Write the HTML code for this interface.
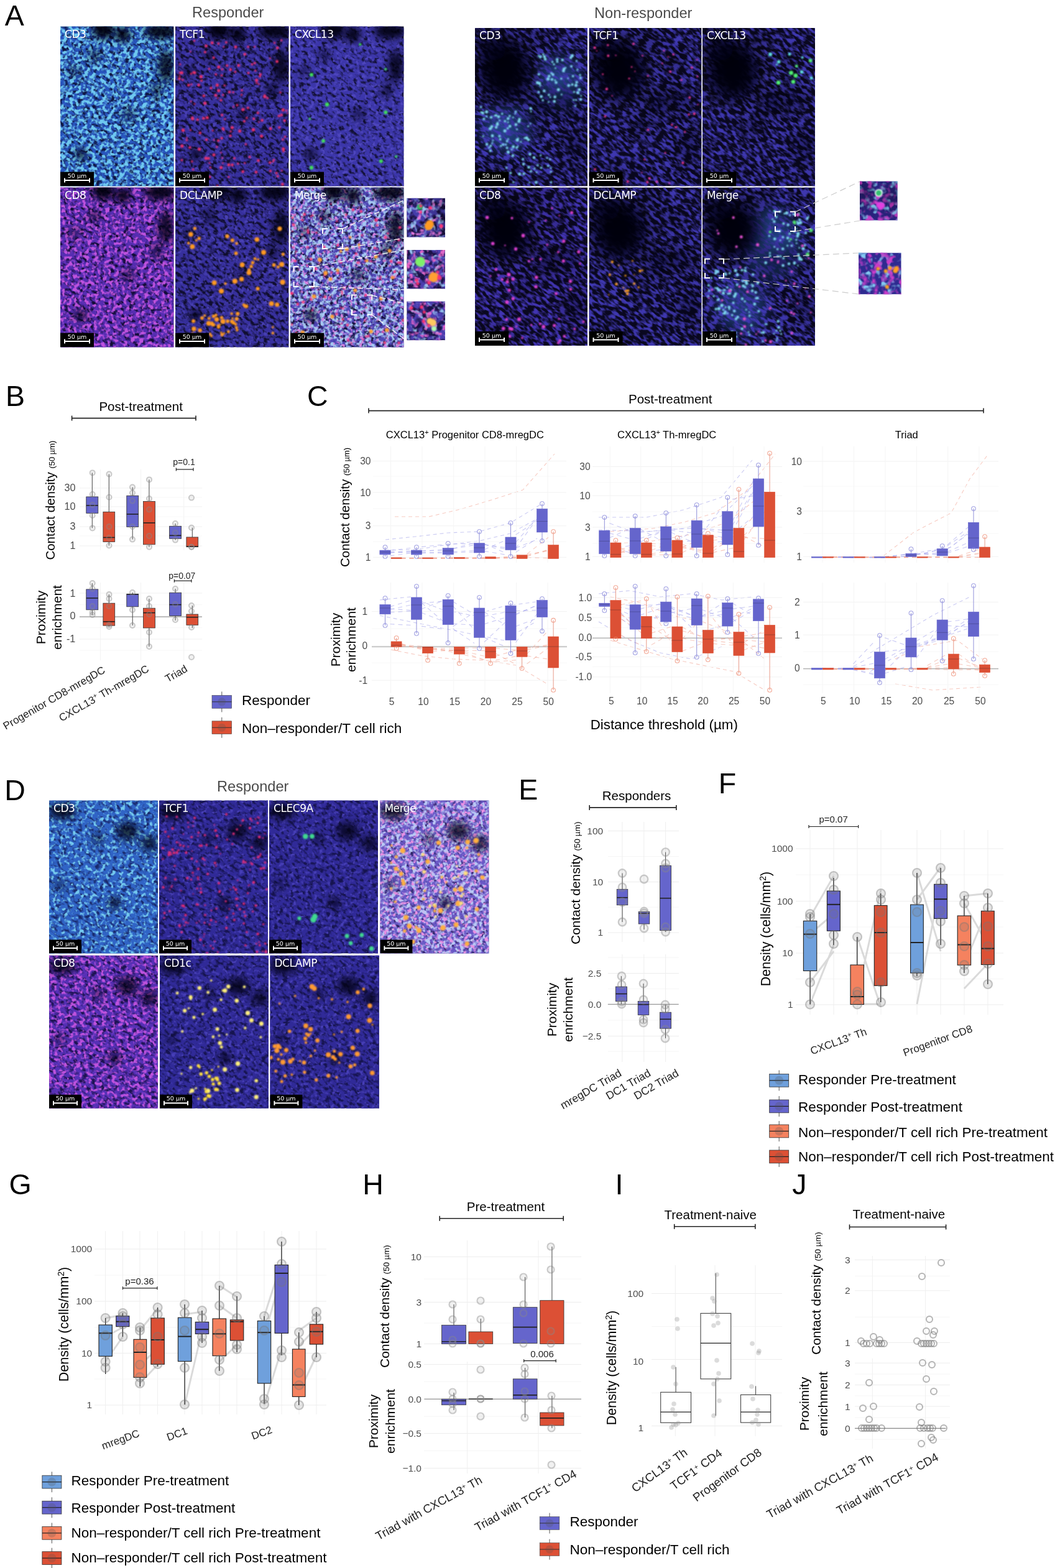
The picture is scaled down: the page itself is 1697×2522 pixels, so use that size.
<!DOCTYPE html><html><head><meta charset="utf-8"><title>Figure</title><style>html,body{margin:0;padding:0;background:#fff;}svg{display:block;}</style></head><body><svg width="1697" height="2522" viewBox="0 0 1697 2522" font-family='"Liberation Sans", Arial, Helvetica, sans-serif'><defs><filter id="blur8" x="-50%" y="-50%" width="200%" height="200%"><feGaussianBlur stdDeviation="8"/></filter><filter id="blur14" x="-50%" y="-50%" width="200%" height="200%"><feGaussianBlur stdDeviation="14"/></filter><filter id="blur6" x="-50%" y="-50%" width="200%" height="200%"><feGaussianBlur stdDeviation="6"/></filter><filter id="blur3" x="-50%" y="-50%" width="200%" height="200%"><feGaussianBlur stdDeviation="2.5"/></filter><filter id="blur1" x="-50%" y="-50%" width="200%" height="200%"><feGaussianBlur stdDeviation="1"/></filter><filter id="f1" x="0" y="0" width="1" height="1" color-interpolation-filters="sRGB"><feTurbulence type="fractalNoise" baseFrequency="0.12 0.2" numOctaves="2" seed="3"/><feColorMatrix type="matrix" values="0 0 0 0 0.157 0 0 0 0 0.333 0 0 0 0 0.745 4.0 0 0 0 -1.2"/></filter><filter id="f2" x="0" y="0" width="1" height="1" color-interpolation-filters="sRGB"><feTurbulence type="fractalNoise" baseFrequency="0.17" numOctaves="2" seed="4"/><feColorMatrix type="matrix" values="0 0 0 0 0.431 0 0 0 0 0.784 0 0 0 0 0.941 5.0 0 0 0 -2.2"/></filter><filter id="f3" x="0" y="0" width="1" height="1" color-interpolation-filters="sRGB"><feTurbulence type="fractalNoise" baseFrequency="0.12 0.2" numOctaves="2" seed="5"/><feColorMatrix type="matrix" values="0 0 0 0 0.216 0 0 0 0 0.188 0 0 0 0 0.620 4.0 0 0 0 -1.3"/></filter><filter id="f4" x="0" y="0" width="1" height="1" color-interpolation-filters="sRGB"><feTurbulence type="fractalNoise" baseFrequency="0.17" numOctaves="2" seed="6"/><feColorMatrix type="matrix" values="0 0 0 0 0.282 0 0 0 0 0.251 0 0 0 0 0.706 5.0 0 0 0 -2.7"/></filter><filter id="f5" x="0" y="0" width="1" height="1" color-interpolation-filters="sRGB"><feTurbulence type="fractalNoise" baseFrequency="0.12 0.2" numOctaves="2" seed="7"/><feColorMatrix type="matrix" values="0 0 0 0 0.235 0 0 0 0 0.212 0 0 0 0 0.667 4.0 0 0 0 -1.15"/></filter><filter id="f6" x="0" y="0" width="1" height="1" color-interpolation-filters="sRGB"><feTurbulence type="fractalNoise" baseFrequency="0.17" numOctaves="2" seed="8"/><feColorMatrix type="matrix" values="0 0 0 0 0.306 0 0 0 0 0.275 0 0 0 0 0.745 5.0 0 0 0 -2.6"/></filter><filter id="f7" x="0" y="0" width="1" height="1" color-interpolation-filters="sRGB"><feTurbulence type="fractalNoise" baseFrequency="0.12 0.2" numOctaves="2" seed="9"/><feColorMatrix type="matrix" values="0 0 0 0 0.337 0 0 0 0 0.176 0 0 0 0 0.698 4.0 0 0 0 -1.15"/></filter><filter id="f8" x="0" y="0" width="1" height="1" color-interpolation-filters="sRGB"><feTurbulence type="fractalNoise" baseFrequency="0.17" numOctaves="2" seed="10"/><feColorMatrix type="matrix" values="0 0 0 0 0.745 0 0 0 0 0.322 0 0 0 0 0.871 5.0 0 0 0 -2.35"/></filter><filter id="f9" x="0" y="0" width="1" height="1" color-interpolation-filters="sRGB"><feTurbulence type="fractalNoise" baseFrequency="0.12 0.2" numOctaves="2" seed="11"/><feColorMatrix type="matrix" values="0 0 0 0 0.216 0 0 0 0 0.188 0 0 0 0 0.620 4.0 0 0 0 -1.3"/></filter><filter id="f10" x="0" y="0" width="1" height="1" color-interpolation-filters="sRGB"><feTurbulence type="fractalNoise" baseFrequency="0.17" numOctaves="2" seed="12"/><feColorMatrix type="matrix" values="0 0 0 0 0.282 0 0 0 0 0.251 0 0 0 0 0.706 5.0 0 0 0 -2.7"/></filter><filter id="f11" x="0" y="0" width="1" height="1" color-interpolation-filters="sRGB"><feTurbulence type="fractalNoise" baseFrequency="0.12 0.2" numOctaves="2" seed="13"/><feColorMatrix type="matrix" values="0 0 0 0 0.314 0 0 0 0 0.282 0 0 0 0 0.725 4.0 0 0 0 -1.05"/></filter><filter id="f12" x="0" y="0" width="1" height="1" color-interpolation-filters="sRGB"><feTurbulence type="fractalNoise" baseFrequency="0.17" numOctaves="2" seed="14"/><feColorMatrix type="matrix" values="0 0 0 0 0.647 0 0 0 0 0.784 0 0 0 0 0.949 5.0 0 0 0 -2.15"/></filter><filter id="f13" x="0" y="0" width="1" height="1" color-interpolation-filters="sRGB"><feTurbulence type="fractalNoise" baseFrequency="0.18" numOctaves="2" seed="15"/><feColorMatrix type="matrix" values="0 0 0 0 0.843 0 0 0 0 0.510 0 0 0 0 0.882 5.0 0 0 0 -2.75"/></filter><filter id="f14" x="0" y="0" width="1" height="1" color-interpolation-filters="sRGB"><feTurbulence type="fractalNoise" baseFrequency="0.16" numOctaves="2" seed="17"/><feColorMatrix type="matrix" values="0 0 0 0 0.047 0 0 0 0 0.039 0 0 0 0 0.149 4.0 0 0 0 -2.35"/></filter><filter id="f15" x="0" y="0" width="1" height="1" color-interpolation-filters="sRGB"><feTurbulence type="fractalNoise" baseFrequency="0.1" numOctaves="2" seed="20"/><feColorMatrix type="matrix" values="0 0 0 0 0.275 0 0 0 0 0.235 0 0 0 0 0.667 4.0 0 0 0 -1.4"/></filter><filter id="f16" x="0" y="0" width="1" height="1" color-interpolation-filters="sRGB"><feTurbulence type="fractalNoise" baseFrequency="0.12" numOctaves="2" seed="21"/><feColorMatrix type="matrix" values="0 0 0 0 0.588 0 0 0 0 0.765 0 0 0 0 0.941 4.0 0 0 0 -2.0"/></filter><filter id="f17" x="0" y="0" width="1" height="1" color-interpolation-filters="sRGB"><feTurbulence type="fractalNoise" baseFrequency="0.12" numOctaves="2" seed="22"/><feColorMatrix type="matrix" values="0 0 0 0 0.882 0 0 0 0 0.471 0 0 0 0 0.863 4.0 0 0 0 -2.2"/></filter><filter id="f18" x="0" y="0" width="1" height="1" color-interpolation-filters="sRGB"><feTurbulence type="fractalNoise" baseFrequency="0.1" numOctaves="2" seed="23"/><feColorMatrix type="matrix" values="0 0 0 0 0.294 0 0 0 0 0.243 0 0 0 0 0.686 4.0 0 0 0 -1.4"/></filter><filter id="f19" x="0" y="0" width="1" height="1" color-interpolation-filters="sRGB"><feTurbulence type="fractalNoise" baseFrequency="0.12" numOctaves="2" seed="24"/><feColorMatrix type="matrix" values="0 0 0 0 0.588 0 0 0 0 0.765 0 0 0 0 0.941 4.0 0 0 0 -2.1"/></filter><filter id="f20" x="0" y="0" width="1" height="1" color-interpolation-filters="sRGB"><feTurbulence type="fractalNoise" baseFrequency="0.12" numOctaves="2" seed="25"/><feColorMatrix type="matrix" values="0 0 0 0 0.902 0 0 0 0 0.392 0 0 0 0 0.784 4.0 0 0 0 -2.0"/></filter><filter id="f21" x="0" y="0" width="1" height="1" color-interpolation-filters="sRGB"><feTurbulence type="fractalNoise" baseFrequency="0.1" numOctaves="2" seed="26"/><feColorMatrix type="matrix" values="0 0 0 0 0.294 0 0 0 0 0.243 0 0 0 0 0.686 4.0 0 0 0 -1.4"/></filter><filter id="f22" x="0" y="0" width="1" height="1" color-interpolation-filters="sRGB"><feTurbulence type="fractalNoise" baseFrequency="0.12" numOctaves="2" seed="27"/><feColorMatrix type="matrix" values="0 0 0 0 0.588 0 0 0 0 0.765 0 0 0 0 0.941 4.0 0 0 0 -2.1"/></filter><filter id="f23" x="0" y="0" width="1" height="1" color-interpolation-filters="sRGB"><feTurbulence type="fractalNoise" baseFrequency="0.12" numOctaves="2" seed="28"/><feColorMatrix type="matrix" values="0 0 0 0 0.902 0 0 0 0 0.392 0 0 0 0 0.784 4.0 0 0 0 -2.1"/></filter><filter id="f24" x="0" y="0" width="1" height="1" color-interpolation-filters="sRGB"><feTurbulence type="fractalNoise" baseFrequency="0.09 0.21" numOctaves="2" seed="31"/><feColorMatrix type="matrix" values="0 0 0 0 0.243 0 0 0 0 0.216 0 0 0 0 0.686 4.0 0 0 0 -1.65"/></filter><filter id="f25" x="0" y="0" width="1" height="1" color-interpolation-filters="sRGB"><feTurbulence type="fractalNoise" baseFrequency="0.09 0.21" numOctaves="2" seed="33"/><feColorMatrix type="matrix" values="0 0 0 0 0.243 0 0 0 0 0.216 0 0 0 0 0.686 4.0 0 0 0 -1.65"/></filter><filter id="f26" x="0" y="0" width="1" height="1" color-interpolation-filters="sRGB"><feTurbulence type="fractalNoise" baseFrequency="0.09 0.21" numOctaves="2" seed="35"/><feColorMatrix type="matrix" values="0 0 0 0 0.243 0 0 0 0 0.216 0 0 0 0 0.686 4.0 0 0 0 -1.65"/></filter><filter id="f27" x="0" y="0" width="1" height="1" color-interpolation-filters="sRGB"><feTurbulence type="fractalNoise" baseFrequency="0.09 0.21" numOctaves="2" seed="37"/><feColorMatrix type="matrix" values="0 0 0 0 0.255 0 0 0 0 0.204 0 0 0 0 0.698 4.0 0 0 0 -1.65"/></filter><filter id="f28" x="0" y="0" width="1" height="1" color-interpolation-filters="sRGB"><feTurbulence type="fractalNoise" baseFrequency="0.09 0.21" numOctaves="2" seed="39"/><feColorMatrix type="matrix" values="0 0 0 0 0.243 0 0 0 0 0.216 0 0 0 0 0.686 4.0 0 0 0 -1.65"/></filter><filter id="f29" x="0" y="0" width="1" height="1" color-interpolation-filters="sRGB"><feTurbulence type="fractalNoise" baseFrequency="0.09 0.21" numOctaves="2" seed="41"/><feColorMatrix type="matrix" values="0 0 0 0 0.243 0 0 0 0 0.216 0 0 0 0 0.686 4.0 0 0 0 -1.6"/></filter><filter id="f30" x="0" y="0" width="1" height="1" color-interpolation-filters="sRGB"><feTurbulence type="fractalNoise" baseFrequency="0.1" numOctaves="2" seed="51"/><feColorMatrix type="matrix" values="0 0 0 0 0.510 0 0 0 0 0.784 0 0 0 0 0.941 4.0 0 0 0 -2.0"/></filter><filter id="f31" x="0" y="0" width="1" height="1" color-interpolation-filters="sRGB"><feTurbulence type="fractalNoise" baseFrequency="0.1" numOctaves="2" seed="52"/><feColorMatrix type="matrix" values="0 0 0 0 0.784 0 0 0 0 0.235 0 0 0 0 0.784 4.0 0 0 0 -1.9"/></filter><filter id="f32" x="0" y="0" width="1" height="1" color-interpolation-filters="sRGB"><feTurbulence type="fractalNoise" baseFrequency="0.1" numOctaves="2" seed="53"/><feColorMatrix type="matrix" values="0 0 0 0 0.510 0 0 0 0 0.784 0 0 0 0 0.941 4.0 0 0 0 -2.0"/></filter><filter id="f33" x="0" y="0" width="1" height="1" color-interpolation-filters="sRGB"><feTurbulence type="fractalNoise" baseFrequency="0.1" numOctaves="2" seed="54"/><feColorMatrix type="matrix" values="0 0 0 0 0.784 0 0 0 0 0.235 0 0 0 0 0.784 4.0 0 0 0 -1.9"/></filter><filter id="f34" x="0" y="0" width="1" height="1" color-interpolation-filters="sRGB"><feTurbulence type="fractalNoise" baseFrequency="0.12 0.2" numOctaves="2" seed="61"/><feColorMatrix type="matrix" values="0 0 0 0 0.188 0 0 0 0 0.392 0 0 0 0 0.776 4.0 0 0 0 -1.1"/></filter><filter id="f35" x="0" y="0" width="1" height="1" color-interpolation-filters="sRGB"><feTurbulence type="fractalNoise" baseFrequency="0.17" numOctaves="2" seed="62"/><feColorMatrix type="matrix" values="0 0 0 0 0.451 0 0 0 0 0.784 0 0 0 0 0.933 5.0 0 0 0 -2.55"/></filter><filter id="f36" x="0" y="0" width="1" height="1" color-interpolation-filters="sRGB"><feTurbulence type="fractalNoise" baseFrequency="0.12 0.2" numOctaves="2" seed="63"/><feColorMatrix type="matrix" values="0 0 0 0 0.188 0 0 0 0 0.165 0 0 0 0 0.596 4.0 0 0 0 -1.2"/></filter><filter id="f37" x="0" y="0" width="1" height="1" color-interpolation-filters="sRGB"><feTurbulence type="fractalNoise" baseFrequency="0.17" numOctaves="2" seed="64"/><feColorMatrix type="matrix" values="0 0 0 0 0.275 0 0 0 0 0.243 0 0 0 0 0.714 5.0 0 0 0 -2.7"/></filter><filter id="f38" x="0" y="0" width="1" height="1" color-interpolation-filters="sRGB"><feTurbulence type="fractalNoise" baseFrequency="0.12 0.2" numOctaves="2" seed="65"/><feColorMatrix type="matrix" values="0 0 0 0 0.188 0 0 0 0 0.165 0 0 0 0 0.596 4.0 0 0 0 -1.2"/></filter><filter id="f39" x="0" y="0" width="1" height="1" color-interpolation-filters="sRGB"><feTurbulence type="fractalNoise" baseFrequency="0.17" numOctaves="2" seed="66"/><feColorMatrix type="matrix" values="0 0 0 0 0.275 0 0 0 0 0.243 0 0 0 0 0.714 5.0 0 0 0 -2.7"/></filter><filter id="f40" x="0" y="0" width="1" height="1" color-interpolation-filters="sRGB"><feTurbulence type="fractalNoise" baseFrequency="0.12 0.2" numOctaves="2" seed="67"/><feColorMatrix type="matrix" values="0 0 0 0 0.412 0 0 0 0 0.345 0 0 0 0 0.776 4.0 0 0 0 -0.9"/></filter><filter id="f41" x="0" y="0" width="1" height="1" color-interpolation-filters="sRGB"><feTurbulence type="fractalNoise" baseFrequency="0.17" numOctaves="2" seed="68"/><feColorMatrix type="matrix" values="0 0 0 0 0.725 0 0 0 0 0.784 0 0 0 0 0.961 5.0 0 0 0 -2.25"/></filter><filter id="f42" x="0" y="0" width="1" height="1" color-interpolation-filters="sRGB"><feTurbulence type="fractalNoise" baseFrequency="0.18" numOctaves="2" seed="69"/><feColorMatrix type="matrix" values="0 0 0 0 0.910 0 0 0 0 0.569 0 0 0 0 0.894 5.0 0 0 0 -2.6"/></filter><filter id="f43" x="0" y="0" width="1" height="1" color-interpolation-filters="sRGB"><feTurbulence type="fractalNoise" baseFrequency="0.12 0.2" numOctaves="2" seed="70"/><feColorMatrix type="matrix" values="0 0 0 0 0.337 0 0 0 0 0.188 0 0 0 0 0.714 4.0 0 0 0 -1.2"/></filter><filter id="f44" x="0" y="0" width="1" height="1" color-interpolation-filters="sRGB"><feTurbulence type="fractalNoise" baseFrequency="0.17" numOctaves="2" seed="71"/><feColorMatrix type="matrix" values="0 0 0 0 0.745 0 0 0 0 0.322 0 0 0 0 0.871 5.0 0 0 0 -2.4"/></filter><filter id="f45" x="0" y="0" width="1" height="1" color-interpolation-filters="sRGB"><feTurbulence type="fractalNoise" baseFrequency="0.12 0.2" numOctaves="2" seed="72"/><feColorMatrix type="matrix" values="0 0 0 0 0.188 0 0 0 0 0.165 0 0 0 0 0.596 4.0 0 0 0 -1.2"/></filter><filter id="f46" x="0" y="0" width="1" height="1" color-interpolation-filters="sRGB"><feTurbulence type="fractalNoise" baseFrequency="0.17" numOctaves="2" seed="73"/><feColorMatrix type="matrix" values="0 0 0 0 0.275 0 0 0 0 0.243 0 0 0 0 0.714 5.0 0 0 0 -2.7"/></filter><filter id="f47" x="0" y="0" width="1" height="1" color-interpolation-filters="sRGB"><feTurbulence type="fractalNoise" baseFrequency="0.12 0.2" numOctaves="2" seed="74"/><feColorMatrix type="matrix" values="0 0 0 0 0.188 0 0 0 0 0.165 0 0 0 0 0.596 4.0 0 0 0 -1.2"/></filter><filter id="f48" x="0" y="0" width="1" height="1" color-interpolation-filters="sRGB"><feTurbulence type="fractalNoise" baseFrequency="0.17" numOctaves="2" seed="75"/><feColorMatrix type="matrix" values="0 0 0 0 0.275 0 0 0 0 0.243 0 0 0 0 0.714 5.0 0 0 0 -2.7"/></filter></defs><rect width="1697" height="2522" fill="#fff"/><text x="7.7" y="40.6" font-size="46.5" text-anchor="start" fill="#000">A</text>
<text x="309.0" y="28.2" font-size="23.6" text-anchor="start" fill="#4a4a4a">Responder</text>
<text x="956.0" y="28.7" font-size="23.6" text-anchor="start" fill="#4a4a4a">Non-responder</text>
<svg x="97.0" y="42.5" width="182.5" height="257.0" overflow="hidden">
<rect width="182.5" height="257.0" fill="#0e1640"/>
<rect x="-66.4" y="-29.1" width="315.2" height="315.2" filter="url(#f1)" transform="rotate(35 91.2 128.5)"/>
<rect x="-66.4" y="-29.1" width="315.2" height="315.2" filter="url(#f2)" transform="rotate(35 91.2 128.5)"/>
<ellipse cx="69.3" cy="5.1" rx="18.2" ry="15.4" fill="#05030f" opacity="0.95" filter="url(#blur6)"/>
<ellipse cx="100.4" cy="12.9" rx="12.8" ry="12.9" fill="#05030f" opacity="0.9" filter="url(#blur6)"/>
<ellipse cx="160.6" cy="7.7" rx="25.6" ry="12.9" fill="#05030f" opacity="0.9" filter="url(#blur6)"/>
<ellipse cx="169.7" cy="64.2" rx="12.8" ry="25.7" fill="#05030f" opacity="0.8" filter="url(#blur6)"/>
<ellipse cx="155.1" cy="102.8" rx="9.1" ry="12.9" fill="#05030f" opacity="0.6" filter="url(#blur6)"/>
<ellipse cx="32.9" cy="205.6" rx="9.1" ry="9.0" fill="#05030f" opacity="0.85" filter="url(#blur6)"/>
<ellipse cx="109.5" cy="141.4" rx="10.9" ry="10.3" fill="#05030f" opacity="0.5" filter="url(#blur6)"/>
<ellipse cx="21.9" cy="72.0" rx="10.9" ry="7.7" fill="#05030f" opacity="0.5" filter="url(#blur6)"/>
<ellipse cx="54.8" cy="46.3" rx="9.1" ry="10.3" fill="#05030f" opacity="0.6" filter="url(#blur6)"/>
<text x="7" y="18" font-size="17" fill="#fff" font-family='"DejaVu Sans", sans-serif' letter-spacing="-0.45">CD3</text>
<rect x="0" y="234.0" width="54" height="23" fill="#000"/>
<text x="27.0" y="243.5" font-size="9.5" fill="#fff" text-anchor="middle" font-family='"DejaVu Sans", sans-serif'>50 µm</text>
<path d="M7 247.5 H47 M7 244.0 V251.0 M47 244.0 V251.0" stroke="#fff" stroke-width="2" fill="none"/>
</svg>
<svg x="282.0" y="42.5" width="182.5" height="257.0" overflow="hidden">
<rect width="182.5" height="257.0" fill="#100e30"/>
<rect x="-66.4" y="-29.1" width="315.2" height="315.2" filter="url(#f3)" transform="rotate(35 91.2 128.5)"/>
<rect x="-66.4" y="-29.1" width="315.2" height="315.2" filter="url(#f4)" transform="rotate(35 91.2 128.5)"/>
<ellipse cx="69.3" cy="5.1" rx="18.2" ry="15.4" fill="#05030f" opacity="0.95" filter="url(#blur6)"/>
<ellipse cx="100.4" cy="12.9" rx="12.8" ry="12.9" fill="#05030f" opacity="0.9" filter="url(#blur6)"/>
<ellipse cx="160.6" cy="7.7" rx="25.6" ry="12.9" fill="#05030f" opacity="0.9" filter="url(#blur6)"/>
<ellipse cx="169.7" cy="64.2" rx="12.8" ry="25.7" fill="#05030f" opacity="0.8" filter="url(#blur6)"/>
<ellipse cx="155.1" cy="102.8" rx="9.1" ry="12.9" fill="#05030f" opacity="0.6" filter="url(#blur6)"/>
<ellipse cx="32.9" cy="205.6" rx="9.1" ry="9.0" fill="#05030f" opacity="0.85" filter="url(#blur6)"/>
<ellipse cx="109.5" cy="141.4" rx="10.9" ry="10.3" fill="#05030f" opacity="0.5" filter="url(#blur6)"/>
<ellipse cx="21.9" cy="72.0" rx="10.9" ry="7.7" fill="#05030f" opacity="0.5" filter="url(#blur6)"/>
<ellipse cx="54.8" cy="46.3" rx="9.1" ry="10.3" fill="#05030f" opacity="0.6" filter="url(#blur6)"/>
<g fill="#f0306a" filter="url(#blur1)"><circle cx="88.6" cy="176.0" r="2.1"/><circle cx="30.5" cy="23.1" r="1.7"/><circle cx="53.5" cy="212.2" r="2.2"/><circle cx="110.9" cy="152.5" r="2.1"/><circle cx="30.9" cy="124.6" r="1.4"/><circle cx="164.2" cy="34.5" r="2.3"/><circle cx="18.5" cy="183.0" r="1.7"/><circle cx="76.4" cy="219.7" r="1.2"/><circle cx="16.1" cy="236.9" r="1.9"/><circle cx="21.4" cy="254.0" r="2.5"/><circle cx="25.2" cy="120.6" r="1.4"/><circle cx="60.2" cy="167.5" r="1.4"/><circle cx="127.6" cy="32.7" r="1.4"/><circle cx="148.4" cy="115.3" r="1.8"/><circle cx="109.9" cy="133.3" r="1.7"/><circle cx="10.8" cy="192.3" r="2.6"/><circle cx="176.5" cy="177.5" r="1.7"/><circle cx="69.1" cy="183.7" r="2.1"/><circle cx="25.4" cy="76.1" r="1.7"/><circle cx="95.1" cy="212.1" r="1.9"/><circle cx="10.4" cy="215.0" r="1.8"/><circle cx="96.4" cy="73.1" r="1.8"/><circle cx="73.5" cy="203.1" r="1.3"/><circle cx="101.8" cy="62.7" r="2.2"/><circle cx="11.9" cy="85.9" r="1.7"/><circle cx="117.1" cy="32.9" r="1.8"/><circle cx="42.1" cy="87.2" r="1.9"/><circle cx="173.4" cy="134.3" r="2.5"/><circle cx="34.8" cy="239.1" r="1.7"/><circle cx="38.6" cy="197.5" r="2.5"/><circle cx="6.6" cy="84.0" r="2.3"/><circle cx="65.4" cy="77.7" r="1.2"/><circle cx="12.5" cy="166.9" r="2.6"/><circle cx="180.4" cy="139.6" r="1.2"/><circle cx="62.0" cy="206.7" r="2.4"/><circle cx="117.5" cy="74.8" r="1.9"/><circle cx="89.1" cy="168.8" r="1.6"/><circle cx="171.3" cy="232.0" r="1.4"/><circle cx="56.5" cy="227.0" r="1.6"/><circle cx="170.8" cy="142.4" r="2.2"/><circle cx="128.9" cy="71.2" r="1.6"/><circle cx="50.1" cy="182.1" r="2.2"/><circle cx="28.6" cy="230.1" r="1.8"/><circle cx="47.7" cy="123.5" r="2.6"/><circle cx="103.6" cy="168.3" r="2.5"/><circle cx="174.0" cy="200.4" r="1.8"/><circle cx="108.6" cy="233.6" r="2.3"/><circle cx="107.1" cy="102.7" r="1.7"/><circle cx="134.4" cy="153.8" r="1.2"/><circle cx="129.9" cy="234.3" r="2.3"/><circle cx="162.7" cy="235.8" r="1.9"/><circle cx="143.7" cy="110.3" r="1.3"/><circle cx="67.4" cy="94.4" r="2.5"/><circle cx="126.2" cy="148.6" r="2.1"/><circle cx="27.3" cy="146.9" r="2.2"/><circle cx="74.5" cy="78.7" r="1.8"/><circle cx="62.2" cy="182.6" r="1.4"/><circle cx="21.3" cy="94.4" r="2.2"/><circle cx="138.6" cy="176.5" r="2.5"/><circle cx="69.5" cy="27.6" r="1.9"/><circle cx="83.2" cy="63.0" r="2.1"/><circle cx="65.3" cy="76.9" r="1.7"/><circle cx="170.8" cy="22.4" r="1.7"/><circle cx="54.5" cy="68.2" r="1.8"/><circle cx="44.1" cy="237.8" r="1.9"/><circle cx="127.8" cy="58.9" r="1.9"/><circle cx="111.7" cy="219.8" r="1.5"/><circle cx="86.0" cy="222.7" r="2.4"/><circle cx="45.3" cy="147.8" r="2.3"/><circle cx="74.7" cy="179.8" r="2.1"/><circle cx="175.8" cy="151.5" r="2.2"/><circle cx="66.8" cy="193.7" r="1.7"/><circle cx="93.1" cy="105.9" r="1.6"/><circle cx="29.3" cy="73.9" r="2.0"/><circle cx="49.6" cy="31.4" r="2.3"/><circle cx="55.5" cy="241.9" r="2.0"/><circle cx="73.6" cy="227.0" r="2.5"/><circle cx="61.7" cy="50.3" r="2.1"/><circle cx="153.1" cy="164.4" r="2.3"/><circle cx="77.7" cy="166.6" r="1.6"/><circle cx="76.8" cy="110.3" r="1.7"/><circle cx="75.5" cy="211.4" r="1.4"/><circle cx="41.4" cy="80.8" r="2.6"/><circle cx="97.1" cy="33.1" r="2.4"/><circle cx="158.5" cy="214.7" r="1.7"/><circle cx="134.2" cy="92.8" r="1.4"/><circle cx="157.1" cy="217.5" r="1.5"/><circle cx="159.6" cy="26.4" r="1.6"/><circle cx="7.7" cy="61.0" r="1.4"/><circle cx="130.9" cy="90.7" r="1.5"/><circle cx="37.7" cy="94.3" r="2.4"/><circle cx="111.8" cy="44.8" r="2.2"/><circle cx="99.4" cy="126.6" r="1.9"/><circle cx="119.6" cy="209.9" r="1.9"/><circle cx="116.8" cy="131.0" r="2.1"/><circle cx="73.5" cy="118.7" r="1.9"/><circle cx="130.7" cy="86.4" r="2.5"/><circle cx="91.6" cy="222.8" r="2.2"/><circle cx="173.0" cy="181.9" r="1.8"/><circle cx="76.6" cy="164.2" r="2.3"/><circle cx="152.5" cy="51.1" r="1.3"/><circle cx="24.4" cy="40.5" r="1.3"/><circle cx="6.9" cy="79.6" r="1.4"/><circle cx="125.5" cy="166.2" r="2.6"/><circle cx="173.8" cy="197.1" r="2.5"/><circle cx="10.4" cy="74.5" r="2.5"/><circle cx="88.8" cy="69.4" r="2.3"/><circle cx="79.7" cy="149.0" r="1.6"/><circle cx="47.8" cy="41.2" r="2.0"/><circle cx="172.4" cy="253.9" r="2.3"/><circle cx="169.0" cy="106.2" r="1.6"/><circle cx="167.3" cy="162.5" r="2.1"/><circle cx="7.7" cy="74.6" r="1.9"/><circle cx="133.5" cy="215.8" r="2.3"/><circle cx="65.0" cy="110.8" r="2.4"/><circle cx="178.8" cy="135.2" r="1.5"/><circle cx="114.9" cy="147.3" r="1.7"/><circle cx="45.9" cy="111.7" r="2.1"/><circle cx="27.7" cy="148.5" r="2.5"/><circle cx="136.0" cy="80.2" r="1.8"/><circle cx="23.4" cy="194.8" r="2.1"/><circle cx="35.8" cy="150.1" r="2.0"/><circle cx="106.6" cy="110.0" r="1.6"/><circle cx="67.6" cy="256.4" r="1.7"/><circle cx="93.5" cy="129.3" r="1.4"/><circle cx="75.5" cy="69.0" r="1.7"/><circle cx="69.8" cy="103.3" r="2.5"/><circle cx="57.5" cy="99.1" r="2.1"/><circle cx="75.1" cy="142.5" r="2.1"/><circle cx="18.4" cy="179.3" r="1.3"/><circle cx="49.3" cy="212.0" r="2.6"/><circle cx="123.5" cy="61.1" r="1.8"/><circle cx="55.0" cy="219.4" r="1.5"/><circle cx="39.9" cy="171.4" r="2.1"/><circle cx="108.8" cy="133.8" r="2.5"/><circle cx="85.8" cy="242.1" r="1.7"/><circle cx="87.0" cy="105.5" r="2.2"/><circle cx="137.1" cy="77.1" r="1.9"/><circle cx="132.8" cy="139.1" r="2.1"/><circle cx="113.4" cy="189.5" r="1.7"/><circle cx="59.2" cy="26.4" r="2.4"/><circle cx="143.9" cy="112.8" r="2.6"/><circle cx="163.6" cy="56.4" r="2.4"/><circle cx="79.2" cy="94.9" r="1.6"/><circle cx="78.0" cy="32.8" r="1.3"/><circle cx="26.0" cy="93.2" r="1.4"/><circle cx="26.8" cy="217.3" r="1.7"/><circle cx="91.4" cy="162.7" r="2.5"/><circle cx="31.1" cy="74.5" r="2.4"/><circle cx="164.8" cy="240.9" r="1.9"/><circle cx="69.8" cy="65.2" r="2.5"/><circle cx="139.6" cy="151.0" r="2.3"/><circle cx="51.2" cy="146.8" r="2.5"/><circle cx="24.5" cy="166.5" r="1.5"/><circle cx="152.3" cy="219.0" r="2.1"/><circle cx="81.9" cy="25.6" r="1.9"/><circle cx="68.4" cy="115.2" r="1.3"/><circle cx="166.7" cy="144.0" r="2.0"/><circle cx="153.0" cy="232.5" r="2.0"/><circle cx="100.8" cy="220.8" r="1.7"/></g>
<text x="7" y="18" font-size="17" fill="#fff" font-family='"DejaVu Sans", sans-serif' letter-spacing="-0.45">TCF1</text>
<rect x="0" y="234.0" width="54" height="23" fill="#000"/>
<text x="27.0" y="243.5" font-size="9.5" fill="#fff" text-anchor="middle" font-family='"DejaVu Sans", sans-serif'>50 µm</text>
<path d="M7 247.5 H47 M7 244.0 V251.0 M47 244.0 V251.0" stroke="#fff" stroke-width="2" fill="none"/>
</svg>
<svg x="467.0" y="42.5" width="182.5" height="257.0" overflow="hidden">
<rect width="182.5" height="257.0" fill="#121035"/>
<rect x="-66.4" y="-29.1" width="315.2" height="315.2" filter="url(#f5)" transform="rotate(35 91.2 128.5)"/>
<rect x="-66.4" y="-29.1" width="315.2" height="315.2" filter="url(#f6)" transform="rotate(35 91.2 128.5)"/>
<ellipse cx="69.3" cy="5.1" rx="18.2" ry="15.4" fill="#05030f" opacity="0.95" filter="url(#blur6)"/>
<ellipse cx="100.4" cy="12.9" rx="12.8" ry="12.9" fill="#05030f" opacity="0.9" filter="url(#blur6)"/>
<ellipse cx="160.6" cy="7.7" rx="25.6" ry="12.9" fill="#05030f" opacity="0.9" filter="url(#blur6)"/>
<ellipse cx="169.7" cy="64.2" rx="12.8" ry="25.7" fill="#05030f" opacity="0.8" filter="url(#blur6)"/>
<ellipse cx="155.1" cy="102.8" rx="9.1" ry="12.9" fill="#05030f" opacity="0.6" filter="url(#blur6)"/>
<ellipse cx="32.9" cy="205.6" rx="9.1" ry="9.0" fill="#05030f" opacity="0.85" filter="url(#blur6)"/>
<ellipse cx="109.5" cy="141.4" rx="10.9" ry="10.3" fill="#05030f" opacity="0.5" filter="url(#blur6)"/>
<ellipse cx="21.9" cy="72.0" rx="10.9" ry="7.7" fill="#05030f" opacity="0.5" filter="url(#blur6)"/>
<ellipse cx="54.8" cy="46.3" rx="9.1" ry="10.3" fill="#05030f" opacity="0.6" filter="url(#blur6)"/>
<g fill="#3fe05a" filter="url(#blur1)"><circle cx="53.1" cy="184.2" r="2.9"/><circle cx="153.3" cy="68.7" r="2.0"/><circle cx="34.1" cy="77.8" r="3.0"/><circle cx="31.2" cy="148.6" r="1.9"/><circle cx="59.1" cy="125.5" r="3.2"/><circle cx="112.4" cy="29.0" r="2.1"/><circle cx="34.0" cy="227.2" r="3.1"/><circle cx="145.9" cy="216.8" r="3.0"/><circle cx="170.2" cy="209.3" r="2.0"/><circle cx="153.4" cy="138.3" r="3.0"/></g>
<text x="7" y="18" font-size="17" fill="#fff" font-family='"DejaVu Sans", sans-serif' letter-spacing="-0.45">CXCL13</text>
<rect x="0" y="234.0" width="54" height="23" fill="#000"/>
<text x="27.0" y="243.5" font-size="9.5" fill="#fff" text-anchor="middle" font-family='"DejaVu Sans", sans-serif'>50 µm</text>
<path d="M7 247.5 H47 M7 244.0 V251.0 M47 244.0 V251.0" stroke="#fff" stroke-width="2" fill="none"/>
</svg>
<svg x="97.0" y="301.5" width="182.5" height="257.0" overflow="hidden">
<rect width="182.5" height="257.0" fill="#120c38"/>
<rect x="-66.4" y="-29.1" width="315.2" height="315.2" filter="url(#f7)" transform="rotate(35 91.2 128.5)"/>
<rect x="-66.4" y="-29.1" width="315.2" height="315.2" filter="url(#f8)" transform="rotate(35 91.2 128.5)"/>
<ellipse cx="69.3" cy="5.1" rx="18.2" ry="15.4" fill="#05030f" opacity="0.95" filter="url(#blur6)"/>
<ellipse cx="100.4" cy="12.9" rx="12.8" ry="12.9" fill="#05030f" opacity="0.9" filter="url(#blur6)"/>
<ellipse cx="160.6" cy="7.7" rx="25.6" ry="12.9" fill="#05030f" opacity="0.9" filter="url(#blur6)"/>
<ellipse cx="169.7" cy="64.2" rx="12.8" ry="25.7" fill="#05030f" opacity="0.8" filter="url(#blur6)"/>
<ellipse cx="155.1" cy="102.8" rx="9.1" ry="12.9" fill="#05030f" opacity="0.6" filter="url(#blur6)"/>
<ellipse cx="32.9" cy="205.6" rx="9.1" ry="9.0" fill="#05030f" opacity="0.85" filter="url(#blur6)"/>
<ellipse cx="109.5" cy="141.4" rx="10.9" ry="10.3" fill="#05030f" opacity="0.5" filter="url(#blur6)"/>
<ellipse cx="21.9" cy="72.0" rx="10.9" ry="7.7" fill="#05030f" opacity="0.5" filter="url(#blur6)"/>
<ellipse cx="54.8" cy="46.3" rx="9.1" ry="10.3" fill="#05030f" opacity="0.6" filter="url(#blur6)"/>
<text x="7" y="18" font-size="17" fill="#fff" font-family='"DejaVu Sans", sans-serif' letter-spacing="-0.45">CD8</text>
<rect x="0" y="234.0" width="54" height="23" fill="#000"/>
<text x="27.0" y="243.5" font-size="9.5" fill="#fff" text-anchor="middle" font-family='"DejaVu Sans", sans-serif'>50 µm</text>
<path d="M7 247.5 H47 M7 244.0 V251.0 M47 244.0 V251.0" stroke="#fff" stroke-width="2" fill="none"/>
</svg>
<svg x="282.0" y="301.5" width="182.5" height="257.0" overflow="hidden">
<rect width="182.5" height="257.0" fill="#100e30"/>
<rect x="-66.4" y="-29.1" width="315.2" height="315.2" filter="url(#f9)" transform="rotate(35 91.2 128.5)"/>
<rect x="-66.4" y="-29.1" width="315.2" height="315.2" filter="url(#f10)" transform="rotate(35 91.2 128.5)"/>
<ellipse cx="69.3" cy="5.1" rx="18.2" ry="15.4" fill="#05030f" opacity="0.95" filter="url(#blur6)"/>
<ellipse cx="100.4" cy="12.9" rx="12.8" ry="12.9" fill="#05030f" opacity="0.9" filter="url(#blur6)"/>
<ellipse cx="160.6" cy="7.7" rx="25.6" ry="12.9" fill="#05030f" opacity="0.9" filter="url(#blur6)"/>
<ellipse cx="169.7" cy="64.2" rx="12.8" ry="25.7" fill="#05030f" opacity="0.8" filter="url(#blur6)"/>
<ellipse cx="155.1" cy="102.8" rx="9.1" ry="12.9" fill="#05030f" opacity="0.6" filter="url(#blur6)"/>
<ellipse cx="32.9" cy="205.6" rx="9.1" ry="9.0" fill="#05030f" opacity="0.85" filter="url(#blur6)"/>
<ellipse cx="109.5" cy="141.4" rx="10.9" ry="10.3" fill="#05030f" opacity="0.5" filter="url(#blur6)"/>
<ellipse cx="21.9" cy="72.0" rx="10.9" ry="7.7" fill="#05030f" opacity="0.5" filter="url(#blur6)"/>
<ellipse cx="54.8" cy="46.3" rx="9.1" ry="10.3" fill="#05030f" opacity="0.6" filter="url(#blur6)"/>
<g fill="#ff9a20" filter="url(#blur1)"><circle cx="168.0" cy="66.3" r="3.6"/><circle cx="42.8" cy="241.7" r="1.8"/><circle cx="154.7" cy="186.8" r="3.9"/><circle cx="173.3" cy="107.4" r="2.6"/><circle cx="128.1" cy="114.7" r="2.4"/><circle cx="53.7" cy="218.6" r="3.9"/><circle cx="142.0" cy="104.4" r="4.0"/><circle cx="97.6" cy="105.9" r="2.9"/><circle cx="83.4" cy="78.5" r="3.2"/><circle cx="74.1" cy="166.7" r="4.0"/><circle cx="118.4" cy="137.1" r="3.9"/><circle cx="172.6" cy="152.4" r="4.1"/><circle cx="21.2" cy="89.5" r="2.2"/><circle cx="163.8" cy="188.5" r="3.5"/><circle cx="62.7" cy="153.3" r="3.9"/><circle cx="33.7" cy="85.2" r="1.9"/><circle cx="91.0" cy="215.5" r="3.1"/><circle cx="80.5" cy="154.6" r="2.2"/><circle cx="165.3" cy="127.9" r="2.4"/><circle cx="66.5" cy="212.7" r="2.6"/><circle cx="158.6" cy="124.7" r="2.9"/><circle cx="29.8" cy="227.5" r="3.7"/><circle cx="91.8" cy="85.0" r="3.0"/><circle cx="76.6" cy="215.4" r="4.0"/><circle cx="133.2" cy="115.9" r="1.9"/><circle cx="156.9" cy="234.2" r="2.2"/><circle cx="95.8" cy="150.8" r="4.1"/><circle cx="24.9" cy="75.4" r="3.8"/><circle cx="106.6" cy="147.4" r="3.7"/><circle cx="110.3" cy="188.8" r="2.4"/><circle cx="31.4" cy="65.9" r="2.6"/><circle cx="118.8" cy="132.6" r="2.6"/><circle cx="114.2" cy="191.1" r="3.2"/><circle cx="66.6" cy="212.1" r="3.7"/><circle cx="156.9" cy="224.8" r="1.8"/><circle cx="122.1" cy="126.9" r="2.7"/><circle cx="98.6" cy="90.1" r="2.4"/><circle cx="171.2" cy="123.8" r="4.0"/><circle cx="124.4" cy="120.9" r="2.6"/><circle cx="112.1" cy="190.6" r="2.6"/><circle cx="27.4" cy="95.2" r="3.9"/><circle cx="131.3" cy="83.7" r="3.8"/><circle cx="107.6" cy="124.5" r="3.9"/><circle cx="38.2" cy="81.9" r="2.6"/><circle cx="132.7" cy="162.8" r="3.0"/></g>
<g fill="#ff9a20" filter="url(#blur1)"><circle cx="93.6" cy="217.7" r="2.8"/><circle cx="27.7" cy="234.7" r="1.8"/><circle cx="75.2" cy="237.1" r="2.6"/><circle cx="69.6" cy="224.5" r="2.8"/><circle cx="54.3" cy="210.7" r="2.4"/><circle cx="65.4" cy="205.5" r="2.4"/><circle cx="61.5" cy="207.3" r="2.7"/><circle cx="84.2" cy="215.3" r="3.0"/><circle cx="99.4" cy="229.4" r="2.2"/><circle cx="47.3" cy="206.1" r="2.0"/><circle cx="100.3" cy="203.1" r="3.1"/><circle cx="78.3" cy="234.7" r="1.7"/><circle cx="74.5" cy="209.4" r="2.7"/><circle cx="85.4" cy="232.0" r="2.4"/><circle cx="92.0" cy="210.5" r="1.8"/><circle cx="90.6" cy="202.9" r="2.2"/><circle cx="58.0" cy="238.8" r="2.1"/><circle cx="68.9" cy="222.4" r="2.3"/><circle cx="61.9" cy="220.9" r="2.5"/><circle cx="58.9" cy="218.9" r="3.1"/><circle cx="98.7" cy="211.3" r="3.1"/><circle cx="29.1" cy="215.0" r="3.0"/><circle cx="39.7" cy="229.7" r="3.2"/><circle cx="72.1" cy="220.5" r="1.6"/><circle cx="60.3" cy="220.7" r="2.8"/><circle cx="55.9" cy="235.7" r="2.2"/><circle cx="73.8" cy="233.6" r="1.8"/><circle cx="97.0" cy="220.1" r="2.3"/><circle cx="98.4" cy="225.4" r="2.4"/><circle cx="43.0" cy="210.1" r="2.8"/></g>
<text x="7" y="18" font-size="17" fill="#fff" font-family='"DejaVu Sans", sans-serif' letter-spacing="-0.45">DCLAMP</text>
<rect x="0" y="234.0" width="54" height="23" fill="#000"/>
<text x="27.0" y="243.5" font-size="9.5" fill="#fff" text-anchor="middle" font-family='"DejaVu Sans", sans-serif'>50 µm</text>
<path d="M7 247.5 H47 M7 244.0 V251.0 M47 244.0 V251.0" stroke="#fff" stroke-width="2" fill="none"/>
</svg>
<svg x="467.0" y="301.5" width="182.5" height="257.0" overflow="hidden">
<rect width="182.5" height="257.0" fill="#141040"/>
<rect x="-66.4" y="-29.1" width="315.2" height="315.2" filter="url(#f11)" transform="rotate(35 91.2 128.5)"/>
<rect x="-66.4" y="-29.1" width="315.2" height="315.2" filter="url(#f12)" transform="rotate(35 91.2 128.5)"/>
<rect x="-66.4" y="-29.1" width="315.2" height="315.2" filter="url(#f13)" transform="rotate(35 91.2 128.5)"/>
<rect x="-66.4" y="-29.1" width="315.2" height="315.2" filter="url(#f14)" transform="rotate(35 91.2 128.5)"/>
<ellipse cx="69.3" cy="5.1" rx="18.2" ry="15.4" fill="#05030f" opacity="0.95" filter="url(#blur6)"/>
<ellipse cx="100.4" cy="12.9" rx="12.8" ry="12.9" fill="#05030f" opacity="0.9" filter="url(#blur6)"/>
<ellipse cx="160.6" cy="7.7" rx="25.6" ry="12.9" fill="#05030f" opacity="0.9" filter="url(#blur6)"/>
<ellipse cx="169.7" cy="64.2" rx="12.8" ry="25.7" fill="#05030f" opacity="0.8" filter="url(#blur6)"/>
<ellipse cx="155.1" cy="102.8" rx="9.1" ry="12.9" fill="#05030f" opacity="0.6" filter="url(#blur6)"/>
<ellipse cx="32.9" cy="205.6" rx="9.1" ry="9.0" fill="#05030f" opacity="0.85" filter="url(#blur6)"/>
<ellipse cx="109.5" cy="141.4" rx="10.9" ry="10.3" fill="#05030f" opacity="0.5" filter="url(#blur6)"/>
<ellipse cx="21.9" cy="72.0" rx="10.9" ry="7.7" fill="#05030f" opacity="0.5" filter="url(#blur6)"/>
<ellipse cx="54.8" cy="46.3" rx="9.1" ry="10.3" fill="#05030f" opacity="0.6" filter="url(#blur6)"/>
<g fill="#ff3a7a" filter="url(#blur1)"><circle cx="66.0" cy="136.8" r="1.7"/><circle cx="81.5" cy="120.4" r="2.0"/><circle cx="47.2" cy="172.6" r="1.2"/><circle cx="55.1" cy="103.2" r="1.4"/><circle cx="135.7" cy="97.4" r="2.1"/><circle cx="174.5" cy="84.3" r="2.3"/><circle cx="147.4" cy="180.1" r="1.2"/><circle cx="83.4" cy="170.7" r="1.6"/><circle cx="40.9" cy="97.4" r="1.5"/><circle cx="143.8" cy="106.1" r="1.7"/><circle cx="117.4" cy="245.1" r="1.6"/><circle cx="8.0" cy="251.0" r="2.2"/><circle cx="144.2" cy="146.8" r="1.5"/><circle cx="28.2" cy="96.1" r="1.8"/><circle cx="12.0" cy="187.4" r="2.1"/><circle cx="2.4" cy="220.6" r="1.8"/><circle cx="167.7" cy="135.6" r="2.2"/><circle cx="82.9" cy="167.5" r="1.8"/><circle cx="4.2" cy="59.0" r="1.5"/><circle cx="74.1" cy="111.1" r="1.8"/><circle cx="120.3" cy="118.2" r="1.6"/><circle cx="93.3" cy="246.1" r="2.1"/><circle cx="119.6" cy="214.7" r="1.5"/><circle cx="18.4" cy="47.2" r="1.3"/><circle cx="1.7" cy="170.4" r="2.3"/><circle cx="20.7" cy="184.6" r="2.3"/><circle cx="139.7" cy="61.1" r="2.0"/><circle cx="46.6" cy="66.9" r="1.2"/><circle cx="95.9" cy="238.3" r="1.3"/><circle cx="26.9" cy="115.5" r="1.2"/><circle cx="84.8" cy="194.6" r="1.8"/><circle cx="7.1" cy="32.7" r="1.4"/><circle cx="121.8" cy="239.6" r="1.8"/><circle cx="18.9" cy="75.6" r="1.7"/><circle cx="19.8" cy="52.5" r="1.7"/><circle cx="153.4" cy="80.6" r="2.3"/><circle cx="159.9" cy="125.8" r="1.5"/><circle cx="33.7" cy="180.1" r="2.2"/><circle cx="157.0" cy="74.0" r="1.7"/><circle cx="4.0" cy="96.2" r="1.6"/><circle cx="22.6" cy="43.3" r="2.4"/><circle cx="55.7" cy="141.1" r="1.8"/><circle cx="86.2" cy="162.0" r="1.8"/><circle cx="89.5" cy="44.1" r="2.0"/><circle cx="122.0" cy="193.2" r="1.6"/><circle cx="84.4" cy="212.2" r="2.1"/><circle cx="9.6" cy="103.1" r="1.4"/><circle cx="129.7" cy="118.8" r="1.7"/><circle cx="40.7" cy="130.7" r="2.1"/><circle cx="115.2" cy="77.0" r="1.7"/><circle cx="113.7" cy="38.5" r="2.3"/><circle cx="4.2" cy="170.3" r="1.4"/><circle cx="174.5" cy="185.7" r="1.5"/><circle cx="91.9" cy="221.3" r="2.2"/><circle cx="121.0" cy="173.4" r="2.1"/><circle cx="167.1" cy="144.5" r="1.9"/><circle cx="145.7" cy="143.8" r="1.5"/><circle cx="105.9" cy="106.5" r="2.1"/><circle cx="136.5" cy="235.4" r="1.3"/><circle cx="4.1" cy="241.1" r="2.1"/><circle cx="182.0" cy="213.9" r="2.3"/><circle cx="28.4" cy="68.7" r="1.9"/><circle cx="138.3" cy="52.9" r="2.3"/><circle cx="41.9" cy="72.8" r="1.7"/><circle cx="33.2" cy="46.5" r="1.3"/><circle cx="6.0" cy="60.5" r="2.0"/><circle cx="142.3" cy="204.4" r="1.7"/><circle cx="137.4" cy="52.3" r="2.2"/><circle cx="74.8" cy="54.1" r="1.7"/><circle cx="35.3" cy="197.6" r="1.6"/><circle cx="3.1" cy="70.2" r="1.3"/><circle cx="173.7" cy="120.8" r="2.1"/><circle cx="108.3" cy="121.1" r="2.1"/><circle cx="100.9" cy="35.8" r="2.4"/><circle cx="63.7" cy="176.4" r="1.7"/><circle cx="175.6" cy="64.3" r="1.3"/><circle cx="7.8" cy="118.2" r="2.2"/><circle cx="81.7" cy="241.1" r="1.4"/><circle cx="176.3" cy="64.5" r="2.3"/><circle cx="35.6" cy="160.4" r="1.9"/><circle cx="177.2" cy="121.0" r="2.2"/><circle cx="9.4" cy="233.7" r="1.8"/><circle cx="98.0" cy="249.8" r="1.6"/><circle cx="112.1" cy="161.4" r="1.6"/><circle cx="26.8" cy="125.0" r="1.5"/><circle cx="111.3" cy="120.2" r="1.3"/><circle cx="125.8" cy="239.4" r="1.9"/><circle cx="54.3" cy="95.8" r="2.3"/><circle cx="81.1" cy="193.4" r="1.3"/><circle cx="148.5" cy="232.4" r="1.5"/><circle cx="56.0" cy="176.1" r="2.3"/><circle cx="143.5" cy="30.7" r="1.3"/><circle cx="162.2" cy="118.6" r="2.3"/><circle cx="82.1" cy="218.9" r="1.5"/><circle cx="176.0" cy="135.4" r="1.2"/><circle cx="36.1" cy="44.8" r="1.7"/><circle cx="174.7" cy="250.3" r="2.3"/><circle cx="74.6" cy="203.6" r="2.1"/><circle cx="151.8" cy="249.8" r="2.2"/><circle cx="139.5" cy="99.1" r="1.4"/><circle cx="76.3" cy="93.0" r="2.1"/><circle cx="28.7" cy="72.6" r="2.1"/><circle cx="7.2" cy="45.0" r="1.2"/><circle cx="3.6" cy="48.5" r="2.1"/><circle cx="49.1" cy="50.4" r="1.8"/><circle cx="65.2" cy="26.5" r="1.3"/><circle cx="46.3" cy="122.8" r="1.3"/><circle cx="76.6" cy="137.6" r="2.3"/><circle cx="111.1" cy="96.2" r="1.5"/><circle cx="33.3" cy="115.3" r="2.3"/></g>
<g fill="#ffa030" filter="url(#blur1)"><circle cx="159.6" cy="101.9" r="2.9"/><circle cx="129.8" cy="231.7" r="3.1"/><circle cx="110.7" cy="92.3" r="2.2"/><circle cx="155.4" cy="229.2" r="3.3"/><circle cx="67.4" cy="207.7" r="3.1"/><circle cx="76.1" cy="133.1" r="2.6"/><circle cx="96.8" cy="80.3" r="1.8"/><circle cx="164.1" cy="145.1" r="2.5"/><circle cx="104.3" cy="165.4" r="3.0"/><circle cx="96.0" cy="80.3" r="1.9"/><circle cx="56.7" cy="137.4" r="3.5"/><circle cx="90.8" cy="98.9" r="3.2"/><circle cx="64.2" cy="147.4" r="2.9"/><circle cx="123.3" cy="117.8" r="2.5"/><circle cx="19.7" cy="233.3" r="3.3"/><circle cx="137.8" cy="111.3" r="2.9"/><circle cx="81.3" cy="102.4" r="2.2"/><circle cx="145.6" cy="178.6" r="2.8"/><circle cx="38.1" cy="175.2" r="3.3"/><circle cx="47.6" cy="116.3" r="3.4"/></g>
<text x="7" y="18" font-size="17" fill="#fff" font-family='"DejaVu Sans", sans-serif' letter-spacing="-0.45">Merge</text>
<rect x="0" y="234.0" width="54" height="23" fill="#000"/>
<text x="27.0" y="243.5" font-size="9.5" fill="#fff" text-anchor="middle" font-family='"DejaVu Sans", sans-serif'>50 µm</text>
<path d="M7 247.5 H47 M7 244.0 V251.0 M47 244.0 V251.0" stroke="#fff" stroke-width="2" fill="none"/>
</svg>
<g stroke="#fff" stroke-width="1.5" stroke-dasharray="9 5" opacity="0.9">
<line x1="551.0" y1="368.0" x2="650.0" y2="322.0" stroke="#fff" stroke-width="1.5"/>
<line x1="551.0" y1="400.0" x2="650.0" y2="383.0" stroke="#fff" stroke-width="1.5"/>
<line x1="505.0" y1="429.0" x2="650.0" y2="402.0" stroke="#fff" stroke-width="1.5"/>
<line x1="505.0" y1="461.0" x2="650.0" y2="466.0" stroke="#fff" stroke-width="1.5"/>
<line x1="598.0" y1="475.0" x2="650.0" y2="488.0" stroke="#fff" stroke-width="1.5"/>
<line x1="598.0" y1="506.0" x2="650.0" y2="545.0" stroke="#fff" stroke-width="1.5"/>
</g>
<path d="M527 368 H519 V376 M543 368 H551 V376 M519 392 V400 H527 M551 392 V400 H543" stroke="#fff" stroke-width="2" fill="none"/>
<path d="M480.5 429 H472.5 V437 M497 429 H505 V437 M472.5 453 V461 H480.5 M505 453 V461 H497" stroke="#fff" stroke-width="2" fill="none"/>
<path d="M574 474.6 H566 V482.6 M590.4 474.6 H598.4 V482.6 M566 498.2 V506.2 H574 M598.4 498.2 V506.2 H590.4" stroke="#fff" stroke-width="2" fill="none"/>
<svg x="654.3" y="318.7" width="61.7" height="62.7" overflow="hidden">
<rect width="61.7" height="62.7" fill="#181040"/>
<rect x="-13.1" y="-12.6" width="88.0" height="88.0" filter="url(#f15)" transform="rotate(35 30.9 31.4)"/>
<rect x="-13.1" y="-12.6" width="88.0" height="88.0" filter="url(#f16)" transform="rotate(35 30.9 31.4)"/>
<rect x="-13.1" y="-12.6" width="88.0" height="88.0" filter="url(#f17)" transform="rotate(35 30.9 31.4)"/>
<ellipse cx="56.8" cy="7.5" rx="9.3" ry="12.5" fill="#05030f" opacity="0.9" filter="url(#blur14)"/>
<ellipse cx="58.6" cy="47.0" rx="9.3" ry="12.5" fill="#05030f" opacity="0.7" filter="url(#blur14)"/>
<g fill="#ff9a20" filter="url(#blur1)"><circle cx="35.0" cy="45.1" r="6.5"/><circle cx="36.9" cy="42.1" r="6.7"/></g>
<g fill="#30c060" filter="url(#blur1)"><circle cx="21.0" cy="14.1" r="4.5"/></g>
<g fill="#ff3070" filter="url(#blur1)"><circle cx="22.5" cy="12.7" r="2.4"/><circle cx="37.6" cy="15.6" r="2.8"/><circle cx="22.4" cy="22.8" r="2.0"/><circle cx="55.4" cy="45.0" r="2.9"/></g>
</svg>
<svg x="654.3" y="402.0" width="61.7" height="62.5" overflow="hidden">
<rect width="61.7" height="62.5" fill="#1c1248"/>
<rect x="-13.1" y="-12.7" width="87.8" height="87.8" filter="url(#f18)" transform="rotate(35 30.9 31.2)"/>
<rect x="-13.1" y="-12.7" width="87.8" height="87.8" filter="url(#f19)" transform="rotate(35 30.9 31.2)"/>
<rect x="-13.1" y="-12.7" width="87.8" height="87.8" filter="url(#f20)" transform="rotate(35 30.9 31.2)"/>
<g fill="#7ef06a" filter="url(#blur1)"><circle cx="21.5" cy="18.9" r="8.0"/></g>
<g fill="#ffa030" filter="url(#blur1)"><circle cx="44.4" cy="43.3" r="7.1"/><circle cx="42.9" cy="44.0" r="7.9"/></g>
<g fill="#ff3070" filter="url(#blur1)"><circle cx="17.6" cy="54.2" r="2.5"/><circle cx="35.8" cy="52.9" r="3.0"/><circle cx="51.8" cy="41.7" r="2.1"/><circle cx="49.7" cy="35.7" r="2.5"/><circle cx="15.6" cy="48.7" r="2.9"/><circle cx="52.5" cy="44.9" r="3.4"/></g>
</svg>
<svg x="654.3" y="484.8" width="61.7" height="62.5" overflow="hidden">
<rect width="61.7" height="62.5" fill="#1a1248"/>
<rect x="-13.1" y="-12.7" width="87.8" height="87.8" filter="url(#f21)" transform="rotate(35 30.9 31.2)"/>
<rect x="-13.1" y="-12.7" width="87.8" height="87.8" filter="url(#f22)" transform="rotate(35 30.9 31.2)"/>
<rect x="-13.1" y="-12.7" width="87.8" height="87.8" filter="url(#f23)" transform="rotate(35 30.9 31.2)"/>
<g fill="#ffc860" filter="url(#blur1)"><circle cx="41.6" cy="34.1" r="5.9"/><circle cx="37.4" cy="31.8" r="5.4"/></g>
<g fill="#b0ffb0" filter="url(#blur1)"><circle cx="43.8" cy="43.9" r="4.2"/></g>
<g fill="#ff3070" filter="url(#blur1)"><circle cx="28.1" cy="17.3" r="2.5"/><circle cx="7.4" cy="10.5" r="2.7"/><circle cx="27.0" cy="31.9" r="2.7"/><circle cx="23.9" cy="9.1" r="2.8"/><circle cx="35.2" cy="39.1" r="2.6"/></g>
</svg>
<svg x="764.0" y="45.0" width="181.0" height="254.5" overflow="hidden">
<rect width="181.0" height="254.5" fill="#0a0820"/>
<ellipse cx="50.7" cy="162.9" rx="39.8" ry="33.1" fill="#2a58a8" opacity="0.75" filter="url(#blur14)"/>
<ellipse cx="135.8" cy="84.0" rx="32.6" ry="38.2" fill="#2a58a8" opacity="0.75" filter="url(#blur14)"/>
<rect x="-65.6" y="-28.9" width="312.3" height="312.3" filter="url(#f24)" transform="rotate(35 90.5 127.2)"/>
<ellipse cx="48.9" cy="68.7" rx="43.4" ry="48.4" fill="#05030f" opacity="1.0" filter="url(#blur14)"/>
<ellipse cx="27.1" cy="30.5" rx="23.5" ry="22.9" fill="#05030f" opacity="0.8" filter="url(#blur14)"/>
<ellipse cx="112.2" cy="119.6" rx="16.3" ry="17.8" fill="#05030f" opacity="0.85" filter="url(#blur14)"/>
<ellipse cx="148.4" cy="114.5" rx="16.3" ry="17.8" fill="#05030f" opacity="0.7" filter="url(#blur14)"/>
<ellipse cx="81.5" cy="157.8" rx="14.5" ry="12.7" fill="#05030f" opacity="0.6" filter="url(#blur14)"/>
<ellipse cx="162.9" cy="190.9" rx="18.1" ry="25.5" fill="#05030f" opacity="0.5" filter="url(#blur14)"/>
<ellipse cx="135.8" cy="50.9" rx="12.7" ry="12.7" fill="#05030f" opacity="0.6" filter="url(#blur14)"/>
<ellipse cx="36.2" cy="241.8" rx="25.3" ry="12.7" fill="#05030f" opacity="0.5" filter="url(#blur14)"/>
<ellipse cx="99.6" cy="12.7" rx="14.5" ry="10.2" fill="#05030f" opacity="0.6" filter="url(#blur14)"/>
<g fill="#7fd8f0" filter="url(#blur1)"><circle cx="10.1" cy="135.8" r="1.8"/><circle cx="64.8" cy="137.8" r="1.4"/><circle cx="27.9" cy="185.1" r="1.5"/><circle cx="69.4" cy="177.8" r="1.5"/><circle cx="52.7" cy="161.4" r="1.8"/><circle cx="90.2" cy="134.4" r="1.3"/><circle cx="85.6" cy="158.0" r="1.6"/><circle cx="36.0" cy="155.1" r="2.5"/><circle cx="26.2" cy="143.8" r="2.1"/><circle cx="53.6" cy="200.1" r="2.4"/><circle cx="38.0" cy="142.8" r="2.4"/><circle cx="89.6" cy="129.6" r="2.3"/><circle cx="79.8" cy="177.0" r="1.6"/><circle cx="73.9" cy="183.0" r="1.6"/><circle cx="61.3" cy="144.0" r="1.4"/><circle cx="36.4" cy="152.8" r="1.8"/><circle cx="61.7" cy="191.1" r="2.5"/><circle cx="88.6" cy="203.1" r="2.3"/><circle cx="34.0" cy="140.7" r="2.1"/><circle cx="53.5" cy="178.7" r="1.4"/><circle cx="24.8" cy="197.6" r="2.1"/><circle cx="65.7" cy="134.6" r="1.8"/><circle cx="83.2" cy="176.8" r="2.6"/><circle cx="25.1" cy="162.0" r="2.3"/><circle cx="45.3" cy="187.5" r="2.0"/><circle cx="18.7" cy="134.8" r="2.6"/><circle cx="18.8" cy="142.1" r="1.7"/><circle cx="67.2" cy="192.5" r="1.9"/><circle cx="49.6" cy="187.4" r="1.7"/><circle cx="39.4" cy="174.0" r="2.1"/><circle cx="12.2" cy="135.8" r="1.5"/><circle cx="68.1" cy="180.2" r="2.6"/><circle cx="71.6" cy="146.7" r="2.3"/><circle cx="89.3" cy="153.9" r="1.3"/><circle cx="39.6" cy="148.8" r="1.5"/><circle cx="12.7" cy="136.8" r="2.4"/><circle cx="13.1" cy="174.1" r="1.6"/><circle cx="24.8" cy="189.9" r="1.7"/><circle cx="24.0" cy="162.0" r="2.2"/><circle cx="51.8" cy="192.9" r="1.8"/><circle cx="51.7" cy="182.0" r="1.9"/><circle cx="67.5" cy="162.9" r="1.5"/><circle cx="19.1" cy="187.0" r="2.3"/><circle cx="85.8" cy="179.9" r="2.1"/><circle cx="22.6" cy="192.4" r="1.5"/><circle cx="43.7" cy="138.0" r="1.8"/><circle cx="34.1" cy="159.7" r="2.2"/><circle cx="53.2" cy="145.8" r="2.3"/><circle cx="68.9" cy="190.4" r="1.3"/><circle cx="59.1" cy="195.6" r="1.6"/><circle cx="25.5" cy="189.4" r="1.8"/><circle cx="41.7" cy="189.7" r="1.8"/><circle cx="25.2" cy="143.6" r="1.7"/><circle cx="65.9" cy="155.4" r="2.3"/><circle cx="14.4" cy="146.3" r="2.1"/><circle cx="48.1" cy="165.4" r="2.5"/><circle cx="31.6" cy="141.1" r="1.3"/><circle cx="48.3" cy="149.9" r="1.9"/><circle cx="9.5" cy="127.3" r="1.8"/><circle cx="70.8" cy="150.2" r="2.5"/><circle cx="56.2" cy="158.1" r="2.3"/><circle cx="28.0" cy="173.5" r="2.4"/><circle cx="53.1" cy="151.7" r="1.4"/><circle cx="55.8" cy="141.6" r="1.8"/><circle cx="53.2" cy="199.1" r="2.2"/><circle cx="51.3" cy="192.8" r="1.7"/><circle cx="40.6" cy="179.0" r="2.0"/><circle cx="27.1" cy="158.6" r="2.4"/><circle cx="28.8" cy="181.1" r="1.4"/><circle cx="86.8" cy="179.5" r="1.7"/></g>
<g fill="#7fd8f0" filter="url(#blur1)"><circle cx="170.7" cy="109.1" r="1.4"/><circle cx="117.5" cy="82.0" r="2.6"/><circle cx="109.7" cy="42.4" r="1.7"/><circle cx="102.8" cy="74.6" r="2.0"/><circle cx="131.4" cy="50.8" r="1.3"/><circle cx="157.7" cy="77.4" r="1.9"/><circle cx="134.2" cy="99.2" r="2.5"/><circle cx="159.4" cy="102.9" r="1.7"/><circle cx="111.8" cy="46.2" r="2.4"/><circle cx="103.7" cy="88.9" r="2.5"/><circle cx="122.9" cy="72.8" r="1.8"/><circle cx="167.9" cy="99.1" r="2.4"/><circle cx="102.4" cy="103.2" r="1.9"/><circle cx="128.6" cy="110.9" r="2.3"/><circle cx="165.5" cy="104.0" r="2.5"/><circle cx="130.5" cy="87.7" r="2.3"/><circle cx="132.4" cy="50.4" r="2.1"/><circle cx="162.6" cy="115.7" r="1.5"/><circle cx="127.1" cy="58.5" r="1.7"/><circle cx="169.0" cy="75.7" r="1.7"/><circle cx="119.3" cy="77.4" r="2.2"/><circle cx="124.4" cy="54.8" r="1.6"/><circle cx="118.4" cy="118.9" r="1.5"/><circle cx="154.1" cy="47.8" r="2.3"/><circle cx="118.8" cy="107.6" r="1.9"/><circle cx="105.2" cy="46.6" r="2.3"/><circle cx="138.8" cy="81.5" r="1.8"/><circle cx="149.6" cy="81.1" r="1.4"/><circle cx="143.1" cy="66.1" r="2.4"/><circle cx="139.3" cy="107.1" r="1.5"/><circle cx="150.7" cy="92.6" r="2.4"/><circle cx="163.6" cy="87.3" r="2.1"/><circle cx="155.1" cy="61.7" r="2.0"/><circle cx="156.5" cy="91.1" r="2.0"/><circle cx="161.5" cy="125.1" r="1.6"/><circle cx="105.0" cy="92.8" r="1.5"/><circle cx="169.8" cy="80.4" r="2.0"/><circle cx="158.7" cy="115.7" r="1.5"/><circle cx="132.4" cy="54.2" r="1.9"/><circle cx="109.2" cy="116.3" r="1.8"/><circle cx="127.7" cy="118.1" r="2.4"/><circle cx="123.9" cy="82.7" r="2.2"/><circle cx="113.1" cy="50.3" r="2.4"/><circle cx="111.3" cy="101.2" r="2.3"/><circle cx="142.4" cy="69.0" r="2.4"/><circle cx="156.5" cy="44.5" r="2.5"/><circle cx="145.6" cy="63.9" r="1.5"/><circle cx="106.6" cy="110.4" r="2.4"/><circle cx="124.7" cy="54.2" r="1.4"/><circle cx="129.5" cy="64.7" r="1.4"/><circle cx="121.1" cy="111.3" r="1.4"/><circle cx="128.8" cy="84.0" r="1.5"/><circle cx="102.2" cy="44.8" r="1.5"/><circle cx="170.1" cy="114.9" r="2.2"/><circle cx="164.7" cy="67.2" r="1.6"/><circle cx="162.5" cy="92.2" r="2.5"/><circle cx="125.5" cy="75.0" r="2.2"/><circle cx="163.4" cy="52.9" r="1.6"/><circle cx="100.5" cy="88.0" r="2.5"/><circle cx="140.7" cy="51.4" r="2.2"/></g>
<g fill="#7fd8f0" filter="url(#blur1)"><circle cx="95.0" cy="208.4" r="2.3"/><circle cx="95.9" cy="226.1" r="1.7"/><circle cx="50.7" cy="225.0" r="1.7"/><circle cx="57.3" cy="233.2" r="2.0"/><circle cx="122.6" cy="248.0" r="1.8"/><circle cx="101.0" cy="220.8" r="1.8"/><circle cx="87.5" cy="248.6" r="1.3"/><circle cx="78.1" cy="219.0" r="2.2"/><circle cx="122.2" cy="225.2" r="1.4"/><circle cx="90.0" cy="230.5" r="2.0"/><circle cx="106.5" cy="224.8" r="1.9"/><circle cx="105.6" cy="204.9" r="1.6"/><circle cx="98.4" cy="248.4" r="2.3"/><circle cx="61.7" cy="248.1" r="1.6"/><circle cx="77.2" cy="210.9" r="2.0"/><circle cx="71.7" cy="235.0" r="2.4"/><circle cx="47.8" cy="233.7" r="2.0"/><circle cx="61.0" cy="205.2" r="2.3"/><circle cx="99.1" cy="232.2" r="1.4"/><circle cx="117.6" cy="221.9" r="1.8"/><circle cx="86.5" cy="224.0" r="2.3"/><circle cx="78.5" cy="234.6" r="2.2"/><circle cx="120.6" cy="211.4" r="1.7"/><circle cx="122.2" cy="231.4" r="1.7"/><circle cx="116.0" cy="209.0" r="1.6"/></g>
<text x="7" y="18" font-size="17" fill="#fff" font-family='"DejaVu Sans", sans-serif' letter-spacing="-0.45">CD3</text>
<rect x="0" y="231.5" width="54" height="23" fill="#000"/>
<text x="27.0" y="241.0" font-size="9.5" fill="#fff" text-anchor="middle" font-family='"DejaVu Sans", sans-serif'>50 µm</text>
<path d="M7 245.0 H47 M7 241.5 V248.5 M47 241.5 V248.5" stroke="#fff" stroke-width="2" fill="none"/>
</svg>
<svg x="947.5" y="45.0" width="181.0" height="254.5" overflow="hidden">
<rect width="181.0" height="254.5" fill="#0a0820"/>
<rect x="-65.6" y="-28.9" width="312.3" height="312.3" filter="url(#f25)" transform="rotate(35 90.5 127.2)"/>
<ellipse cx="48.9" cy="68.7" rx="43.4" ry="48.4" fill="#05030f" opacity="1.0" filter="url(#blur14)"/>
<ellipse cx="27.1" cy="30.5" rx="23.5" ry="22.9" fill="#05030f" opacity="0.8" filter="url(#blur14)"/>
<ellipse cx="112.2" cy="119.6" rx="16.3" ry="17.8" fill="#05030f" opacity="0.85" filter="url(#blur14)"/>
<ellipse cx="148.4" cy="114.5" rx="16.3" ry="17.8" fill="#05030f" opacity="0.7" filter="url(#blur14)"/>
<ellipse cx="81.5" cy="157.8" rx="14.5" ry="12.7" fill="#05030f" opacity="0.6" filter="url(#blur14)"/>
<ellipse cx="162.9" cy="190.9" rx="18.1" ry="25.5" fill="#05030f" opacity="0.5" filter="url(#blur14)"/>
<ellipse cx="135.8" cy="50.9" rx="12.7" ry="12.7" fill="#05030f" opacity="0.6" filter="url(#blur14)"/>
<ellipse cx="36.2" cy="241.8" rx="25.3" ry="12.7" fill="#05030f" opacity="0.5" filter="url(#blur14)"/>
<ellipse cx="99.6" cy="12.7" rx="14.5" ry="10.2" fill="#05030f" opacity="0.6" filter="url(#blur14)"/>
<g fill="#ff3a9a" filter="url(#blur1)"><circle cx="22.1" cy="74.4" r="1.3"/><circle cx="160.6" cy="139.1" r="1.7"/><circle cx="25.9" cy="142.0" r="1.8"/><circle cx="97.1" cy="241.8" r="1.9"/><circle cx="71.5" cy="25.6" r="1.8"/><circle cx="30.3" cy="27.6" r="1.7"/><circle cx="150.9" cy="217.1" r="2.0"/><circle cx="43.0" cy="44.1" r="1.1"/><circle cx="173.6" cy="51.1" r="1.2"/><circle cx="12.4" cy="36.7" r="1.0"/><circle cx="68.5" cy="62.8" r="1.3"/><circle cx="165.4" cy="63.8" r="1.8"/><circle cx="133.3" cy="155.7" r="1.6"/><circle cx="138.7" cy="159.9" r="1.2"/><circle cx="64.5" cy="81.3" r="1.4"/><circle cx="175.2" cy="123.2" r="1.1"/><circle cx="89.3" cy="211.6" r="1.4"/><circle cx="127.3" cy="46.3" r="1.1"/><circle cx="120.4" cy="36.5" r="1.3"/><circle cx="73.8" cy="69.8" r="1.0"/><circle cx="10.2" cy="243.4" r="1.7"/><circle cx="169.3" cy="138.1" r="2.0"/><circle cx="154.2" cy="167.0" r="1.5"/><circle cx="94.7" cy="77.1" r="1.4"/><circle cx="130.7" cy="70.2" r="1.8"/><circle cx="94.9" cy="163.8" r="1.8"/><circle cx="117.8" cy="57.0" r="1.2"/><circle cx="9.2" cy="31.7" r="2.0"/><circle cx="108.9" cy="247.3" r="1.8"/><circle cx="62.2" cy="247.0" r="1.9"/><circle cx="85.9" cy="44.5" r="1.3"/><circle cx="37.0" cy="109.2" r="1.1"/><circle cx="129.1" cy="249.8" r="1.2"/><circle cx="140.4" cy="159.3" r="1.5"/><circle cx="161.8" cy="111.9" r="1.8"/><circle cx="14.9" cy="246.6" r="1.2"/><circle cx="9.7" cy="227.3" r="1.7"/><circle cx="122.6" cy="200.9" r="1.4"/><circle cx="28.3" cy="98.3" r="2.0"/><circle cx="174.3" cy="78.1" r="1.4"/><circle cx="84.9" cy="232.6" r="1.0"/><circle cx="148.6" cy="83.5" r="1.5"/><circle cx="30.8" cy="44.7" r="1.9"/><circle cx="93.7" cy="248.0" r="1.9"/><circle cx="135.7" cy="42.5" r="1.6"/></g>
<text x="7" y="18" font-size="17" fill="#fff" font-family='"DejaVu Sans", sans-serif' letter-spacing="-0.45">TCF1</text>
<rect x="0" y="231.5" width="54" height="23" fill="#000"/>
<text x="27.0" y="241.0" font-size="9.5" fill="#fff" text-anchor="middle" font-family='"DejaVu Sans", sans-serif'>50 µm</text>
<path d="M7 245.0 H47 M7 241.5 V248.5 M47 241.5 V248.5" stroke="#fff" stroke-width="2" fill="none"/>
</svg>
<svg x="1130.0" y="45.0" width="181.0" height="254.5" overflow="hidden">
<rect width="181.0" height="254.5" fill="#0a0820"/>
<rect x="-65.6" y="-28.9" width="312.3" height="312.3" filter="url(#f26)" transform="rotate(35 90.5 127.2)"/>
<ellipse cx="48.9" cy="68.7" rx="43.4" ry="48.4" fill="#05030f" opacity="1.0" filter="url(#blur14)"/>
<ellipse cx="27.1" cy="30.5" rx="23.5" ry="22.9" fill="#05030f" opacity="0.8" filter="url(#blur14)"/>
<ellipse cx="112.2" cy="119.6" rx="16.3" ry="17.8" fill="#05030f" opacity="0.85" filter="url(#blur14)"/>
<ellipse cx="148.4" cy="114.5" rx="16.3" ry="17.8" fill="#05030f" opacity="0.7" filter="url(#blur14)"/>
<ellipse cx="81.5" cy="157.8" rx="14.5" ry="12.7" fill="#05030f" opacity="0.6" filter="url(#blur14)"/>
<ellipse cx="162.9" cy="190.9" rx="18.1" ry="25.5" fill="#05030f" opacity="0.5" filter="url(#blur14)"/>
<ellipse cx="135.8" cy="50.9" rx="12.7" ry="12.7" fill="#05030f" opacity="0.6" filter="url(#blur14)"/>
<ellipse cx="36.2" cy="241.8" rx="25.3" ry="12.7" fill="#05030f" opacity="0.5" filter="url(#blur14)"/>
<ellipse cx="99.6" cy="12.7" rx="14.5" ry="10.2" fill="#05030f" opacity="0.6" filter="url(#blur14)"/>
<g fill="#50f070" filter="url(#blur1)"><circle cx="146.0" cy="86.4" r="3.2"/><circle cx="122.1" cy="87.9" r="3.3"/><circle cx="173.6" cy="52.4" r="2.9"/><circle cx="149.8" cy="76.6" r="3.4"/><circle cx="142.6" cy="72.2" r="3.4"/><circle cx="151.3" cy="61.2" r="2.3"/></g>
<g fill="#60e0e0" filter="url(#blur1)"><circle cx="140.0" cy="42.2" r="2.4"/><circle cx="159.5" cy="70.7" r="2.8"/><circle cx="175.1" cy="80.6" r="2.5"/><circle cx="109.1" cy="42.5" r="3.0"/><circle cx="122.7" cy="54.5" r="2.8"/><circle cx="160.6" cy="47.6" r="2.0"/><circle cx="119.3" cy="59.0" r="1.5"/></g>
<text x="7" y="18" font-size="17" fill="#fff" font-family='"DejaVu Sans", sans-serif' letter-spacing="-0.45">CXCL13</text>
<rect x="0" y="231.5" width="54" height="23" fill="#000"/>
<text x="27.0" y="241.0" font-size="9.5" fill="#fff" text-anchor="middle" font-family='"DejaVu Sans", sans-serif'>50 µm</text>
<path d="M7 245.0 H47 M7 241.5 V248.5 M47 241.5 V248.5" stroke="#fff" stroke-width="2" fill="none"/>
</svg>
<svg x="764.0" y="301.5" width="181.0" height="254.5" overflow="hidden">
<rect width="181.0" height="254.5" fill="#0a0820"/>
<rect x="-65.6" y="-28.9" width="312.3" height="312.3" filter="url(#f27)" transform="rotate(35 90.5 127.2)"/>
<ellipse cx="48.9" cy="68.7" rx="43.4" ry="48.4" fill="#05030f" opacity="1.0" filter="url(#blur14)"/>
<ellipse cx="27.1" cy="30.5" rx="23.5" ry="22.9" fill="#05030f" opacity="0.8" filter="url(#blur14)"/>
<ellipse cx="112.2" cy="119.6" rx="16.3" ry="17.8" fill="#05030f" opacity="0.85" filter="url(#blur14)"/>
<ellipse cx="148.4" cy="114.5" rx="16.3" ry="17.8" fill="#05030f" opacity="0.7" filter="url(#blur14)"/>
<ellipse cx="81.5" cy="157.8" rx="14.5" ry="12.7" fill="#05030f" opacity="0.6" filter="url(#blur14)"/>
<ellipse cx="162.9" cy="190.9" rx="18.1" ry="25.5" fill="#05030f" opacity="0.5" filter="url(#blur14)"/>
<ellipse cx="135.8" cy="50.9" rx="12.7" ry="12.7" fill="#05030f" opacity="0.6" filter="url(#blur14)"/>
<ellipse cx="36.2" cy="241.8" rx="25.3" ry="12.7" fill="#05030f" opacity="0.5" filter="url(#blur14)"/>
<ellipse cx="99.6" cy="12.7" rx="14.5" ry="10.2" fill="#05030f" opacity="0.6" filter="url(#blur14)"/>
<g fill="#e040d0" filter="url(#blur1)"><circle cx="98.1" cy="159.6" r="2.7"/><circle cx="160.3" cy="227.5" r="1.9"/><circle cx="168.8" cy="122.6" r="1.8"/><circle cx="25.0" cy="142.6" r="1.5"/><circle cx="55.2" cy="165.3" r="2.6"/><circle cx="135.7" cy="45.2" r="1.3"/><circle cx="52.0" cy="151.9" r="2.7"/><circle cx="143.8" cy="239.3" r="2.3"/><circle cx="116.2" cy="92.3" r="1.8"/><circle cx="43.7" cy="148.1" r="2.3"/><circle cx="105.5" cy="115.2" r="2.0"/><circle cx="50.9" cy="212.2" r="2.2"/><circle cx="135.1" cy="211.4" r="1.7"/><circle cx="28.7" cy="90.2" r="2.8"/><circle cx="142.3" cy="118.3" r="2.6"/><circle cx="66.6" cy="223.7" r="1.4"/><circle cx="133.8" cy="250.0" r="2.0"/><circle cx="86.8" cy="55.4" r="1.7"/><circle cx="48.4" cy="93.3" r="1.3"/><circle cx="59.5" cy="49.3" r="2.1"/><circle cx="77.5" cy="77.5" r="2.9"/><circle cx="61.1" cy="147.2" r="2.8"/><circle cx="136.7" cy="246.6" r="2.3"/><circle cx="155.6" cy="40.4" r="2.5"/><circle cx="65.6" cy="98.9" r="2.6"/><circle cx="133.9" cy="103.8" r="1.9"/><circle cx="55.9" cy="239.4" r="2.3"/><circle cx="52.8" cy="147.4" r="1.3"/><circle cx="54.4" cy="140.3" r="3.0"/><circle cx="153.5" cy="150.9" r="2.6"/><circle cx="51.4" cy="184.5" r="3.0"/><circle cx="35.0" cy="239.1" r="3.0"/><circle cx="71.0" cy="211.9" r="3.0"/><circle cx="33.9" cy="131.9" r="2.3"/><circle cx="142.7" cy="86.4" r="2.6"/><circle cx="127.6" cy="221.9" r="2.5"/><circle cx="154.0" cy="163.8" r="2.2"/><circle cx="86.8" cy="118.6" r="2.0"/><circle cx="92.1" cy="115.2" r="1.5"/><circle cx="76.0" cy="241.9" r="1.8"/><circle cx="174.5" cy="216.1" r="2.0"/><circle cx="45.7" cy="226.8" r="2.9"/><circle cx="61.3" cy="178.7" r="2.6"/><circle cx="113.6" cy="53.0" r="1.6"/><circle cx="130.5" cy="170.9" r="2.4"/><circle cx="56.3" cy="227.0" r="2.6"/><circle cx="90.7" cy="221.2" r="1.7"/><circle cx="98.8" cy="144.6" r="2.9"/><circle cx="166.8" cy="103.6" r="2.6"/><circle cx="59.1" cy="227.7" r="2.8"/><circle cx="123.8" cy="33.5" r="1.7"/><circle cx="37.9" cy="141.0" r="1.3"/><circle cx="19.6" cy="48.2" r="2.8"/><circle cx="110.3" cy="223.9" r="2.9"/><circle cx="104.8" cy="219.4" r="2.0"/></g>
<text x="7" y="18" font-size="17" fill="#fff" font-family='"DejaVu Sans", sans-serif' letter-spacing="-0.45">CD8</text>
<rect x="0" y="231.5" width="54" height="23" fill="#000"/>
<text x="27.0" y="241.0" font-size="9.5" fill="#fff" text-anchor="middle" font-family='"DejaVu Sans", sans-serif'>50 µm</text>
<path d="M7 245.0 H47 M7 241.5 V248.5 M47 241.5 V248.5" stroke="#fff" stroke-width="2" fill="none"/>
</svg>
<svg x="947.5" y="301.5" width="181.0" height="254.5" overflow="hidden">
<rect width="181.0" height="254.5" fill="#0a0820"/>
<rect x="-65.6" y="-28.9" width="312.3" height="312.3" filter="url(#f28)" transform="rotate(35 90.5 127.2)"/>
<ellipse cx="48.9" cy="68.7" rx="43.4" ry="48.4" fill="#05030f" opacity="1.0" filter="url(#blur14)"/>
<ellipse cx="27.1" cy="30.5" rx="23.5" ry="22.9" fill="#05030f" opacity="0.8" filter="url(#blur14)"/>
<ellipse cx="112.2" cy="119.6" rx="16.3" ry="17.8" fill="#05030f" opacity="0.85" filter="url(#blur14)"/>
<ellipse cx="148.4" cy="114.5" rx="16.3" ry="17.8" fill="#05030f" opacity="0.7" filter="url(#blur14)"/>
<ellipse cx="81.5" cy="157.8" rx="14.5" ry="12.7" fill="#05030f" opacity="0.6" filter="url(#blur14)"/>
<ellipse cx="162.9" cy="190.9" rx="18.1" ry="25.5" fill="#05030f" opacity="0.5" filter="url(#blur14)"/>
<ellipse cx="135.8" cy="50.9" rx="12.7" ry="12.7" fill="#05030f" opacity="0.6" filter="url(#blur14)"/>
<ellipse cx="36.2" cy="241.8" rx="25.3" ry="12.7" fill="#05030f" opacity="0.5" filter="url(#blur14)"/>
<ellipse cx="99.6" cy="12.7" rx="14.5" ry="10.2" fill="#05030f" opacity="0.6" filter="url(#blur14)"/>
<g fill="#ffa020" filter="url(#blur1)"><circle cx="61.9" cy="166.1" r="1.9"/><circle cx="82.0" cy="134.2" r="2.2"/><circle cx="63.1" cy="165.9" r="1.9"/><circle cx="86.0" cy="133.4" r="1.4"/><circle cx="72.6" cy="154.7" r="1.9"/><circle cx="50.2" cy="180.2" r="1.0"/><circle cx="72.9" cy="140.3" r="1.0"/><circle cx="69.9" cy="118.1" r="1.3"/><circle cx="47.7" cy="125.3" r="1.2"/><circle cx="31.8" cy="172.7" r="1.1"/><circle cx="37.3" cy="119.8" r="2.1"/><circle cx="61.7" cy="171.0" r="2.2"/><circle cx="58.5" cy="141.7" r="1.5"/><circle cx="43.9" cy="155.4" r="2.2"/><circle cx="59.0" cy="166.5" r="2.1"/><circle cx="79.7" cy="160.6" r="1.7"/><circle cx="33.3" cy="140.5" r="2.0"/><circle cx="55.2" cy="161.3" r="1.3"/></g>
<text x="7" y="18" font-size="17" fill="#fff" font-family='"DejaVu Sans", sans-serif' letter-spacing="-0.45">DCLAMP</text>
<rect x="0" y="231.5" width="54" height="23" fill="#000"/>
<text x="27.0" y="241.0" font-size="9.5" fill="#fff" text-anchor="middle" font-family='"DejaVu Sans", sans-serif'>50 µm</text>
<path d="M7 245.0 H47 M7 241.5 V248.5 M47 241.5 V248.5" stroke="#fff" stroke-width="2" fill="none"/>
</svg>
<svg x="1130.0" y="301.5" width="181.0" height="254.5" overflow="hidden">
<rect width="181.0" height="254.5" fill="#0a0820"/>
<ellipse cx="112.2" cy="89.1" rx="45.2" ry="56.0" fill="#2a58a8" opacity="0.7" filter="url(#blur14)"/>
<ellipse cx="63.3" cy="190.9" rx="39.8" ry="45.8" fill="#2a58a8" opacity="0.6" filter="url(#blur14)"/>
<rect x="-65.6" y="-28.9" width="312.3" height="312.3" filter="url(#f29)" transform="rotate(35 90.5 127.2)"/>
<ellipse cx="48.9" cy="68.7" rx="43.4" ry="48.4" fill="#05030f" opacity="1.0" filter="url(#blur14)"/>
<ellipse cx="27.1" cy="30.5" rx="23.5" ry="22.9" fill="#05030f" opacity="0.8" filter="url(#blur14)"/>
<ellipse cx="112.2" cy="119.6" rx="16.3" ry="17.8" fill="#05030f" opacity="0.85" filter="url(#blur14)"/>
<ellipse cx="148.4" cy="114.5" rx="16.3" ry="17.8" fill="#05030f" opacity="0.7" filter="url(#blur14)"/>
<ellipse cx="81.5" cy="157.8" rx="14.5" ry="12.7" fill="#05030f" opacity="0.6" filter="url(#blur14)"/>
<ellipse cx="162.9" cy="190.9" rx="18.1" ry="25.5" fill="#05030f" opacity="0.5" filter="url(#blur14)"/>
<ellipse cx="135.8" cy="50.9" rx="12.7" ry="12.7" fill="#05030f" opacity="0.6" filter="url(#blur14)"/>
<ellipse cx="36.2" cy="241.8" rx="25.3" ry="12.7" fill="#05030f" opacity="0.5" filter="url(#blur14)"/>
<ellipse cx="99.6" cy="12.7" rx="14.5" ry="10.2" fill="#05030f" opacity="0.6" filter="url(#blur14)"/>
<g fill="#7fd8f0" filter="url(#blur1)"><circle cx="35.8" cy="202.3" r="2.5"/><circle cx="83.8" cy="187.6" r="2.4"/><circle cx="9.1" cy="175.1" r="1.6"/><circle cx="68.5" cy="160.3" r="2.0"/><circle cx="53.3" cy="171.2" r="2.4"/><circle cx="89.0" cy="153.6" r="2.3"/><circle cx="81.5" cy="157.2" r="1.5"/><circle cx="49.6" cy="185.6" r="2.0"/><circle cx="24.1" cy="181.1" r="1.7"/><circle cx="81.2" cy="140.1" r="2.1"/><circle cx="40.4" cy="202.5" r="1.5"/><circle cx="80.7" cy="159.1" r="1.8"/><circle cx="26.0" cy="165.0" r="2.5"/><circle cx="90.4" cy="199.0" r="2.1"/><circle cx="28.3" cy="166.0" r="2.1"/><circle cx="33.2" cy="202.6" r="1.4"/><circle cx="28.2" cy="142.8" r="1.5"/><circle cx="14.2" cy="145.5" r="1.8"/><circle cx="85.6" cy="168.9" r="2.1"/><circle cx="37.4" cy="140.2" r="2.0"/><circle cx="68.4" cy="133.7" r="2.1"/><circle cx="26.1" cy="179.9" r="1.8"/><circle cx="21.1" cy="138.0" r="2.3"/><circle cx="53.1" cy="133.8" r="2.5"/><circle cx="31.6" cy="148.6" r="1.3"/><circle cx="33.5" cy="170.0" r="2.5"/><circle cx="33.4" cy="165.2" r="1.4"/><circle cx="65.0" cy="150.2" r="1.8"/><circle cx="31.1" cy="189.7" r="2.6"/><circle cx="20.3" cy="161.7" r="1.4"/><circle cx="70.2" cy="196.5" r="1.5"/><circle cx="64.7" cy="150.5" r="1.9"/><circle cx="55.7" cy="156.6" r="2.1"/><circle cx="35.7" cy="165.1" r="1.8"/><circle cx="43.6" cy="138.1" r="1.8"/><circle cx="18.1" cy="174.7" r="1.8"/><circle cx="43.1" cy="195.8" r="1.5"/><circle cx="52.2" cy="173.8" r="2.1"/><circle cx="71.0" cy="154.4" r="2.5"/><circle cx="63.4" cy="133.0" r="2.1"/><circle cx="51.2" cy="198.7" r="2.2"/><circle cx="63.9" cy="179.0" r="2.2"/><circle cx="45.5" cy="164.8" r="2.0"/><circle cx="10.7" cy="166.2" r="1.8"/><circle cx="43.9" cy="170.3" r="2.1"/><circle cx="40.8" cy="171.1" r="1.6"/><circle cx="88.5" cy="177.9" r="2.2"/><circle cx="69.2" cy="129.3" r="1.5"/><circle cx="39.9" cy="160.8" r="1.8"/><circle cx="51.3" cy="175.2" r="2.3"/><circle cx="65.5" cy="158.3" r="2.4"/><circle cx="75.1" cy="200.6" r="1.3"/><circle cx="56.1" cy="140.5" r="2.4"/><circle cx="86.0" cy="178.3" r="1.7"/><circle cx="80.1" cy="166.3" r="2.2"/><circle cx="24.5" cy="135.4" r="2.4"/><circle cx="79.0" cy="156.2" r="1.4"/><circle cx="33.3" cy="196.8" r="1.6"/><circle cx="70.1" cy="151.2" r="2.5"/><circle cx="36.8" cy="199.7" r="2.0"/><circle cx="9.7" cy="157.4" r="1.9"/><circle cx="21.4" cy="133.8" r="2.0"/><circle cx="68.2" cy="183.2" r="1.7"/><circle cx="23.7" cy="162.2" r="2.2"/><circle cx="26.4" cy="194.9" r="2.6"/><circle cx="36.7" cy="138.4" r="2.0"/><circle cx="21.6" cy="195.6" r="2.1"/><circle cx="42.8" cy="192.6" r="2.3"/><circle cx="69.6" cy="134.8" r="1.8"/><circle cx="37.0" cy="192.9" r="1.6"/></g>
<g fill="#7fd8f0" filter="url(#blur1)"><circle cx="107.4" cy="78.0" r="1.7"/><circle cx="147.2" cy="71.2" r="1.5"/><circle cx="147.9" cy="121.3" r="2.2"/><circle cx="140.7" cy="44.6" r="1.6"/><circle cx="147.7" cy="122.3" r="1.9"/><circle cx="169.9" cy="47.8" r="1.7"/><circle cx="120.7" cy="99.2" r="1.8"/><circle cx="147.0" cy="43.1" r="2.2"/><circle cx="151.7" cy="54.8" r="1.5"/><circle cx="129.3" cy="79.9" r="1.9"/><circle cx="168.4" cy="50.3" r="2.1"/><circle cx="136.7" cy="93.6" r="1.7"/><circle cx="154.6" cy="111.4" r="1.3"/><circle cx="124.7" cy="38.5" r="2.1"/><circle cx="153.8" cy="74.2" r="2.6"/><circle cx="155.7" cy="97.2" r="1.4"/><circle cx="121.1" cy="110.6" r="1.9"/><circle cx="116.1" cy="38.3" r="2.3"/><circle cx="118.9" cy="47.6" r="2.0"/><circle cx="151.2" cy="89.7" r="1.3"/><circle cx="166.2" cy="73.0" r="2.1"/><circle cx="119.4" cy="68.7" r="1.5"/><circle cx="156.1" cy="52.1" r="2.1"/><circle cx="153.4" cy="125.6" r="1.3"/><circle cx="151.0" cy="66.5" r="1.3"/><circle cx="140.0" cy="74.5" r="1.9"/><circle cx="112.5" cy="51.1" r="1.5"/><circle cx="135.5" cy="40.9" r="2.5"/><circle cx="147.8" cy="121.5" r="2.2"/><circle cx="159.0" cy="116.0" r="2.3"/><circle cx="152.9" cy="78.2" r="2.4"/><circle cx="162.0" cy="98.3" r="2.5"/><circle cx="157.8" cy="56.6" r="2.6"/><circle cx="115.4" cy="54.9" r="2.2"/><circle cx="170.4" cy="102.9" r="1.5"/><circle cx="124.1" cy="70.1" r="2.3"/><circle cx="108.4" cy="105.4" r="1.6"/><circle cx="101.7" cy="121.1" r="2.4"/><circle cx="156.4" cy="112.8" r="2.0"/><circle cx="164.5" cy="93.1" r="1.9"/><circle cx="154.4" cy="107.8" r="2.1"/><circle cx="125.1" cy="84.9" r="1.5"/><circle cx="129.2" cy="98.7" r="2.3"/><circle cx="137.1" cy="81.3" r="2.4"/><circle cx="139.6" cy="86.3" r="1.5"/><circle cx="156.4" cy="115.0" r="2.6"/><circle cx="154.8" cy="42.4" r="1.8"/><circle cx="115.7" cy="95.6" r="1.5"/><circle cx="139.1" cy="122.7" r="2.2"/><circle cx="125.5" cy="110.8" r="1.8"/><circle cx="153.9" cy="57.8" r="2.5"/><circle cx="131.9" cy="42.0" r="1.6"/><circle cx="130.3" cy="58.2" r="2.1"/><circle cx="116.2" cy="82.7" r="2.3"/><circle cx="137.6" cy="60.2" r="2.2"/><circle cx="143.5" cy="93.6" r="1.9"/><circle cx="130.2" cy="113.9" r="1.8"/><circle cx="129.5" cy="125.5" r="2.3"/><circle cx="108.6" cy="110.1" r="1.9"/><circle cx="150.9" cy="84.3" r="1.7"/></g>
<g fill="#7fd8f0" filter="url(#blur1)"><circle cx="63.7" cy="227.2" r="2.3"/><circle cx="53.9" cy="211.5" r="2.2"/><circle cx="78.6" cy="221.7" r="1.9"/><circle cx="75.7" cy="206.4" r="1.9"/><circle cx="75.4" cy="237.1" r="1.6"/><circle cx="47.8" cy="233.0" r="2.4"/><circle cx="98.2" cy="233.3" r="2.3"/><circle cx="43.0" cy="244.5" r="2.3"/><circle cx="56.7" cy="208.5" r="2.2"/><circle cx="119.0" cy="230.2" r="1.7"/><circle cx="120.1" cy="242.5" r="1.4"/><circle cx="54.7" cy="239.8" r="1.6"/><circle cx="122.6" cy="225.1" r="2.2"/><circle cx="47.7" cy="205.4" r="1.8"/><circle cx="115.1" cy="235.3" r="1.4"/><circle cx="119.3" cy="246.0" r="1.4"/><circle cx="97.1" cy="247.6" r="1.6"/><circle cx="101.0" cy="219.9" r="1.3"/><circle cx="53.6" cy="233.6" r="1.5"/><circle cx="103.3" cy="220.2" r="1.4"/><circle cx="95.1" cy="233.4" r="1.7"/><circle cx="126.6" cy="235.5" r="1.6"/><circle cx="74.0" cy="232.6" r="1.6"/><circle cx="125.0" cy="230.4" r="1.7"/><circle cx="121.6" cy="215.2" r="2.2"/></g>
<g fill="#e050d0" filter="url(#blur1)"><circle cx="121.2" cy="120.7" r="1.7"/><circle cx="147.0" cy="203.5" r="2.0"/><circle cx="142.8" cy="201.2" r="2.2"/><circle cx="49.7" cy="48.5" r="2.2"/><circle cx="152.9" cy="186.6" r="1.7"/><circle cx="25.5" cy="73.9" r="2.0"/><circle cx="13.8" cy="234.5" r="1.4"/><circle cx="134.1" cy="149.7" r="1.5"/><circle cx="28.5" cy="168.3" r="1.3"/><circle cx="121.8" cy="118.6" r="1.7"/><circle cx="171.8" cy="175.2" r="2.3"/><circle cx="160.8" cy="93.8" r="2.3"/><circle cx="99.3" cy="142.3" r="2.2"/><circle cx="108.7" cy="194.4" r="2.2"/><circle cx="30.9" cy="233.0" r="1.9"/><circle cx="59.5" cy="159.5" r="2.0"/><circle cx="54.6" cy="95.3" r="2.1"/><circle cx="147.7" cy="154.7" r="2.2"/><circle cx="67.3" cy="211.3" r="2.6"/><circle cx="111.1" cy="116.5" r="2.2"/><circle cx="109.6" cy="248.1" r="2.6"/><circle cx="23.7" cy="69.2" r="1.4"/><circle cx="89.9" cy="232.0" r="1.3"/><circle cx="88.7" cy="92.2" r="2.6"/><circle cx="67.8" cy="223.7" r="2.4"/><circle cx="43.9" cy="166.2" r="2.5"/><circle cx="72.4" cy="167.7" r="2.3"/><circle cx="62.3" cy="79.5" r="2.5"/><circle cx="136.0" cy="182.3" r="1.7"/><circle cx="61.0" cy="128.4" r="1.6"/><circle cx="62.0" cy="235.1" r="2.0"/><circle cx="174.2" cy="201.1" r="1.6"/><circle cx="15.2" cy="164.5" r="1.8"/><circle cx="86.4" cy="235.9" r="1.4"/><circle cx="170.7" cy="113.8" r="1.6"/><circle cx="69.7" cy="253.0" r="2.0"/><circle cx="10.2" cy="177.7" r="1.3"/><circle cx="31.5" cy="181.5" r="2.0"/><circle cx="153.0" cy="44.1" r="2.6"/><circle cx="40.9" cy="235.4" r="1.9"/><circle cx="165.4" cy="162.2" r="1.3"/><circle cx="101.3" cy="246.0" r="2.0"/><circle cx="35.6" cy="246.5" r="2.2"/><circle cx="143.6" cy="234.3" r="2.2"/><circle cx="143.4" cy="135.5" r="1.9"/></g>
<g fill="#50e070" filter="url(#blur1)"><circle cx="174.5" cy="69.1" r="3.0"/><circle cx="147.6" cy="55.7" r="2.6"/><circle cx="142.0" cy="83.3" r="1.9"/><circle cx="108.7" cy="71.6" r="2.2"/><circle cx="169.0" cy="107.7" r="3.0"/><circle cx="148.5" cy="57.3" r="2.3"/></g>
<text x="7" y="18" font-size="17" fill="#fff" font-family='"DejaVu Sans", sans-serif' letter-spacing="-0.45">Merge</text>
<rect x="0" y="231.5" width="54" height="23" fill="#000"/>
<text x="27.0" y="241.0" font-size="9.5" fill="#fff" text-anchor="middle" font-family='"DejaVu Sans", sans-serif'>50 µm</text>
<path d="M7 245.0 H47 M7 241.5 V248.5 M47 241.5 V248.5" stroke="#fff" stroke-width="2" fill="none"/>
</svg>
<path d="M1255 340.6 H1247 V348.6 M1271 340.6 H1279 V348.6 M1247 364 V372 H1255 M1279 364 V372 H1271" stroke="#fff" stroke-width="2" fill="none"/>
<path d="M1142 416.5 H1134 V424.5 M1156 416.5 H1164 V424.5 M1134 439 V447 H1142 M1164 439 V447 H1156" stroke="#fff" stroke-width="2" fill="none"/>
<g stroke="#ccc" stroke-width="1.2" stroke-dasharray="10 6">
<line x1="1279.0" y1="341.0" x2="1383.0" y2="292.0" stroke="#ccc" stroke-width="1.2"/>
<line x1="1279.0" y1="372.0" x2="1383.0" y2="355.0" stroke="#ccc" stroke-width="1.2"/>
<line x1="1164.0" y1="417.0" x2="1381.0" y2="407.0" stroke="#ccc" stroke-width="1.2"/>
<line x1="1164.0" y1="447.0" x2="1381.0" y2="473.0" stroke="#ccc" stroke-width="1.2"/>
</g>
<svg x="1383.0" y="291.4" width="60.7" height="63.2" overflow="hidden">
<rect width="60.7" height="63.2" fill="#2a2380"/>
<rect x="-13.5" y="-12.2" width="87.6" height="87.6" filter="url(#f30)" transform="rotate(35 30.4 31.6)"/>
<rect x="-13.5" y="-12.2" width="87.6" height="87.6" filter="url(#f31)" transform="rotate(35 30.4 31.6)"/>
<ellipse cx="6.1" cy="19.0" rx="9.1" ry="19.0" fill="#05030f" opacity="0.8" filter="url(#blur14)"/>
<ellipse cx="51.6" cy="25.3" rx="9.1" ry="19.0" fill="#05030f" opacity="0.7" filter="url(#blur14)"/>
<g fill="#ffffff" filter="url(#blur1)"><circle cx="30.4" cy="19.0" r="6.2"/></g>
<g fill="#30c070" filter="url(#blur1)"><circle cx="30.4" cy="19.0" r="4.6"/></g>
<g fill="#e040e0" filter="url(#blur1)"><circle cx="35.5" cy="39.1" r="4.9"/><circle cx="33.2" cy="42.0" r="4.3"/><circle cx="31.4" cy="38.4" r="5.0"/></g>
</svg>
<svg x="1381.0" y="406.5" width="68.7" height="66.9" overflow="hidden">
<rect width="68.7" height="66.9" fill="#2e2a90"/>
<rect x="-13.6" y="-14.5" width="95.9" height="95.9" filter="url(#f32)" transform="rotate(35 34.4 33.5)"/>
<rect x="-13.6" y="-14.5" width="95.9" height="95.9" filter="url(#f33)" transform="rotate(35 34.4 33.5)"/>
<g fill="#ffa020" filter="url(#blur1)"><circle cx="61.2" cy="25.2" r="3.6"/><circle cx="45.9" cy="54.9" r="3.1"/><circle cx="59.3" cy="28.7" r="4.0"/><circle cx="43.7" cy="29.5" r="3.0"/><circle cx="50.4" cy="24.6" r="3.1"/><circle cx="31.3" cy="25.7" r="2.8"/></g>
</svg>
<text x="9.1" y="653.0" font-size="46.5" text-anchor="start" fill="#000">B</text>
<text x="159.4" y="661.0" font-size="20.5" text-anchor="start" fill="#000">Post-treatment</text>
<line x1="115.6" y1="672.6" x2="315.0" y2="672.6" stroke="#222" stroke-width="1.6"/>
<line x1="115.6" y1="668.6" x2="115.6" y2="676.6" stroke="#222" stroke-width="1.6"/>
<line x1="315.0" y1="668.6" x2="315.0" y2="676.6" stroke="#222" stroke-width="1.6"/>
<line x1="128.0" y1="785.0" x2="325.0" y2="785.0" stroke="#f1f1f1" stroke-width="1"/>
<line x1="128.0" y1="815.0" x2="325.0" y2="815.0" stroke="#f1f1f1" stroke-width="1"/>
<line x1="128.0" y1="847.0" x2="325.0" y2="847.0" stroke="#f1f1f1" stroke-width="1"/>
<line x1="128.0" y1="878.0" x2="325.0" y2="878.0" stroke="#f1f1f1" stroke-width="1"/>
<line x1="128.0" y1="800.0" x2="325.0" y2="800.0" stroke="#f8f8f8" stroke-width="1"/>
<line x1="128.0" y1="831.0" x2="325.0" y2="831.0" stroke="#f8f8f8" stroke-width="1"/>
<line x1="128.0" y1="862.0" x2="325.0" y2="862.0" stroke="#f8f8f8" stroke-width="1"/>
<line x1="161.5" y1="755.0" x2="161.5" y2="885.0" stroke="#f3f3f3" stroke-width="1"/>
<line x1="226.6" y1="755.0" x2="226.6" y2="885.0" stroke="#f3f3f3" stroke-width="1"/>
<line x1="295.8" y1="755.0" x2="295.8" y2="885.0" stroke="#f3f3f3" stroke-width="1"/>
<text x="121.4" y="790.1" font-size="16.2" text-anchor="end" fill="#4d4d4d">30</text>
<text x="121.4" y="820.0" font-size="16.2" text-anchor="end" fill="#4d4d4d">10</text>
<text x="121.4" y="852.3" font-size="16.2" text-anchor="end" fill="#4d4d4d">3</text>
<text x="121.4" y="883.3" font-size="16.2" text-anchor="end" fill="#4d4d4d">1</text>
<line x1="148.3" y1="760.4" x2="148.3" y2="799.0" stroke="#444" stroke-width="1"/>
<line x1="148.3" y1="825.5" x2="148.3" y2="849.4" stroke="#444" stroke-width="1"/>
<rect x="138.8" y="799.0" width="19.0" height="26.5" fill="#6565cc" stroke="#333" stroke-width="0.8"/>
<line x1="138.8" y1="813.0" x2="157.8" y2="813.0" stroke="#222" stroke-width="1.6"/>
<line x1="175.3" y1="762.6" x2="175.3" y2="823.3" stroke="#444" stroke-width="1"/>
<line x1="175.3" y1="871.5" x2="175.3" y2="877.5" stroke="#444" stroke-width="1"/>
<rect x="165.9" y="823.3" width="18.8" height="48.2" fill="#dc5035" stroke="#333" stroke-width="0.8"/>
<line x1="165.9" y1="864.5" x2="184.7" y2="864.5" stroke="#222" stroke-width="1.6"/>
<line x1="213.2" y1="783.6" x2="213.2" y2="797.3" stroke="#444" stroke-width="1"/>
<line x1="213.2" y1="847.4" x2="213.2" y2="867.6" stroke="#444" stroke-width="1"/>
<rect x="203.8" y="797.3" width="18.9" height="50.1" fill="#6565cc" stroke="#333" stroke-width="0.8"/>
<line x1="203.8" y1="827.0" x2="222.7" y2="827.0" stroke="#222" stroke-width="1.6"/>
<line x1="239.9" y1="771.4" x2="239.9" y2="806.4" stroke="#444" stroke-width="1"/>
<line x1="239.9" y1="875.8" x2="239.9" y2="879.7" stroke="#444" stroke-width="1"/>
<rect x="230.5" y="806.4" width="18.9" height="69.4" fill="#dc5035" stroke="#333" stroke-width="0.8"/>
<line x1="230.5" y1="841.0" x2="249.4" y2="841.0" stroke="#222" stroke-width="1.6"/>
<line x1="282.1" y1="842.0" x2="282.1" y2="846.3" stroke="#444" stroke-width="1"/>
<line x1="282.1" y1="866.3" x2="282.1" y2="868.6" stroke="#444" stroke-width="1"/>
<rect x="272.6" y="846.3" width="19.0" height="20.0" fill="#6565cc" stroke="#333" stroke-width="0.8"/>
<line x1="272.6" y1="861.3" x2="291.6" y2="861.3" stroke="#222" stroke-width="1.6"/>
<line x1="309.3" y1="848.7" x2="309.3" y2="864.0" stroke="#444" stroke-width="1"/>
<rect x="299.9" y="864.0" width="18.8" height="15.7" fill="#dc5035" stroke="#333" stroke-width="0.8"/>
<line x1="299.9" y1="879.0" x2="318.7" y2="879.0" stroke="#222" stroke-width="1.6"/>
<circle cx="148.7" cy="760.4" r="4" fill="#888" fill-opacity="0.25" stroke="#888" stroke-width="2" opacity="0.45"/>
<circle cx="148.7" cy="795.0" r="4" fill="#888" fill-opacity="0.25" stroke="#888" stroke-width="2" opacity="0.45"/>
<circle cx="148.7" cy="812.0" r="4" fill="#888" fill-opacity="0.25" stroke="#888" stroke-width="2" opacity="0.45"/>
<circle cx="148.7" cy="829.0" r="4" fill="#888" fill-opacity="0.25" stroke="#888" stroke-width="2" opacity="0.45"/>
<circle cx="148.7" cy="849.4" r="4" fill="#888" fill-opacity="0.25" stroke="#888" stroke-width="2" opacity="0.45"/>
<circle cx="175.5" cy="762.6" r="4" fill="#888" fill-opacity="0.25" stroke="#888" stroke-width="2" opacity="0.45"/>
<circle cx="175.5" cy="799.7" r="4" fill="#888" fill-opacity="0.25" stroke="#888" stroke-width="2" opacity="0.45"/>
<circle cx="175.5" cy="847.0" r="4" fill="#888" fill-opacity="0.25" stroke="#888" stroke-width="2" opacity="0.45"/>
<circle cx="175.5" cy="865.0" r="4" fill="#888" fill-opacity="0.25" stroke="#888" stroke-width="2" opacity="0.45"/>
<circle cx="175.5" cy="877.5" r="4" fill="#888" fill-opacity="0.25" stroke="#888" stroke-width="2" opacity="0.45"/>
<circle cx="213.0" cy="783.6" r="4" fill="#888" fill-opacity="0.25" stroke="#888" stroke-width="2" opacity="0.45"/>
<circle cx="213.0" cy="792.8" r="4" fill="#888" fill-opacity="0.25" stroke="#888" stroke-width="2" opacity="0.45"/>
<circle cx="213.0" cy="805.6" r="4" fill="#888" fill-opacity="0.25" stroke="#888" stroke-width="2" opacity="0.45"/>
<circle cx="213.0" cy="847.0" r="4" fill="#888" fill-opacity="0.25" stroke="#888" stroke-width="2" opacity="0.45"/>
<circle cx="213.0" cy="867.6" r="4" fill="#888" fill-opacity="0.25" stroke="#888" stroke-width="2" opacity="0.45"/>
<circle cx="240.0" cy="771.4" r="4" fill="#888" fill-opacity="0.25" stroke="#888" stroke-width="2" opacity="0.45"/>
<circle cx="240.0" cy="802.0" r="4" fill="#888" fill-opacity="0.25" stroke="#888" stroke-width="2" opacity="0.45"/>
<circle cx="240.0" cy="819.6" r="4" fill="#888" fill-opacity="0.25" stroke="#888" stroke-width="2" opacity="0.45"/>
<circle cx="240.0" cy="862.0" r="4" fill="#888" fill-opacity="0.25" stroke="#888" stroke-width="2" opacity="0.45"/>
<circle cx="240.0" cy="879.7" r="4" fill="#888" fill-opacity="0.25" stroke="#888" stroke-width="2" opacity="0.45"/>
<circle cx="282.0" cy="842.0" r="4" fill="#888" fill-opacity="0.25" stroke="#888" stroke-width="2" opacity="0.45"/>
<circle cx="282.0" cy="857.0" r="4" fill="#888" fill-opacity="0.25" stroke="#888" stroke-width="2" opacity="0.45"/>
<circle cx="282.0" cy="868.6" r="4" fill="#888" fill-opacity="0.25" stroke="#888" stroke-width="2" opacity="0.45"/>
<circle cx="308.0" cy="800.6" r="4" fill="#888" fill-opacity="0.25" stroke="#888" stroke-width="2" opacity="0.45"/>
<circle cx="308.0" cy="848.7" r="4" fill="#888" fill-opacity="0.25" stroke="#888" stroke-width="2" opacity="0.45"/>
<circle cx="308.0" cy="879.7" r="4" fill="#888" fill-opacity="0.25" stroke="#888" stroke-width="2" opacity="0.45"/>
<circle cx="308.0" cy="879.7" r="4" fill="#888" fill-opacity="0.25" stroke="#888" stroke-width="2" opacity="0.45"/>
<text x="296.0" y="748.0" font-size="14" text-anchor="middle" fill="#222">p=0.1</text>
<line x1="283.4" y1="755.0" x2="311.0" y2="755.0" stroke="#222" stroke-width="1.2"/>
<line x1="283.4" y1="752.5" x2="283.4" y2="757.5" stroke="#222" stroke-width="1.2"/>
<line x1="311.0" y1="752.5" x2="311.0" y2="757.5" stroke="#222" stroke-width="1.2"/>
<text transform="translate(87.5 900.6) rotate(-90)" font-size="20.5">Contact density <tspan font-size="13">(50 µm)</tspan></text>
<line x1="128.0" y1="954.0" x2="325.0" y2="954.0" stroke="#f1f1f1" stroke-width="1"/>
<line x1="128.0" y1="991.0" x2="325.0" y2="991.0" stroke="#f1f1f1" stroke-width="1"/>
<line x1="128.0" y1="1028.0" x2="325.0" y2="1028.0" stroke="#f1f1f1" stroke-width="1"/>
<line x1="128.0" y1="972.5" x2="325.0" y2="972.5" stroke="#f8f8f8" stroke-width="1"/>
<line x1="128.0" y1="1009.5" x2="325.0" y2="1009.5" stroke="#f8f8f8" stroke-width="1"/>
<line x1="128.0" y1="1046.0" x2="325.0" y2="1046.0" stroke="#f8f8f8" stroke-width="1"/>
<line x1="161.5" y1="937.0" x2="161.5" y2="1062.0" stroke="#f3f3f3" stroke-width="1"/>
<line x1="226.6" y1="937.0" x2="226.6" y2="1062.0" stroke="#f3f3f3" stroke-width="1"/>
<line x1="295.8" y1="937.0" x2="295.8" y2="1062.0" stroke="#f3f3f3" stroke-width="1"/>
<line x1="128.0" y1="992.1" x2="325.0" y2="992.1" stroke="#999" stroke-width="1.2"/>
<text x="121.4" y="959.5" font-size="16.2" text-anchor="end" fill="#4d4d4d">1</text>
<text x="121.4" y="996.4" font-size="16.2" text-anchor="end" fill="#4d4d4d">0</text>
<text x="121.4" y="1033.2" font-size="16.2" text-anchor="end" fill="#4d4d4d">-1</text>
<line x1="148.3" y1="938.0" x2="148.3" y2="947.9" stroke="#444" stroke-width="1"/>
<line x1="148.3" y1="980.8" x2="148.3" y2="989.0" stroke="#444" stroke-width="1"/>
<rect x="138.8" y="947.9" width="19.0" height="32.9" fill="#6565cc" stroke="#333" stroke-width="0.8"/>
<line x1="138.8" y1="962.0" x2="157.8" y2="962.0" stroke="#222" stroke-width="1.6"/>
<line x1="175.3" y1="956.0" x2="175.3" y2="970.2" stroke="#444" stroke-width="1"/>
<line x1="175.3" y1="1006.2" x2="175.3" y2="1008.0" stroke="#444" stroke-width="1"/>
<rect x="165.9" y="970.2" width="18.8" height="36.0" fill="#dc5035" stroke="#333" stroke-width="0.8"/>
<line x1="165.9" y1="999.9" x2="184.7" y2="999.9" stroke="#222" stroke-width="1.6"/>
<line x1="213.2" y1="953.0" x2="213.2" y2="955.5" stroke="#444" stroke-width="1"/>
<line x1="213.2" y1="975.8" x2="213.2" y2="1006.0" stroke="#444" stroke-width="1"/>
<rect x="203.8" y="955.5" width="18.9" height="20.3" fill="#6565cc" stroke="#333" stroke-width="0.8"/>
<line x1="203.8" y1="955.9" x2="222.7" y2="955.9" stroke="#222" stroke-width="1.6"/>
<line x1="239.9" y1="963.0" x2="239.9" y2="978.2" stroke="#444" stroke-width="1"/>
<line x1="239.9" y1="1010.0" x2="239.9" y2="1040.0" stroke="#444" stroke-width="1"/>
<rect x="230.5" y="978.2" width="18.9" height="31.8" fill="#dc5035" stroke="#333" stroke-width="0.8"/>
<line x1="230.5" y1="985.6" x2="249.4" y2="985.6" stroke="#222" stroke-width="1.6"/>
<line x1="282.1" y1="947.0" x2="282.1" y2="953.3" stroke="#444" stroke-width="1"/>
<line x1="282.1" y1="990.6" x2="282.1" y2="998.0" stroke="#444" stroke-width="1"/>
<rect x="272.6" y="953.3" width="19.0" height="37.3" fill="#6565cc" stroke="#333" stroke-width="0.8"/>
<line x1="272.6" y1="972.6" x2="291.6" y2="972.6" stroke="#222" stroke-width="1.6"/>
<line x1="309.3" y1="974.0" x2="309.3" y2="988.0" stroke="#444" stroke-width="1"/>
<line x1="309.3" y1="1005.3" x2="309.3" y2="1010.0" stroke="#444" stroke-width="1"/>
<rect x="299.9" y="988.0" width="18.8" height="17.3" fill="#dc5035" stroke="#333" stroke-width="0.8"/>
<line x1="299.9" y1="992.7" x2="318.7" y2="992.7" stroke="#222" stroke-width="1.6"/>
<circle cx="148.7" cy="938.0" r="4" fill="#888" fill-opacity="0.25" stroke="#888" stroke-width="2" opacity="0.45"/>
<circle cx="148.7" cy="947.0" r="4" fill="#888" fill-opacity="0.25" stroke="#888" stroke-width="2" opacity="0.45"/>
<circle cx="148.7" cy="975.0" r="4" fill="#888" fill-opacity="0.25" stroke="#888" stroke-width="2" opacity="0.45"/>
<circle cx="148.7" cy="985.0" r="4" fill="#888" fill-opacity="0.25" stroke="#888" stroke-width="2" opacity="0.45"/>
<circle cx="148.7" cy="989.0" r="4" fill="#888" fill-opacity="0.25" stroke="#888" stroke-width="2" opacity="0.45"/>
<circle cx="175.5" cy="956.0" r="4" fill="#888" fill-opacity="0.25" stroke="#888" stroke-width="2" opacity="0.45"/>
<circle cx="175.5" cy="963.0" r="4" fill="#888" fill-opacity="0.25" stroke="#888" stroke-width="2" opacity="0.45"/>
<circle cx="175.5" cy="975.0" r="4" fill="#888" fill-opacity="0.25" stroke="#888" stroke-width="2" opacity="0.45"/>
<circle cx="175.5" cy="1005.0" r="4" fill="#888" fill-opacity="0.25" stroke="#888" stroke-width="2" opacity="0.45"/>
<circle cx="175.5" cy="1008.0" r="4" fill="#888" fill-opacity="0.25" stroke="#888" stroke-width="2" opacity="0.45"/>
<circle cx="213.0" cy="953.0" r="4" fill="#888" fill-opacity="0.25" stroke="#888" stroke-width="2" opacity="0.45"/>
<circle cx="213.0" cy="981.0" r="4" fill="#888" fill-opacity="0.25" stroke="#888" stroke-width="2" opacity="0.45"/>
<circle cx="213.0" cy="1006.0" r="4" fill="#888" fill-opacity="0.25" stroke="#888" stroke-width="2" opacity="0.45"/>
<circle cx="240.0" cy="963.0" r="4" fill="#888" fill-opacity="0.25" stroke="#888" stroke-width="2" opacity="0.45"/>
<circle cx="240.0" cy="975.0" r="4" fill="#888" fill-opacity="0.25" stroke="#888" stroke-width="2" opacity="0.45"/>
<circle cx="240.0" cy="988.0" r="4" fill="#888" fill-opacity="0.25" stroke="#888" stroke-width="2" opacity="0.45"/>
<circle cx="240.0" cy="1017.0" r="4" fill="#888" fill-opacity="0.25" stroke="#888" stroke-width="2" opacity="0.45"/>
<circle cx="240.0" cy="1040.0" r="4" fill="#888" fill-opacity="0.25" stroke="#888" stroke-width="2" opacity="0.45"/>
<circle cx="282.0" cy="947.0" r="4" fill="#888" fill-opacity="0.25" stroke="#888" stroke-width="2" opacity="0.45"/>
<circle cx="282.0" cy="972.0" r="4" fill="#888" fill-opacity="0.25" stroke="#888" stroke-width="2" opacity="0.45"/>
<circle cx="282.0" cy="997.0" r="4" fill="#888" fill-opacity="0.25" stroke="#888" stroke-width="2" opacity="0.45"/>
<circle cx="308.0" cy="974.0" r="4" fill="#888" fill-opacity="0.25" stroke="#888" stroke-width="2" opacity="0.45"/>
<circle cx="308.0" cy="983.0" r="4" fill="#888" fill-opacity="0.25" stroke="#888" stroke-width="2" opacity="0.45"/>
<circle cx="308.0" cy="1009.0" r="4" fill="#888" fill-opacity="0.25" stroke="#888" stroke-width="2" opacity="0.45"/>
<circle cx="308.0" cy="1057.0" r="4" fill="#888" fill-opacity="0.25" stroke="#888" stroke-width="2" opacity="0.45"/>
<text x="292.8" y="930.5" font-size="14" text-anchor="middle" fill="#222">p=0.07</text>
<line x1="280.4" y1="934.2" x2="307.9" y2="934.2" stroke="#222" stroke-width="1.2"/>
<line x1="280.4" y1="931.7" x2="280.4" y2="936.7" stroke="#222" stroke-width="1.2"/>
<line x1="307.9" y1="931.7" x2="307.9" y2="936.7" stroke="#222" stroke-width="1.2"/>
<text transform="translate(72.5 993.0) rotate(-90)" font-size="21" text-anchor="middle" fill="#000">Proximity</text>
<text transform="translate(98.5 993.0) rotate(-90)" font-size="21" text-anchor="middle" fill="#000">enrichment</text>
<text transform="translate(170.4 1081.0) rotate(-30)" font-size="17" text-anchor="end" fill="#222">Progenitor CD8-mregDC</text>
<text transform="translate(241.0 1079.1) rotate(-30)" font-size="17" text-anchor="end" fill="#222">CXCL13<tspan dy="-6" font-size="11">+</tspan><tspan dy="6"> Th-mregDC</tspan></text>
<text transform="translate(302.8 1079.0) rotate(-30)" font-size="17" text-anchor="end" fill="#222">Triad</text>
<line x1="356.8" y1="1112.4" x2="356.8" y2="1145.4" stroke="#555" stroke-width="1"/>
<rect x="341.0" y="1118.4" width="31.6" height="20.8" fill="#6565cc" stroke="#444" stroke-width="0.6"/>
<line x1="341.0" y1="1128.8" x2="372.6" y2="1128.8" stroke="#333" stroke-width="1"/>
<circle cx="356.8" cy="1128.8" r="6.5" fill="#555" stroke="none" stroke-width="1" opacity="0.25"/>
<text x="389.0" y="1134.0" font-size="22.5" text-anchor="start" fill="#000">Responder</text>
<line x1="356.8" y1="1153.8" x2="356.8" y2="1186.8" stroke="#555" stroke-width="1"/>
<rect x="341.0" y="1159.8" width="31.6" height="20.8" fill="#dc5035" stroke="#444" stroke-width="0.6"/>
<line x1="341.0" y1="1170.2" x2="372.6" y2="1170.2" stroke="#333" stroke-width="1"/>
<circle cx="356.8" cy="1170.2" r="6.5" fill="#555" stroke="none" stroke-width="1" opacity="0.25"/>
<text x="389.0" y="1179.0" font-size="22.5" text-anchor="start" fill="#000">Non–responder/T cell rich</text>
<text x="494.1" y="652.8" font-size="46.5" text-anchor="start" fill="#000">C</text>
<text x="1011.0" y="649.0" font-size="20.5" text-anchor="start" fill="#000">Post-treatment</text>
<line x1="593.0" y1="660.6" x2="1582.0" y2="660.6" stroke="#222" stroke-width="1.6"/>
<line x1="593.0" y1="656.6" x2="593.0" y2="664.6" stroke="#222" stroke-width="1.6"/>
<line x1="1582.0" y1="656.6" x2="1582.0" y2="664.6" stroke="#222" stroke-width="1.6"/>
<text x="620.8" y="705" font-size="16.5">CXCL13<tspan dy="-6" font-size="11">+</tspan><tspan dy="6"> Progenitor CD8-mregDC</tspan></text>
<text x="993" y="705" font-size="16.5">CXCL13<tspan dy="-6" font-size="11">+</tspan><tspan dy="6"> Th-mregDC</tspan></text>
<text x="1439.8" y="705.0" font-size="16.5" text-anchor="start" fill="#000">Triad</text>
<g stroke="#a0a0e8" stroke-width="1.1" stroke-dasharray="6 5" opacity="0.55" fill="none">
<polyline points="620.0,868.0 669.0,863.0 721.0,857.0 771.0,855.0 821.0,841.0 872.0,810.0"/>
<polyline points="620.0,885.0 669.0,884.0 721.0,876.0 771.0,870.0 821.0,858.0 872.0,830.0"/>
</g>
<g stroke="#f0a090" stroke-width="1.1" stroke-dasharray="6 5" opacity="0.55" fill="none">
<polyline points="635.0,831.0 690.0,831.0 741.0,819.0 791.0,804.0 841.0,788.0 892.0,730.0"/>
</g>
<line x1="600.0" y1="741.7" x2="911.0" y2="741.7" stroke="#f2f2f2" stroke-width="1"/>
<line x1="600.0" y1="792.0" x2="911.0" y2="792.0" stroke="#f2f2f2" stroke-width="1"/>
<line x1="600.0" y1="845.8" x2="911.0" y2="845.8" stroke="#f2f2f2" stroke-width="1"/>
<line x1="600.0" y1="896.3" x2="911.0" y2="896.3" stroke="#f2f2f2" stroke-width="1"/>
<line x1="600.0" y1="766.0" x2="911.0" y2="766.0" stroke="#f8f8f8" stroke-width="1"/>
<line x1="600.0" y1="818.0" x2="911.0" y2="818.0" stroke="#f8f8f8" stroke-width="1"/>
<line x1="600.0" y1="871.0" x2="911.0" y2="871.0" stroke="#f8f8f8" stroke-width="1"/>
<line x1="628.5" y1="718.0" x2="628.5" y2="905.0" stroke="#f5f5f5" stroke-width="1"/>
<line x1="679.0" y1="718.0" x2="679.0" y2="905.0" stroke="#f5f5f5" stroke-width="1"/>
<line x1="729.7" y1="718.0" x2="729.7" y2="905.0" stroke="#f5f5f5" stroke-width="1"/>
<line x1="780.0" y1="718.0" x2="780.0" y2="905.0" stroke="#f5f5f5" stroke-width="1"/>
<line x1="830.5" y1="718.0" x2="830.5" y2="905.0" stroke="#f5f5f5" stroke-width="1"/>
<line x1="881.0" y1="718.0" x2="881.0" y2="905.0" stroke="#f5f5f5" stroke-width="1"/>
<text x="596.5" y="747.3" font-size="15.6" text-anchor="end" fill="#4d4d4d">30</text>
<text x="596.5" y="797.6" font-size="15.6" text-anchor="end" fill="#4d4d4d">10</text>
<text x="596.5" y="851.4" font-size="15.6" text-anchor="end" fill="#4d4d4d">3</text>
<text x="596.5" y="901.9" font-size="15.6" text-anchor="end" fill="#4d4d4d">1</text>
<path d="M627.5 893.9 L662.0 889.6 M678.0 888.5 L712.7 888.0 M728.7 887.5 L763.0 885.5 M779.0 886.4 L813.5 892.2 M829.5 888.4 L864.0 865.9" stroke="#a8a8ec" stroke-width="1.1" stroke-dasharray="7 6" fill="none" opacity="0.6"/>
<path d="M627.5 889.1 L662.0 886.9 M678.0 886.0 L712.7 884.6 M728.7 882.2 L763.0 873.3 M779.0 874.7 L813.5 889.5 M829.5 881.9 L864.0 834.2" stroke="#a8a8ec" stroke-width="1.1" stroke-dasharray="7 6" fill="none" opacity="0.6"/>
<path d="M627.5 887.7 L662.0 889.3 M678.0 889.6 L712.7 889.3 M728.7 889.0 L763.0 887.8 M779.0 884.0 L813.5 868.8 M829.5 860.1 L864.0 837.7" stroke="#a8a8ec" stroke-width="1.1" stroke-dasharray="7 6" fill="none" opacity="0.6"/>
<path d="M627.5 885.2 L662.0 881.3 M678.0 879.6 L712.7 876.0 M728.7 875.0 L763.0 874.3 M779.0 875.8 L813.5 883.0 M829.5 881.5 L864.0 867.6" stroke="#a8a8ec" stroke-width="1.1" stroke-dasharray="7 6" fill="none" opacity="0.6"/>
<path d="M627.5 888.1 L662.0 886.8 M678.0 886.2 L712.7 884.6 M728.7 882.8 L763.0 876.5 M779.0 876.1 L813.5 880.7 M829.5 872.5 L864.0 832.7" stroke="#a8a8ec" stroke-width="1.1" stroke-dasharray="7 6" fill="none" opacity="0.6"/>
<path d="M645.5 898.3 L680.0 897.5 M696.0 897.3 L730.7 896.9 M746.7 897.0 L781.0 897.6 M797.0 897.6 L831.5 897.4 M847.5 891.1 L882.0 864.4" stroke="#f2a898" stroke-width="1.1" stroke-dasharray="7 6" fill="none" opacity="0.6"/>
<path d="M645.5 897.2 L680.0 897.2 M696.0 897.2 L730.7 897.4 M746.7 897.3 L781.0 896.6 M797.0 896.5 L831.5 896.6 M847.5 896.8 L882.0 897.7" stroke="#f2a898" stroke-width="1.1" stroke-dasharray="7 6" fill="none" opacity="0.6"/>
<path d="M645.5 897.6 L680.0 898.4 M696.0 898.5 L730.7 898.1 M746.7 898.1 L781.0 898.2 M797.0 898.1 L831.5 897.5 M847.5 894.9 L882.0 883.9" stroke="#f2a898" stroke-width="1.1" stroke-dasharray="7 6" fill="none" opacity="0.6"/>
<path d="M645.5 898.1 L680.0 897.9 M696.0 897.9 L730.7 898.2 M746.7 898.2 L781.0 897.7 M797.0 897.0 L831.5 894.1 M847.5 891.9 L882.0 885.4" stroke="#f2a898" stroke-width="1.1" stroke-dasharray="7 6" fill="none" opacity="0.6"/>
<path d="M645.5 898.3 L680.0 898.2 M696.0 898.2 L730.7 898.1 M746.7 898.1 L781.0 898.1 M797.0 897.7 L831.5 896.2 M847.5 894.0 L882.0 885.6" stroke="#f2a898" stroke-width="1.1" stroke-dasharray="7 6" fill="none" opacity="0.6"/>
<line x1="619.5" y1="880.0" x2="619.5" y2="885.1" stroke="#8f8fd8" stroke-width="1"/>
<line x1="619.5" y1="891.9" x2="619.5" y2="895.0" stroke="#8f8fd8" stroke-width="1"/>
<rect x="610.9" y="885.1" width="17.2" height="6.8" fill="#6565cc" stroke="#6565cc" stroke-width="0.6"/>
<line x1="610.9" y1="888.0" x2="628.1" y2="888.0" stroke="#5050a0" stroke-width="1"/>
<circle cx="619.5" cy="880.0" r="3.3" fill="none" stroke="#8080d8" stroke-width="1.1" opacity="0.75"/>
<circle cx="619.5" cy="895.0" r="3.3" fill="none" stroke="#8080d8" stroke-width="1.1" opacity="0.75"/>
<rect x="629.1" y="896.9" width="17.0" height="1.7" fill="#dc5035" stroke="#dc5035" stroke-width="0.6"/>
<line x1="670.0" y1="880.0" x2="670.0" y2="885.0" stroke="#8f8fd8" stroke-width="1"/>
<line x1="670.0" y1="892.0" x2="670.0" y2="895.0" stroke="#8f8fd8" stroke-width="1"/>
<rect x="661.4" y="885.0" width="17.2" height="7.0" fill="#6565cc" stroke="#6565cc" stroke-width="0.6"/>
<line x1="661.4" y1="888.0" x2="678.6" y2="888.0" stroke="#5050a0" stroke-width="1"/>
<circle cx="670.0" cy="880.0" r="3.3" fill="none" stroke="#8080d8" stroke-width="1.1" opacity="0.75"/>
<circle cx="670.0" cy="895.0" r="3.3" fill="none" stroke="#8080d8" stroke-width="1.1" opacity="0.75"/>
<rect x="679.6" y="897.0" width="17.0" height="1.6" fill="#dc5035" stroke="#dc5035" stroke-width="0.6"/>
<line x1="720.7" y1="874.0" x2="720.7" y2="881.6" stroke="#8f8fd8" stroke-width="1"/>
<line x1="720.7" y1="891.9" x2="720.7" y2="895.0" stroke="#8f8fd8" stroke-width="1"/>
<rect x="712.1" y="881.6" width="17.2" height="10.3" fill="#6565cc" stroke="#6565cc" stroke-width="0.6"/>
<line x1="712.1" y1="886.0" x2="729.3" y2="886.0" stroke="#5050a0" stroke-width="1"/>
<circle cx="720.7" cy="874.0" r="3.3" fill="none" stroke="#8080d8" stroke-width="1.1" opacity="0.75"/>
<circle cx="720.7" cy="895.0" r="3.3" fill="none" stroke="#8080d8" stroke-width="1.1" opacity="0.75"/>
<rect x="730.3" y="896.5" width="17.0" height="2.1" fill="#dc5035" stroke="#dc5035" stroke-width="0.6"/>
<line x1="771.0" y1="855.0" x2="771.0" y2="873.7" stroke="#8f8fd8" stroke-width="1"/>
<line x1="771.0" y1="889.0" x2="771.0" y2="895.0" stroke="#8f8fd8" stroke-width="1"/>
<rect x="762.4" y="873.7" width="17.2" height="15.3" fill="#6565cc" stroke="#6565cc" stroke-width="0.6"/>
<line x1="762.4" y1="881.0" x2="779.6" y2="881.0" stroke="#5050a0" stroke-width="1"/>
<circle cx="771.0" cy="855.0" r="3.3" fill="none" stroke="#8080d8" stroke-width="1.1" opacity="0.75"/>
<circle cx="771.0" cy="895.0" r="3.3" fill="none" stroke="#8080d8" stroke-width="1.1" opacity="0.75"/>
<rect x="780.6" y="895.7" width="17.0" height="2.9" fill="#dc5035" stroke="#dc5035" stroke-width="0.6"/>
<line x1="821.5" y1="841.0" x2="821.5" y2="864.0" stroke="#8f8fd8" stroke-width="1"/>
<line x1="821.5" y1="884.5" x2="821.5" y2="895.0" stroke="#8f8fd8" stroke-width="1"/>
<rect x="812.9" y="864.0" width="17.2" height="20.5" fill="#6565cc" stroke="#6565cc" stroke-width="0.6"/>
<line x1="812.9" y1="874.0" x2="830.1" y2="874.0" stroke="#5050a0" stroke-width="1"/>
<circle cx="821.5" cy="841.0" r="3.3" fill="none" stroke="#8080d8" stroke-width="1.1" opacity="0.75"/>
<circle cx="821.5" cy="895.0" r="3.3" fill="none" stroke="#8080d8" stroke-width="1.1" opacity="0.75"/>
<rect x="831.1" y="892.8" width="17.0" height="5.8" fill="#dc5035" stroke="#dc5035" stroke-width="0.6"/>
<line x1="872.0" y1="810.0" x2="872.0" y2="818.5" stroke="#8f8fd8" stroke-width="1"/>
<line x1="872.0" y1="856.0" x2="872.0" y2="870.0" stroke="#8f8fd8" stroke-width="1"/>
<rect x="863.4" y="818.5" width="17.2" height="37.5" fill="#6565cc" stroke="#6565cc" stroke-width="0.6"/>
<line x1="863.4" y1="838.5" x2="880.6" y2="838.5" stroke="#5050a0" stroke-width="1"/>
<circle cx="872.0" cy="810.0" r="3.3" fill="none" stroke="#8080d8" stroke-width="1.1" opacity="0.75"/>
<circle cx="872.0" cy="870.0" r="3.3" fill="none" stroke="#8080d8" stroke-width="1.1" opacity="0.75"/>
<line x1="890.1" y1="855.0" x2="890.1" y2="876.6" stroke="#e89a88" stroke-width="1"/>
<rect x="881.6" y="876.6" width="17.0" height="22.0" fill="#dc5035" stroke="#dc5035" stroke-width="0.6"/>
<circle cx="890.1" cy="855.0" r="3.3" fill="none" stroke="#ee8a70" stroke-width="1.1" opacity="0.75"/>
<text transform="translate(562.1 912.0) rotate(-90)" font-size="20.5">Contact density <tspan font-size="13">(50 µm)</tspan></text>
<g stroke="#f0a090" stroke-width="1.1" stroke-dasharray="6 5" opacity="0.55" fill="none">
<polyline points="982.0,855.0 1050.0,850.0 1100.0,840.0 1150.0,825.0 1200.0,790.0 1247.0,730.0"/>
<polyline points="982.0,875.0 1050.0,870.0 1110.0,860.0 1170.0,840.0 1220.0,800.0"/>
</g>
<g stroke="#a0a0e8" stroke-width="1.1" stroke-dasharray="6 5" opacity="0.55" fill="none">
<polyline points="963.0,832.0 1040.0,832.0 1100.0,820.0 1160.0,800.0 1210.0,740.0"/>
<polyline points="963.0,852.0 1040.0,855.0 1100.0,850.0 1160.0,830.0 1212.0,780.0"/>
</g>
<line x1="953.0" y1="750.5" x2="1258.0" y2="750.5" stroke="#f2f2f2" stroke-width="1"/>
<line x1="953.0" y1="797.2" x2="1258.0" y2="797.2" stroke="#f2f2f2" stroke-width="1"/>
<line x1="953.0" y1="848.0" x2="1258.0" y2="848.0" stroke="#f2f2f2" stroke-width="1"/>
<line x1="953.0" y1="895.2" x2="1258.0" y2="895.2" stroke="#f2f2f2" stroke-width="1"/>
<line x1="953.0" y1="776.0" x2="1258.0" y2="776.0" stroke="#f8f8f8" stroke-width="1"/>
<line x1="953.0" y1="823.0" x2="1258.0" y2="823.0" stroke="#f8f8f8" stroke-width="1"/>
<line x1="953.0" y1="874.0" x2="1258.0" y2="874.0" stroke="#f8f8f8" stroke-width="1"/>
<line x1="981.3" y1="718.0" x2="981.3" y2="905.0" stroke="#f5f5f5" stroke-width="1"/>
<line x1="1030.7" y1="718.0" x2="1030.7" y2="905.0" stroke="#f5f5f5" stroke-width="1"/>
<line x1="1080.3" y1="718.0" x2="1080.3" y2="905.0" stroke="#f5f5f5" stroke-width="1"/>
<line x1="1129.7" y1="718.0" x2="1129.7" y2="905.0" stroke="#f5f5f5" stroke-width="1"/>
<line x1="1179.3" y1="718.0" x2="1179.3" y2="905.0" stroke="#f5f5f5" stroke-width="1"/>
<line x1="1229.0" y1="718.0" x2="1229.0" y2="905.0" stroke="#f5f5f5" stroke-width="1"/>
<text x="949.7" y="756.1" font-size="15.6" text-anchor="end" fill="#4d4d4d">30</text>
<text x="949.7" y="802.8" font-size="15.6" text-anchor="end" fill="#4d4d4d">10</text>
<text x="949.7" y="853.6" font-size="15.6" text-anchor="end" fill="#4d4d4d">3</text>
<text x="949.7" y="900.8" font-size="15.6" text-anchor="end" fill="#4d4d4d">1</text>
<path d="M980.3 841.5 L1013.7 853.8 M1029.7 856.1 L1063.3 853.4 M1079.3 856.3 L1112.7 871.3 M1128.7 874.1 L1162.3 870.9 M1178.3 854.8 L1212.0 790.1" stroke="#a8a8ec" stroke-width="1.1" stroke-dasharray="7 6" fill="none" opacity="0.6"/>
<path d="M980.3 881.1 L1013.7 888.7 M1029.7 889.3 L1063.3 884.1 M1079.3 877.4 L1112.7 854.7 M1128.7 850.7 L1162.3 856.9 M1178.3 844.8 L1212.0 787.7" stroke="#a8a8ec" stroke-width="1.1" stroke-dasharray="7 6" fill="none" opacity="0.6"/>
<path d="M980.3 857.5 L1013.7 866.7 M1029.7 866.1 L1063.3 854.6 M1079.3 852.9 L1112.7 857.1 M1128.7 859.2 L1162.3 863.8 M1178.3 858.4 L1212.0 830.7" stroke="#a8a8ec" stroke-width="1.1" stroke-dasharray="7 6" fill="none" opacity="0.6"/>
<path d="M980.3 883.9 L1013.7 877.5 M1029.7 872.1 L1063.3 855.5 M1079.3 851.2 L1112.7 849.8 M1128.7 850.1 L1162.3 852.7 M1178.3 837.9 L1212.0 772.9" stroke="#a8a8ec" stroke-width="1.1" stroke-dasharray="7 6" fill="none" opacity="0.6"/>
<path d="M980.3 865.0 L1013.7 850.1 M1029.7 850.9 L1063.3 869.5 M1079.3 873.1 L1112.7 869.9 M1128.7 858.7 L1162.3 814.8 M1178.3 803.1 L1212.0 797.7" stroke="#a8a8ec" stroke-width="1.1" stroke-dasharray="7 6" fill="none" opacity="0.6"/>
<path d="M998.3 888.9 L1031.7 877.1 M1047.7 874.5 L1081.3 875.6 M1097.3 878.6 L1130.7 889.7 M1146.7 886.6 L1180.3 862.5 M1196.3 848.0 L1230.0 811.4" stroke="#f2a898" stroke-width="1.1" stroke-dasharray="7 6" fill="none" opacity="0.6"/>
<path d="M998.3 886.0 L1031.7 886.8 M1047.7 884.7 L1081.3 875.0 M1097.3 875.5 L1130.7 887.5 M1146.7 888.6 L1180.3 881.3 M1196.3 868.7 L1230.0 822.9" stroke="#f2a898" stroke-width="1.1" stroke-dasharray="7 6" fill="none" opacity="0.6"/>
<path d="M998.3 882.9 L1031.7 878.4 M1047.7 877.8 L1081.3 879.7 M1097.3 881.1 L1130.7 884.8 M1146.7 881.3 L1180.3 862.8 M1196.3 862.5 L1230.0 879.8" stroke="#f2a898" stroke-width="1.1" stroke-dasharray="7 6" fill="none" opacity="0.6"/>
<path d="M998.3 882.7 L1031.7 890.3 M1047.7 890.8 L1081.3 885.2 M1097.3 880.4 L1130.7 866.1 M1146.7 863.5 L1180.3 867.1 M1196.3 861.2 L1230.0 832.8" stroke="#f2a898" stroke-width="1.1" stroke-dasharray="7 6" fill="none" opacity="0.6"/>
<path d="M998.3 887.8 L1031.7 891.8 M1047.7 892.6 L1081.3 892.3 M1097.3 888.7 L1130.7 873.9 M1146.7 869.2 L1180.3 864.6 M1196.3 864.1 L1230.0 866.4" stroke="#f2a898" stroke-width="1.1" stroke-dasharray="7 6" fill="none" opacity="0.6"/>
<line x1="972.3" y1="832.0" x2="972.3" y2="853.3" stroke="#8f8fd8" stroke-width="1"/>
<line x1="972.3" y1="890.8" x2="972.3" y2="894.0" stroke="#8f8fd8" stroke-width="1"/>
<rect x="963.7" y="853.3" width="17.2" height="37.5" fill="#6565cc" stroke="#6565cc" stroke-width="0.6"/>
<line x1="963.7" y1="870.4" x2="980.9" y2="870.4" stroke="#5050a0" stroke-width="1"/>
<circle cx="972.3" cy="832.0" r="3.3" fill="none" stroke="#8080d8" stroke-width="1.1" opacity="0.75"/>
<circle cx="972.3" cy="894.0" r="3.3" fill="none" stroke="#8080d8" stroke-width="1.1" opacity="0.75"/>
<line x1="990.4" y1="869.0" x2="990.4" y2="873.0" stroke="#e89a88" stroke-width="1"/>
<rect x="981.9" y="873.0" width="17.0" height="23.7" fill="#dc5035" stroke="#dc5035" stroke-width="0.6"/>
<line x1="981.9" y1="891.6" x2="998.9" y2="891.6" stroke="#a04030" stroke-width="1"/>
<circle cx="990.4" cy="869.0" r="3.3" fill="none" stroke="#ee8a70" stroke-width="1.1" opacity="0.75"/>
<line x1="1021.7" y1="830.0" x2="1021.7" y2="849.5" stroke="#8f8fd8" stroke-width="1"/>
<line x1="1021.7" y1="890.8" x2="1021.7" y2="894.0" stroke="#8f8fd8" stroke-width="1"/>
<rect x="1013.1" y="849.5" width="17.2" height="41.3" fill="#6565cc" stroke="#6565cc" stroke-width="0.6"/>
<line x1="1013.1" y1="870.0" x2="1030.3" y2="870.0" stroke="#5050a0" stroke-width="1"/>
<circle cx="1021.7" cy="830.0" r="3.3" fill="none" stroke="#8080d8" stroke-width="1.1" opacity="0.75"/>
<circle cx="1021.7" cy="894.0" r="3.3" fill="none" stroke="#8080d8" stroke-width="1.1" opacity="0.75"/>
<line x1="1039.8" y1="869.0" x2="1039.8" y2="873.0" stroke="#e89a88" stroke-width="1"/>
<rect x="1031.3" y="873.0" width="17.0" height="23.7" fill="#dc5035" stroke="#dc5035" stroke-width="0.6"/>
<line x1="1031.3" y1="891.6" x2="1048.3" y2="891.6" stroke="#a04030" stroke-width="1"/>
<circle cx="1039.8" cy="869.0" r="3.3" fill="none" stroke="#ee8a70" stroke-width="1.1" opacity="0.75"/>
<line x1="1071.3" y1="825.0" x2="1071.3" y2="847.0" stroke="#8f8fd8" stroke-width="1"/>
<line x1="1071.3" y1="886.5" x2="1071.3" y2="894.0" stroke="#8f8fd8" stroke-width="1"/>
<rect x="1062.7" y="847.0" width="17.2" height="39.5" fill="#6565cc" stroke="#6565cc" stroke-width="0.6"/>
<line x1="1062.7" y1="867.0" x2="1079.9" y2="867.0" stroke="#5050a0" stroke-width="1"/>
<circle cx="1071.3" cy="825.0" r="3.3" fill="none" stroke="#8080d8" stroke-width="1.1" opacity="0.75"/>
<circle cx="1071.3" cy="894.0" r="3.3" fill="none" stroke="#8080d8" stroke-width="1.1" opacity="0.75"/>
<line x1="1089.4" y1="865.0" x2="1089.4" y2="869.0" stroke="#e89a88" stroke-width="1"/>
<rect x="1080.9" y="869.0" width="17.0" height="27.7" fill="#dc5035" stroke="#dc5035" stroke-width="0.6"/>
<line x1="1080.9" y1="891.0" x2="1097.9" y2="891.0" stroke="#a04030" stroke-width="1"/>
<circle cx="1089.4" cy="865.0" r="3.3" fill="none" stroke="#ee8a70" stroke-width="1.1" opacity="0.75"/>
<line x1="1120.7" y1="812.0" x2="1120.7" y2="837.2" stroke="#8f8fd8" stroke-width="1"/>
<line x1="1120.7" y1="880.6" x2="1120.7" y2="894.0" stroke="#8f8fd8" stroke-width="1"/>
<rect x="1112.1" y="837.2" width="17.2" height="43.4" fill="#6565cc" stroke="#6565cc" stroke-width="0.6"/>
<line x1="1112.1" y1="859.0" x2="1129.3" y2="859.0" stroke="#5050a0" stroke-width="1"/>
<circle cx="1120.7" cy="812.0" r="3.3" fill="none" stroke="#8080d8" stroke-width="1.1" opacity="0.75"/>
<circle cx="1120.7" cy="894.0" r="3.3" fill="none" stroke="#8080d8" stroke-width="1.1" opacity="0.75"/>
<line x1="1138.8" y1="858.0" x2="1138.8" y2="860.7" stroke="#e89a88" stroke-width="1"/>
<rect x="1130.3" y="860.7" width="17.0" height="36.0" fill="#dc5035" stroke="#dc5035" stroke-width="0.6"/>
<line x1="1130.3" y1="890.0" x2="1147.3" y2="890.0" stroke="#a04030" stroke-width="1"/>
<circle cx="1138.8" cy="858.0" r="3.3" fill="none" stroke="#ee8a70" stroke-width="1.1" opacity="0.75"/>
<line x1="1170.3" y1="800.0" x2="1170.3" y2="822.7" stroke="#8f8fd8" stroke-width="1"/>
<line x1="1170.3" y1="876.0" x2="1170.3" y2="892.0" stroke="#8f8fd8" stroke-width="1"/>
<rect x="1161.7" y="822.7" width="17.2" height="53.3" fill="#6565cc" stroke="#6565cc" stroke-width="0.6"/>
<line x1="1161.7" y1="852.6" x2="1178.9" y2="852.6" stroke="#5050a0" stroke-width="1"/>
<circle cx="1170.3" cy="800.0" r="3.3" fill="none" stroke="#8080d8" stroke-width="1.1" opacity="0.75"/>
<circle cx="1170.3" cy="892.0" r="3.3" fill="none" stroke="#8080d8" stroke-width="1.1" opacity="0.75"/>
<line x1="1188.4" y1="787.0" x2="1188.4" y2="849.5" stroke="#e89a88" stroke-width="1"/>
<rect x="1179.9" y="849.5" width="17.0" height="47.2" fill="#dc5035" stroke="#dc5035" stroke-width="0.6"/>
<line x1="1179.9" y1="887.0" x2="1196.9" y2="887.0" stroke="#a04030" stroke-width="1"/>
<circle cx="1188.4" cy="787.0" r="3.3" fill="none" stroke="#ee8a70" stroke-width="1.1" opacity="0.75"/>
<line x1="1220.0" y1="748.0" x2="1220.0" y2="770.0" stroke="#8f8fd8" stroke-width="1"/>
<line x1="1220.0" y1="847.0" x2="1220.0" y2="877.0" stroke="#8f8fd8" stroke-width="1"/>
<rect x="1211.4" y="770.0" width="17.2" height="77.0" fill="#6565cc" stroke="#6565cc" stroke-width="0.6"/>
<line x1="1211.4" y1="814.0" x2="1228.6" y2="814.0" stroke="#5050a0" stroke-width="1"/>
<circle cx="1220.0" cy="748.0" r="3.3" fill="none" stroke="#8080d8" stroke-width="1.1" opacity="0.75"/>
<circle cx="1220.0" cy="877.0" r="3.3" fill="none" stroke="#8080d8" stroke-width="1.1" opacity="0.75"/>
<line x1="1238.1" y1="729.0" x2="1238.1" y2="791.3" stroke="#e89a88" stroke-width="1"/>
<rect x="1229.6" y="791.3" width="17.0" height="105.4" fill="#dc5035" stroke="#dc5035" stroke-width="0.6"/>
<line x1="1229.6" y1="869.0" x2="1246.6" y2="869.0" stroke="#a04030" stroke-width="1"/>
<circle cx="1238.1" cy="729.0" r="3.3" fill="none" stroke="#ee8a70" stroke-width="1.1" opacity="0.75"/>
<g stroke="#f0a090" stroke-width="1.1" stroke-dasharray="6 5" opacity="0.55" fill="none">
<polyline points="1323.0,897.0 1420.0,895.0 1470.0,856.0 1530.0,825.0 1560.0,770.0 1590.0,730.0"/>
</g>
<g stroke="#a0a0e8" stroke-width="1.1" stroke-dasharray="6 5" opacity="0.55" fill="none">
<polyline points="1470.0,890.0 1530.0,880.0 1560.0,855.0"/>
</g>
<line x1="1292.0" y1="742.0" x2="1606.0" y2="742.0" stroke="#f2f2f2" stroke-width="1"/>
<line x1="1292.0" y1="822.0" x2="1606.0" y2="822.0" stroke="#f2f2f2" stroke-width="1"/>
<line x1="1292.0" y1="895.2" x2="1606.0" y2="895.2" stroke="#f2f2f2" stroke-width="1"/>
<line x1="1292.0" y1="782.0" x2="1606.0" y2="782.0" stroke="#f8f8f8" stroke-width="1"/>
<line x1="1292.0" y1="858.0" x2="1606.0" y2="858.0" stroke="#f8f8f8" stroke-width="1"/>
<line x1="1323.0" y1="718.0" x2="1323.0" y2="905.0" stroke="#f5f5f5" stroke-width="1"/>
<line x1="1373.5" y1="718.0" x2="1373.5" y2="905.0" stroke="#f5f5f5" stroke-width="1"/>
<line x1="1424.0" y1="718.0" x2="1424.0" y2="905.0" stroke="#f5f5f5" stroke-width="1"/>
<line x1="1474.5" y1="718.0" x2="1474.5" y2="905.0" stroke="#f5f5f5" stroke-width="1"/>
<line x1="1524.7" y1="718.0" x2="1524.7" y2="905.0" stroke="#f5f5f5" stroke-width="1"/>
<line x1="1575.0" y1="718.0" x2="1575.0" y2="905.0" stroke="#f5f5f5" stroke-width="1"/>
<text x="1290.0" y="747.6" font-size="15.6" text-anchor="end" fill="#4d4d4d">10</text>
<text x="1290.0" y="827.6" font-size="15.6" text-anchor="end" fill="#4d4d4d">3</text>
<text x="1290.0" y="900.8" font-size="15.6" text-anchor="end" fill="#4d4d4d">1</text>
<path d="M1322.0 896.6 L1356.5 896.5 M1372.5 896.5 L1407.0 896.7 M1423.0 896.4 L1457.5 894.8 M1473.5 892.6 L1507.7 885.1 M1523.7 876.5 L1558.0 847.3" stroke="#a8a8ec" stroke-width="1.1" stroke-dasharray="7 6" fill="none" opacity="0.6"/>
<path d="M1322.0 896.8 L1356.5 896.0 M1372.5 896.0 L1407.0 896.8 M1423.0 896.0 L1457.5 892.0 M1473.5 890.7 L1507.7 889.5 M1523.7 883.5 L1558.0 858.7" stroke="#a8a8ec" stroke-width="1.1" stroke-dasharray="7 6" fill="none" opacity="0.6"/>
<path d="M1322.0 896.4 L1356.5 895.9 M1372.5 895.9 L1407.0 896.4 M1423.0 895.6 L1457.5 891.7 M1473.5 891.0 L1507.7 892.0 M1523.7 889.7 L1558.0 878.7" stroke="#a8a8ec" stroke-width="1.1" stroke-dasharray="7 6" fill="none" opacity="0.6"/>
<path d="M1322.0 895.8 L1356.5 895.8 M1372.5 896.0 L1407.0 896.5 M1423.0 895.6 L1457.5 891.4 M1473.5 890.6 L1507.7 891.2 M1523.7 887.8 L1558.0 872.4" stroke="#a8a8ec" stroke-width="1.1" stroke-dasharray="7 6" fill="none" opacity="0.6"/>
<path d="M1322.0 895.8 L1356.5 896.0 M1372.5 896.2 L1407.0 896.7 M1423.0 896.5 L1457.5 894.8 M1473.5 892.7 L1507.7 885.2 M1523.7 878.0 L1558.0 854.7" stroke="#a8a8ec" stroke-width="1.1" stroke-dasharray="7 6" fill="none" opacity="0.6"/>
<path d="M1340.0 896.3 L1374.5 896.2 M1390.5 896.1 L1425.0 895.8 M1441.0 895.8 L1475.5 896.0 M1491.5 896.0 L1525.7 895.7 M1541.7 895.8 L1576.0 896.4" stroke="#f2a898" stroke-width="1.1" stroke-dasharray="7 6" fill="none" opacity="0.6"/>
<path d="M1340.0 895.8 L1374.5 896.2 M1390.5 896.3 L1425.0 896.1 M1441.0 896.1 L1475.5 896.2 M1491.5 896.3 L1525.7 896.8 M1541.7 894.3 L1576.0 883.2" stroke="#f2a898" stroke-width="1.1" stroke-dasharray="7 6" fill="none" opacity="0.6"/>
<path d="M1340.0 895.6 L1374.5 896.0 M1390.5 896.0 L1425.0 895.9 M1441.0 895.8 L1475.5 895.7 M1491.5 895.8 L1525.7 896.3 M1541.7 896.4 L1576.0 896.5" stroke="#f2a898" stroke-width="1.1" stroke-dasharray="7 6" fill="none" opacity="0.6"/>
<path d="M1340.0 896.4 L1374.5 896.6 M1390.5 896.7 L1425.0 896.9 M1441.0 896.8 L1475.5 896.3 M1491.5 896.2 L1525.7 896.6 M1541.7 895.5 L1576.0 890.5" stroke="#f2a898" stroke-width="1.1" stroke-dasharray="7 6" fill="none" opacity="0.6"/>
<path d="M1340.0 896.2 L1374.5 896.6 M1390.5 896.7 L1425.0 896.8 M1441.0 896.8 L1475.5 896.4 M1491.5 896.3 L1525.7 896.5 M1541.7 895.2 L1576.0 889.5" stroke="#f2a898" stroke-width="1.1" stroke-dasharray="7 6" fill="none" opacity="0.6"/>
<rect x="1305.4" y="895.5" width="17.2" height="1.6" fill="#6565cc" stroke="#6565cc" stroke-width="0.6"/>
<rect x="1323.6" y="895.5" width="17.0" height="1.6" fill="#dc5035" stroke="#dc5035" stroke-width="0.6"/>
<rect x="1355.9" y="895.5" width="17.2" height="1.6" fill="#6565cc" stroke="#6565cc" stroke-width="0.6"/>
<rect x="1374.1" y="895.5" width="17.0" height="1.6" fill="#dc5035" stroke="#dc5035" stroke-width="0.6"/>
<rect x="1406.4" y="895.5" width="17.2" height="1.6" fill="#6565cc" stroke="#6565cc" stroke-width="0.6"/>
<rect x="1424.6" y="895.5" width="17.0" height="1.6" fill="#dc5035" stroke="#dc5035" stroke-width="0.6"/>
<line x1="1465.5" y1="883.0" x2="1465.5" y2="890.3" stroke="#8f8fd8" stroke-width="1"/>
<rect x="1456.9" y="890.3" width="17.2" height="5.1" fill="#6565cc" stroke="#6565cc" stroke-width="0.6"/>
<line x1="1456.9" y1="893.0" x2="1474.1" y2="893.0" stroke="#5050a0" stroke-width="1"/>
<circle cx="1465.5" cy="883.0" r="3.3" fill="none" stroke="#8080d8" stroke-width="1.1" opacity="0.75"/>
<rect x="1475.1" y="895.5" width="17.0" height="1.6" fill="#dc5035" stroke="#dc5035" stroke-width="0.6"/>
<line x1="1515.7" y1="878.0" x2="1515.7" y2="882.7" stroke="#8f8fd8" stroke-width="1"/>
<rect x="1507.1" y="882.7" width="17.2" height="11.2" fill="#6565cc" stroke="#6565cc" stroke-width="0.6"/>
<line x1="1507.1" y1="888.0" x2="1524.3" y2="888.0" stroke="#5050a0" stroke-width="1"/>
<circle cx="1515.7" cy="878.0" r="3.3" fill="none" stroke="#8080d8" stroke-width="1.1" opacity="0.75"/>
<rect x="1525.3" y="895.5" width="17.0" height="1.6" fill="#dc5035" stroke="#dc5035" stroke-width="0.6"/>
<line x1="1566.0" y1="818.0" x2="1566.0" y2="840.3" stroke="#8f8fd8" stroke-width="1"/>
<line x1="1566.0" y1="882.1" x2="1566.0" y2="884.0" stroke="#8f8fd8" stroke-width="1"/>
<rect x="1557.4" y="840.3" width="17.2" height="41.8" fill="#6565cc" stroke="#6565cc" stroke-width="0.6"/>
<line x1="1557.4" y1="865.3" x2="1574.6" y2="865.3" stroke="#5050a0" stroke-width="1"/>
<circle cx="1566.0" cy="818.0" r="3.3" fill="none" stroke="#8080d8" stroke-width="1.1" opacity="0.75"/>
<circle cx="1566.0" cy="884.0" r="3.3" fill="none" stroke="#8080d8" stroke-width="1.1" opacity="0.75"/>
<line x1="1584.1" y1="863.0" x2="1584.1" y2="880.0" stroke="#e89a88" stroke-width="1"/>
<rect x="1575.6" y="880.0" width="17.0" height="16.7" fill="#dc5035" stroke="#dc5035" stroke-width="0.6"/>
<circle cx="1584.1" cy="863.0" r="3.3" fill="none" stroke="#ee8a70" stroke-width="1.1" opacity="0.75"/>
<g stroke="#a0a0e8" stroke-width="1.1" stroke-dasharray="6 5" opacity="0.55" fill="none">
<polyline points="611.0,965.0 660.0,960.0 710.0,980.0 760.0,990.0 810.0,975.0 862.0,968.0"/>
<polyline points="611.0,990.0 660.0,1000.0 710.0,1010.0 760.0,1020.0 810.0,1030.0 862.0,1000.0"/>
</g>
<g stroke="#f0a090" stroke-width="1.1" stroke-dasharray="6 5" opacity="0.55" fill="none">
<polyline points="629.0,1045.0 680.0,1055.0 730.0,1060.0 780.0,1062.0 830.0,1070.0 880.0,1100.0"/>
</g>
<line x1="598.0" y1="983.6" x2="912.0" y2="983.6" stroke="#f2f2f2" stroke-width="1"/>
<line x1="598.0" y1="1038.3" x2="912.0" y2="1038.3" stroke="#f2f2f2" stroke-width="1"/>
<line x1="598.0" y1="1094.2" x2="912.0" y2="1094.2" stroke="#f2f2f2" stroke-width="1"/>
<line x1="598.0" y1="1011.0" x2="912.0" y2="1011.0" stroke="#f8f8f8" stroke-width="1"/>
<line x1="598.0" y1="1066.0" x2="912.0" y2="1066.0" stroke="#f8f8f8" stroke-width="1"/>
<line x1="628.5" y1="937.0" x2="628.5" y2="1115.0" stroke="#f5f5f5" stroke-width="1"/>
<line x1="679.0" y1="937.0" x2="679.0" y2="1115.0" stroke="#f5f5f5" stroke-width="1"/>
<line x1="729.7" y1="937.0" x2="729.7" y2="1115.0" stroke="#f5f5f5" stroke-width="1"/>
<line x1="780.0" y1="937.0" x2="780.0" y2="1115.0" stroke="#f5f5f5" stroke-width="1"/>
<line x1="830.5" y1="937.0" x2="830.5" y2="1115.0" stroke="#f5f5f5" stroke-width="1"/>
<line x1="881.0" y1="937.0" x2="881.0" y2="1115.0" stroke="#f5f5f5" stroke-width="1"/>
<line x1="598.0" y1="1040.3" x2="912.0" y2="1040.3" stroke="#999" stroke-width="1.1"/>
<text x="591.2" y="989.2" font-size="15.6" text-anchor="end" fill="#4d4d4d">1</text>
<text x="591.2" y="1043.9" font-size="15.6" text-anchor="end" fill="#4d4d4d">0</text>
<text x="591.2" y="1099.8" font-size="15.6" text-anchor="end" fill="#4d4d4d">-1</text>
<path d="M627.5 980.2 L662.0 972.8 M678.0 970.3 L712.7 966.9 M728.7 975.0 L763.0 1013.0 M779.0 1025.3 L813.5 1040.5 M829.5 1033.3 L864.0 987.2" stroke="#a8a8ec" stroke-width="1.1" stroke-dasharray="7 6" fill="none" opacity="0.6"/>
<path d="M627.5 984.8 L662.0 983.0 M678.0 979.5 L712.7 966.2 M728.7 967.8 L763.0 988.1 M779.0 991.2 L813.5 984.4 M829.5 982.5 L864.0 981.4" stroke="#a8a8ec" stroke-width="1.1" stroke-dasharray="7 6" fill="none" opacity="0.6"/>
<path d="M627.5 979.2 L662.0 981.7 M678.0 985.4 L712.7 999.2 M728.7 1003.0 L763.0 1005.6 M779.0 1003.7 L813.5 993.1 M829.5 987.5 L864.0 974.0" stroke="#a8a8ec" stroke-width="1.1" stroke-dasharray="7 6" fill="none" opacity="0.6"/>
<path d="M627.5 975.9 L662.0 965.3 M678.0 969.7 L712.7 999.1 M728.7 1011.3 L763.0 1034.6 M779.0 1032.6 L813.5 1000.2 M829.5 989.0 L864.0 973.0" stroke="#a8a8ec" stroke-width="1.1" stroke-dasharray="7 6" fill="none" opacity="0.6"/>
<path d="M627.5 1003.8 L662.0 1005.6 M678.0 1007.2 L712.7 1011.8 M728.7 1007.6 L763.0 984.7 M779.0 984.3 L813.5 1005.5 M829.5 1007.4 L864.0 994.5" stroke="#a8a8ec" stroke-width="1.1" stroke-dasharray="7 6" fill="none" opacity="0.6"/>
<path d="M645.5 1035.4 L680.0 1045.4 M696.0 1047.5 L730.7 1046.2 M746.7 1046.0 L781.0 1046.6 M797.0 1051.0 L831.5 1069.5 M847.5 1067.8 L882.0 1041.9" stroke="#f2a898" stroke-width="1.1" stroke-dasharray="7 6" fill="none" opacity="0.6"/>
<path d="M645.5 1036.9 L680.0 1039.8 M696.0 1042.2 L730.7 1049.6 M746.7 1053.3 L781.0 1061.5 M797.0 1061.9 L831.5 1055.2 M847.5 1054.9 L882.0 1060.2" stroke="#f2a898" stroke-width="1.1" stroke-dasharray="7 6" fill="none" opacity="0.6"/>
<path d="M645.5 1039.4 L680.0 1042.3 M696.0 1043.0 L730.7 1042.7 M746.7 1042.5 L781.0 1041.9 M797.0 1042.5 L831.5 1045.8 M847.5 1045.1 L882.0 1038.4" stroke="#f2a898" stroke-width="1.1" stroke-dasharray="7 6" fill="none" opacity="0.6"/>
<path d="M645.5 1036.9 L680.0 1043.2 M696.0 1044.8 L730.7 1045.6 M746.7 1047.7 L781.0 1055.8 M797.0 1055.4 L831.5 1045.5 M847.5 1042.1 L882.0 1037.4" stroke="#f2a898" stroke-width="1.1" stroke-dasharray="7 6" fill="none" opacity="0.6"/>
<path d="M645.5 1037.9 L680.0 1042.8 M696.0 1044.4 L730.7 1046.4 M746.7 1049.8 L781.0 1062.2 M797.0 1064.4 L831.5 1061.5 M847.5 1052.0 L882.0 1014.0" stroke="#f2a898" stroke-width="1.1" stroke-dasharray="7 6" fill="none" opacity="0.6"/>
<line x1="619.5" y1="962.0" x2="619.5" y2="972.4" stroke="#8f8fd8" stroke-width="1"/>
<line x1="619.5" y1="987.8" x2="619.5" y2="1006.0" stroke="#8f8fd8" stroke-width="1"/>
<rect x="610.9" y="972.4" width="17.2" height="15.4" fill="#6565cc" stroke="#6565cc" stroke-width="0.6"/>
<line x1="610.9" y1="978.0" x2="628.1" y2="978.0" stroke="#5050a0" stroke-width="1"/>
<circle cx="619.5" cy="962.0" r="3.3" fill="none" stroke="#8080d8" stroke-width="1.1" opacity="0.75"/>
<circle cx="619.5" cy="1006.0" r="3.3" fill="none" stroke="#8080d8" stroke-width="1.1" opacity="0.75"/>
<line x1="637.6" y1="1026.0" x2="637.6" y2="1031.9" stroke="#e89a88" stroke-width="1"/>
<line x1="637.6" y1="1040.3" x2="637.6" y2="1043.0" stroke="#e89a88" stroke-width="1"/>
<rect x="629.1" y="1031.9" width="17.0" height="8.4" fill="#dc5035" stroke="#dc5035" stroke-width="0.6"/>
<line x1="629.1" y1="1038.0" x2="646.1" y2="1038.0" stroke="#a04030" stroke-width="1"/>
<circle cx="637.6" cy="1026.0" r="3.3" fill="none" stroke="#ee8a70" stroke-width="1.1" opacity="0.75"/>
<circle cx="637.6" cy="1043.0" r="3.3" fill="none" stroke="#ee8a70" stroke-width="1.1" opacity="0.75"/>
<line x1="670.0" y1="943.0" x2="670.0" y2="960.9" stroke="#8f8fd8" stroke-width="1"/>
<line x1="670.0" y1="996.3" x2="670.0" y2="1019.0" stroke="#8f8fd8" stroke-width="1"/>
<rect x="661.4" y="960.9" width="17.2" height="35.4" fill="#6565cc" stroke="#6565cc" stroke-width="0.6"/>
<line x1="661.4" y1="973.0" x2="678.6" y2="973.0" stroke="#5050a0" stroke-width="1"/>
<circle cx="670.0" cy="943.0" r="3.3" fill="none" stroke="#8080d8" stroke-width="1.1" opacity="0.75"/>
<circle cx="670.0" cy="1019.0" r="3.3" fill="none" stroke="#8080d8" stroke-width="1.1" opacity="0.75"/>
<line x1="688.1" y1="1050.7" x2="688.1" y2="1062.0" stroke="#e89a88" stroke-width="1"/>
<rect x="679.6" y="1040.3" width="17.0" height="10.4" fill="#dc5035" stroke="#dc5035" stroke-width="0.6"/>
<line x1="679.6" y1="1041.0" x2="696.6" y2="1041.0" stroke="#a04030" stroke-width="1"/>
<circle cx="688.1" cy="1062.0" r="3.3" fill="none" stroke="#ee8a70" stroke-width="1.1" opacity="0.75"/>
<line x1="720.7" y1="958.0" x2="720.7" y2="964.3" stroke="#8f8fd8" stroke-width="1"/>
<line x1="720.7" y1="1004.7" x2="720.7" y2="1034.0" stroke="#8f8fd8" stroke-width="1"/>
<rect x="712.1" y="964.3" width="17.2" height="40.4" fill="#6565cc" stroke="#6565cc" stroke-width="0.6"/>
<line x1="712.1" y1="975.0" x2="729.3" y2="975.0" stroke="#5050a0" stroke-width="1"/>
<circle cx="720.7" cy="958.0" r="3.3" fill="none" stroke="#8080d8" stroke-width="1.1" opacity="0.75"/>
<circle cx="720.7" cy="1034.0" r="3.3" fill="none" stroke="#8080d8" stroke-width="1.1" opacity="0.75"/>
<line x1="738.8" y1="1052.1" x2="738.8" y2="1067.0" stroke="#e89a88" stroke-width="1"/>
<rect x="730.3" y="1040.3" width="17.0" height="11.8" fill="#dc5035" stroke="#dc5035" stroke-width="0.6"/>
<line x1="730.3" y1="1046.0" x2="747.3" y2="1046.0" stroke="#a04030" stroke-width="1"/>
<circle cx="738.8" cy="1067.0" r="3.3" fill="none" stroke="#ee8a70" stroke-width="1.1" opacity="0.75"/>
<line x1="771.0" y1="961.0" x2="771.0" y2="978.0" stroke="#8f8fd8" stroke-width="1"/>
<line x1="771.0" y1="1025.4" x2="771.0" y2="1043.0" stroke="#8f8fd8" stroke-width="1"/>
<rect x="762.4" y="978.0" width="17.2" height="47.4" fill="#6565cc" stroke="#6565cc" stroke-width="0.6"/>
<line x1="762.4" y1="985.0" x2="779.6" y2="985.0" stroke="#5050a0" stroke-width="1"/>
<circle cx="771.0" cy="961.0" r="3.3" fill="none" stroke="#8080d8" stroke-width="1.1" opacity="0.75"/>
<circle cx="771.0" cy="1043.0" r="3.3" fill="none" stroke="#8080d8" stroke-width="1.1" opacity="0.75"/>
<line x1="789.1" y1="1058.5" x2="789.1" y2="1067.0" stroke="#e89a88" stroke-width="1"/>
<rect x="780.6" y="1040.3" width="17.0" height="18.2" fill="#dc5035" stroke="#dc5035" stroke-width="0.6"/>
<line x1="780.6" y1="1048.0" x2="797.6" y2="1048.0" stroke="#a04030" stroke-width="1"/>
<circle cx="789.1" cy="1067.0" r="3.3" fill="none" stroke="#ee8a70" stroke-width="1.1" opacity="0.75"/>
<line x1="821.5" y1="970.0" x2="821.5" y2="974.4" stroke="#8f8fd8" stroke-width="1"/>
<line x1="821.5" y1="1029.6" x2="821.5" y2="1051.0" stroke="#8f8fd8" stroke-width="1"/>
<rect x="812.9" y="974.4" width="17.2" height="55.2" fill="#6565cc" stroke="#6565cc" stroke-width="0.6"/>
<line x1="812.9" y1="985.0" x2="830.1" y2="985.0" stroke="#5050a0" stroke-width="1"/>
<circle cx="821.5" cy="970.0" r="3.3" fill="none" stroke="#8080d8" stroke-width="1.1" opacity="0.75"/>
<circle cx="821.5" cy="1051.0" r="3.3" fill="none" stroke="#8080d8" stroke-width="1.1" opacity="0.75"/>
<line x1="839.6" y1="1056.3" x2="839.6" y2="1075.0" stroke="#e89a88" stroke-width="1"/>
<rect x="831.1" y="1040.3" width="17.0" height="16.0" fill="#dc5035" stroke="#dc5035" stroke-width="0.6"/>
<line x1="831.1" y1="1047.0" x2="848.1" y2="1047.0" stroke="#a04030" stroke-width="1"/>
<circle cx="839.6" cy="1075.0" r="3.3" fill="none" stroke="#ee8a70" stroke-width="1.1" opacity="0.75"/>
<line x1="872.0" y1="963.0" x2="872.0" y2="965.4" stroke="#8f8fd8" stroke-width="1"/>
<line x1="872.0" y1="992.6" x2="872.0" y2="1015.0" stroke="#8f8fd8" stroke-width="1"/>
<rect x="863.4" y="965.4" width="17.2" height="27.2" fill="#6565cc" stroke="#6565cc" stroke-width="0.6"/>
<line x1="863.4" y1="978.0" x2="880.6" y2="978.0" stroke="#5050a0" stroke-width="1"/>
<circle cx="872.0" cy="963.0" r="3.3" fill="none" stroke="#8080d8" stroke-width="1.1" opacity="0.75"/>
<circle cx="872.0" cy="1015.0" r="3.3" fill="none" stroke="#8080d8" stroke-width="1.1" opacity="0.75"/>
<line x1="890.1" y1="997.7" x2="890.1" y2="1024.0" stroke="#e89a88" stroke-width="1"/>
<line x1="890.1" y1="1074.0" x2="890.1" y2="1110.0" stroke="#e89a88" stroke-width="1"/>
<rect x="881.6" y="1024.0" width="17.0" height="50.0" fill="#dc5035" stroke="#dc5035" stroke-width="0.6"/>
<line x1="881.6" y1="1040.0" x2="898.6" y2="1040.0" stroke="#a04030" stroke-width="1"/>
<circle cx="890.1" cy="997.7" r="3.3" fill="none" stroke="#ee8a70" stroke-width="1.1" opacity="0.75"/>
<circle cx="890.1" cy="1110.0" r="3.3" fill="none" stroke="#ee8a70" stroke-width="1.1" opacity="0.75"/>
<text transform="translate(546.8 1029.0) rotate(-90)" font-size="21" text-anchor="middle" fill="#000">Proximity</text>
<text transform="translate(572.0 1029.0) rotate(-90)" font-size="21" text-anchor="middle" fill="#000">enrichment</text>
<text x="630.0" y="1133.5" font-size="15.6" text-anchor="middle" fill="#4d4d4d">5</text>
<text x="681.0" y="1133.5" font-size="15.6" text-anchor="middle" fill="#4d4d4d">10</text>
<text x="731.5" y="1133.5" font-size="15.6" text-anchor="middle" fill="#4d4d4d">15</text>
<text x="781.5" y="1133.5" font-size="15.6" text-anchor="middle" fill="#4d4d4d">20</text>
<text x="832.0" y="1133.5" font-size="15.6" text-anchor="middle" fill="#4d4d4d">25</text>
<text x="882.2" y="1133.5" font-size="15.6" text-anchor="middle" fill="#4d4d4d">50</text>
<g stroke="#a0a0e8" stroke-width="1.1" stroke-dasharray="6 5" opacity="0.55" fill="none">
<polyline points="963.0,955.0 1013.0,950.0 1062.0,960.0 1112.0,955.0 1161.0,965.0 1211.0,960.0"/>
<polyline points="963.0,1000.0 1013.0,1030.0 1062.0,1050.0 1112.0,1060.0 1161.0,1040.0"/>
</g>
<g stroke="#f0a090" stroke-width="1.1" stroke-dasharray="6 5" opacity="0.55" fill="none">
<polyline points="982.0,960.0 1031.0,970.0 1081.0,990.0 1130.0,1000.0 1180.0,1020.0 1230.0,1060.0"/>
<polyline points="982.0,1030.0 1031.0,1045.0 1081.0,1060.0 1130.0,1070.0 1180.0,1080.0 1230.0,1110.0"/>
</g>
<line x1="953.0" y1="961.2" x2="1258.0" y2="961.2" stroke="#f2f2f2" stroke-width="1"/>
<line x1="953.0" y1="993.1" x2="1258.0" y2="993.1" stroke="#f2f2f2" stroke-width="1"/>
<line x1="953.0" y1="1025.8" x2="1258.0" y2="1025.8" stroke="#f2f2f2" stroke-width="1"/>
<line x1="953.0" y1="1056.4" x2="1258.0" y2="1056.4" stroke="#f2f2f2" stroke-width="1"/>
<line x1="953.0" y1="1088.8" x2="1258.0" y2="1088.8" stroke="#f2f2f2" stroke-width="1"/>
<line x1="953.0" y1="977.0" x2="1258.0" y2="977.0" stroke="#f8f8f8" stroke-width="1"/>
<line x1="953.0" y1="1009.5" x2="1258.0" y2="1009.5" stroke="#f8f8f8" stroke-width="1"/>
<line x1="953.0" y1="1041.0" x2="1258.0" y2="1041.0" stroke="#f8f8f8" stroke-width="1"/>
<line x1="953.0" y1="1072.6" x2="1258.0" y2="1072.6" stroke="#f8f8f8" stroke-width="1"/>
<line x1="981.3" y1="937.0" x2="981.3" y2="1115.0" stroke="#f5f5f5" stroke-width="1"/>
<line x1="1030.7" y1="937.0" x2="1030.7" y2="1115.0" stroke="#f5f5f5" stroke-width="1"/>
<line x1="1080.3" y1="937.0" x2="1080.3" y2="1115.0" stroke="#f5f5f5" stroke-width="1"/>
<line x1="1129.7" y1="937.0" x2="1129.7" y2="1115.0" stroke="#f5f5f5" stroke-width="1"/>
<line x1="1179.3" y1="937.0" x2="1179.3" y2="1115.0" stroke="#f5f5f5" stroke-width="1"/>
<line x1="1229.0" y1="937.0" x2="1229.0" y2="1115.0" stroke="#f5f5f5" stroke-width="1"/>
<line x1="953.0" y1="1026.3" x2="1258.0" y2="1026.3" stroke="#999" stroke-width="1.1"/>
<text x="952.3" y="966.8" font-size="15.6" text-anchor="end" fill="#4d4d4d">1.0</text>
<text x="952.3" y="998.7" font-size="15.6" text-anchor="end" fill="#4d4d4d">0.5</text>
<text x="952.3" y="1031.4" font-size="15.6" text-anchor="end" fill="#4d4d4d">0.0</text>
<text x="952.3" y="1062.0" font-size="15.6" text-anchor="end" fill="#4d4d4d">-0.5</text>
<text x="952.3" y="1094.4" font-size="15.6" text-anchor="end" fill="#4d4d4d">-1.0</text>
<path d="M980.3 974.1 L1013.7 988.7 M1029.7 989.5 L1063.3 978.1 M1079.3 978.1 L1112.7 989.9 M1128.7 990.7 L1162.3 982.4 M1178.3 979.4 L1212.0 974.9" stroke="#a8a8ec" stroke-width="1.1" stroke-dasharray="7 6" fill="none" opacity="0.6"/>
<path d="M980.3 973.0 L1013.7 980.0 M1029.7 979.6 L1063.3 970.8 M1079.3 976.7 L1112.7 1009.8 M1128.7 1015.6 L1162.3 1006.5 M1178.3 999.9 L1212.0 981.4" stroke="#a8a8ec" stroke-width="1.1" stroke-dasharray="7 6" fill="none" opacity="0.6"/>
<path d="M980.3 971.4 L1013.7 973.5 M1029.7 973.8 L1063.3 972.5 M1079.3 975.5 L1112.7 989.2 M1128.7 991.7 L1162.3 988.4 M1178.3 994.8 L1212.0 1025.2" stroke="#a8a8ec" stroke-width="1.1" stroke-dasharray="7 6" fill="none" opacity="0.6"/>
<path d="M980.3 979.6 L1013.7 1006.5 M1029.7 1007.9 L1063.3 987.0 M1079.3 984.4 L1112.7 993.9 M1128.7 991.2 L1162.3 970.4 M1178.3 970.3 L1212.0 990.5" stroke="#a8a8ec" stroke-width="1.1" stroke-dasharray="7 6" fill="none" opacity="0.6"/>
<path d="M980.3 966.5 L1013.7 1001.2 M1029.7 1005.8 L1063.3 990.3 M1079.3 985.2 L1112.7 979.1 M1128.7 980.6 L1162.3 993.0 M1178.3 992.5 L1212.0 978.2" stroke="#a8a8ec" stroke-width="1.1" stroke-dasharray="7 6" fill="none" opacity="0.6"/>
<path d="M998.3 972.8 L1031.7 966.2 M1047.7 978.4 L1081.3 1036.6 M1097.3 1047.3 L1130.7 1034.1 M1146.7 1029.9 L1180.3 1025.4 M1196.3 1023.1 L1230.0 1017.8" stroke="#f2a898" stroke-width="1.1" stroke-dasharray="7 6" fill="none" opacity="0.6"/>
<path d="M998.3 989.8 L1031.7 999.5 M1047.7 1007.4 L1081.3 1030.6 M1097.3 1027.7 L1130.7 992.5 M1146.7 994.4 L1180.3 1037.9 M1196.3 1045.4 L1230.0 1033.2" stroke="#f2a898" stroke-width="1.1" stroke-dasharray="7 6" fill="none" opacity="0.6"/>
<path d="M998.3 995.3 L1031.7 1015.9 M1047.7 1018.3 L1081.3 1007.3 M1097.3 1008.8 L1130.7 1025.9 M1146.7 1030.8 L1180.3 1034.3 M1196.3 1036.5 L1230.0 1042.6" stroke="#f2a898" stroke-width="1.1" stroke-dasharray="7 6" fill="none" opacity="0.6"/>
<path d="M998.3 1021.5 L1031.7 1038.2 M1047.7 1037.4 L1081.3 1017.4 M1097.3 1014.8 L1130.7 1023.6 M1146.7 1026.3 L1180.3 1028.4 M1196.3 1029.5 L1230.0 1032.2" stroke="#f2a898" stroke-width="1.1" stroke-dasharray="7 6" fill="none" opacity="0.6"/>
<path d="M998.3 987.0 L1031.7 1018.2 M1047.7 1025.6 L1081.3 1025.2 M1097.3 1026.7 L1130.7 1033.3 M1146.7 1035.4 L1180.3 1037.8 M1196.3 1033.6 L1230.0 1013.4" stroke="#f2a898" stroke-width="1.1" stroke-dasharray="7 6" fill="none" opacity="0.6"/>
<line x1="972.3" y1="955.0" x2="972.3" y2="970.2" stroke="#8f8fd8" stroke-width="1"/>
<line x1="972.3" y1="975.3" x2="972.3" y2="982.0" stroke="#8f8fd8" stroke-width="1"/>
<rect x="963.7" y="970.2" width="17.2" height="5.1" fill="#6565cc" stroke="#6565cc" stroke-width="0.6"/>
<line x1="963.7" y1="972.0" x2="980.9" y2="972.0" stroke="#5050a0" stroke-width="1"/>
<circle cx="972.3" cy="955.0" r="3.3" fill="none" stroke="#8080d8" stroke-width="1.1" opacity="0.75"/>
<circle cx="972.3" cy="982.0" r="3.3" fill="none" stroke="#8080d8" stroke-width="1.1" opacity="0.75"/>
<line x1="990.4" y1="945.0" x2="990.4" y2="965.6" stroke="#e89a88" stroke-width="1"/>
<line x1="990.4" y1="1026.8" x2="990.4" y2="1028.0" stroke="#e89a88" stroke-width="1"/>
<rect x="981.9" y="965.6" width="17.0" height="61.2" fill="#dc5035" stroke="#dc5035" stroke-width="0.6"/>
<line x1="981.9" y1="981.0" x2="998.9" y2="981.0" stroke="#a04030" stroke-width="1"/>
<circle cx="990.4" cy="945.0" r="3.3" fill="none" stroke="#ee8a70" stroke-width="1.1" opacity="0.75"/>
<circle cx="990.4" cy="1028.0" r="3.3" fill="none" stroke="#ee8a70" stroke-width="1.1" opacity="0.75"/>
<line x1="1021.7" y1="943.0" x2="1021.7" y2="972.7" stroke="#8f8fd8" stroke-width="1"/>
<line x1="1021.7" y1="1012.2" x2="1021.7" y2="1050.0" stroke="#8f8fd8" stroke-width="1"/>
<rect x="1013.1" y="972.7" width="17.2" height="39.5" fill="#6565cc" stroke="#6565cc" stroke-width="0.6"/>
<line x1="1013.1" y1="984.0" x2="1030.3" y2="984.0" stroke="#5050a0" stroke-width="1"/>
<circle cx="1021.7" cy="943.0" r="3.3" fill="none" stroke="#8080d8" stroke-width="1.1" opacity="0.75"/>
<circle cx="1021.7" cy="1050.0" r="3.3" fill="none" stroke="#8080d8" stroke-width="1.1" opacity="0.75"/>
<line x1="1039.8" y1="963.0" x2="1039.8" y2="991.3" stroke="#e89a88" stroke-width="1"/>
<line x1="1039.8" y1="1026.8" x2="1039.8" y2="1048.0" stroke="#e89a88" stroke-width="1"/>
<rect x="1031.3" y="991.3" width="17.0" height="35.5" fill="#dc5035" stroke="#dc5035" stroke-width="0.6"/>
<line x1="1031.3" y1="1008.0" x2="1048.3" y2="1008.0" stroke="#a04030" stroke-width="1"/>
<circle cx="1039.8" cy="963.0" r="3.3" fill="none" stroke="#ee8a70" stroke-width="1.1" opacity="0.75"/>
<circle cx="1039.8" cy="1048.0" r="3.3" fill="none" stroke="#ee8a70" stroke-width="1.1" opacity="0.75"/>
<line x1="1071.3" y1="947.0" x2="1071.3" y2="968.1" stroke="#8f8fd8" stroke-width="1"/>
<line x1="1071.3" y1="1000.0" x2="1071.3" y2="1003.0" stroke="#8f8fd8" stroke-width="1"/>
<rect x="1062.7" y="968.1" width="17.2" height="31.9" fill="#6565cc" stroke="#6565cc" stroke-width="0.6"/>
<line x1="1062.7" y1="983.0" x2="1079.9" y2="983.0" stroke="#5050a0" stroke-width="1"/>
<circle cx="1071.3" cy="947.0" r="3.3" fill="none" stroke="#8080d8" stroke-width="1.1" opacity="0.75"/>
<circle cx="1071.3" cy="1003.0" r="3.3" fill="none" stroke="#8080d8" stroke-width="1.1" opacity="0.75"/>
<line x1="1089.4" y1="960.0" x2="1089.4" y2="1008.0" stroke="#e89a88" stroke-width="1"/>
<line x1="1089.4" y1="1048.5" x2="1089.4" y2="1063.0" stroke="#e89a88" stroke-width="1"/>
<rect x="1080.9" y="1008.0" width="17.0" height="40.5" fill="#dc5035" stroke="#dc5035" stroke-width="0.6"/>
<line x1="1080.9" y1="1030.0" x2="1097.9" y2="1030.0" stroke="#a04030" stroke-width="1"/>
<circle cx="1089.4" cy="960.0" r="3.3" fill="none" stroke="#ee8a70" stroke-width="1.1" opacity="0.75"/>
<circle cx="1089.4" cy="1063.0" r="3.3" fill="none" stroke="#ee8a70" stroke-width="1.1" opacity="0.75"/>
<line x1="1120.7" y1="955.0" x2="1120.7" y2="963.0" stroke="#8f8fd8" stroke-width="1"/>
<line x1="1120.7" y1="1005.4" x2="1120.7" y2="1057.0" stroke="#8f8fd8" stroke-width="1"/>
<rect x="1112.1" y="963.0" width="17.2" height="42.4" fill="#6565cc" stroke="#6565cc" stroke-width="0.6"/>
<line x1="1112.1" y1="974.0" x2="1129.3" y2="974.0" stroke="#5050a0" stroke-width="1"/>
<circle cx="1120.7" cy="955.0" r="3.3" fill="none" stroke="#8080d8" stroke-width="1.1" opacity="0.75"/>
<circle cx="1120.7" cy="1057.0" r="3.3" fill="none" stroke="#8080d8" stroke-width="1.1" opacity="0.75"/>
<line x1="1138.8" y1="959.0" x2="1138.8" y2="1013.5" stroke="#e89a88" stroke-width="1"/>
<line x1="1138.8" y1="1050.5" x2="1138.8" y2="1061.0" stroke="#e89a88" stroke-width="1"/>
<rect x="1130.3" y="1013.5" width="17.0" height="37.0" fill="#dc5035" stroke="#dc5035" stroke-width="0.6"/>
<line x1="1130.3" y1="1028.0" x2="1147.3" y2="1028.0" stroke="#a04030" stroke-width="1"/>
<circle cx="1138.8" cy="959.0" r="3.3" fill="none" stroke="#ee8a70" stroke-width="1.1" opacity="0.75"/>
<circle cx="1138.8" cy="1061.0" r="3.3" fill="none" stroke="#ee8a70" stroke-width="1.1" opacity="0.75"/>
<line x1="1170.3" y1="963.0" x2="1170.3" y2="969.6" stroke="#8f8fd8" stroke-width="1"/>
<line x1="1170.3" y1="1007.1" x2="1170.3" y2="1017.0" stroke="#8f8fd8" stroke-width="1"/>
<rect x="1161.7" y="969.6" width="17.2" height="37.5" fill="#6565cc" stroke="#6565cc" stroke-width="0.6"/>
<line x1="1161.7" y1="978.0" x2="1178.9" y2="978.0" stroke="#5050a0" stroke-width="1"/>
<circle cx="1170.3" cy="963.0" r="3.3" fill="none" stroke="#8080d8" stroke-width="1.1" opacity="0.75"/>
<circle cx="1170.3" cy="1017.0" r="3.3" fill="none" stroke="#8080d8" stroke-width="1.1" opacity="0.75"/>
<line x1="1188.4" y1="988.0" x2="1188.4" y2="1016.6" stroke="#e89a88" stroke-width="1"/>
<line x1="1188.4" y1="1054.3" x2="1188.4" y2="1083.0" stroke="#e89a88" stroke-width="1"/>
<rect x="1179.9" y="1016.6" width="17.0" height="37.7" fill="#dc5035" stroke="#dc5035" stroke-width="0.6"/>
<line x1="1179.9" y1="1033.0" x2="1196.9" y2="1033.0" stroke="#a04030" stroke-width="1"/>
<circle cx="1188.4" cy="988.0" r="3.3" fill="none" stroke="#ee8a70" stroke-width="1.1" opacity="0.75"/>
<circle cx="1188.4" cy="1083.0" r="3.3" fill="none" stroke="#ee8a70" stroke-width="1.1" opacity="0.75"/>
<line x1="1220.0" y1="962.0" x2="1220.0" y2="963.8" stroke="#8f8fd8" stroke-width="1"/>
<line x1="1220.0" y1="998.7" x2="1220.0" y2="1051.0" stroke="#8f8fd8" stroke-width="1"/>
<rect x="1211.4" y="963.8" width="17.2" height="34.9" fill="#6565cc" stroke="#6565cc" stroke-width="0.6"/>
<line x1="1211.4" y1="970.0" x2="1228.6" y2="970.0" stroke="#5050a0" stroke-width="1"/>
<circle cx="1220.0" cy="962.0" r="3.3" fill="none" stroke="#8080d8" stroke-width="1.1" opacity="0.75"/>
<circle cx="1220.0" cy="1051.0" r="3.3" fill="none" stroke="#8080d8" stroke-width="1.1" opacity="0.75"/>
<line x1="1238.1" y1="977.0" x2="1238.1" y2="1005.4" stroke="#e89a88" stroke-width="1"/>
<line x1="1238.1" y1="1050.0" x2="1238.1" y2="1110.0" stroke="#e89a88" stroke-width="1"/>
<rect x="1229.6" y="1005.4" width="17.0" height="44.6" fill="#dc5035" stroke="#dc5035" stroke-width="0.6"/>
<line x1="1229.6" y1="1021.0" x2="1246.6" y2="1021.0" stroke="#a04030" stroke-width="1"/>
<circle cx="1238.1" cy="977.0" r="3.3" fill="none" stroke="#ee8a70" stroke-width="1.1" opacity="0.75"/>
<circle cx="1238.1" cy="1110.0" r="3.3" fill="none" stroke="#ee8a70" stroke-width="1.1" opacity="0.75"/>
<text x="983.4" y="1132.6" font-size="15.6" text-anchor="middle" fill="#4d4d4d">5</text>
<text x="1032.7" y="1132.6" font-size="15.6" text-anchor="middle" fill="#4d4d4d">10</text>
<text x="1081.9" y="1132.6" font-size="15.6" text-anchor="middle" fill="#4d4d4d">15</text>
<text x="1130.9" y="1132.6" font-size="15.6" text-anchor="middle" fill="#4d4d4d">20</text>
<text x="1180.6" y="1132.6" font-size="15.6" text-anchor="middle" fill="#4d4d4d">25</text>
<text x="1230.4" y="1132.6" font-size="15.6" text-anchor="middle" fill="#4d4d4d">50</text>
<g stroke="#a0a0e8" stroke-width="1.1" stroke-dasharray="6 5" opacity="0.55" fill="none">
<polyline points="1400.0,1050.0 1450.0,1020.0 1500.0,990.0 1560.0,960.0"/>
<polyline points="1400.0,1080.0 1450.0,1050.0 1500.0,1030.0 1560.0,1010.0"/>
</g>
<g stroke="#f0a090" stroke-width="1.1" stroke-dasharray="6 5" opacity="0.55" fill="none">
<polyline points="1440.0,1060.0 1480.0,1040.0 1540.0,1030.0 1580.0,1060.0"/>
<polyline points="1440.0,1100.0 1500.0,1110.0 1580.0,1105.0"/>
</g>
<line x1="1292.0" y1="968.4" x2="1606.0" y2="968.4" stroke="#f2f2f2" stroke-width="1"/>
<line x1="1292.0" y1="1021.2" x2="1606.0" y2="1021.2" stroke="#f2f2f2" stroke-width="1"/>
<line x1="1292.0" y1="1074.7" x2="1606.0" y2="1074.7" stroke="#f2f2f2" stroke-width="1"/>
<line x1="1292.0" y1="995.0" x2="1606.0" y2="995.0" stroke="#f8f8f8" stroke-width="1"/>
<line x1="1292.0" y1="1048.0" x2="1606.0" y2="1048.0" stroke="#f8f8f8" stroke-width="1"/>
<line x1="1292.0" y1="1101.0" x2="1606.0" y2="1101.0" stroke="#f8f8f8" stroke-width="1"/>
<line x1="1323.0" y1="937.0" x2="1323.0" y2="1115.0" stroke="#f5f5f5" stroke-width="1"/>
<line x1="1373.5" y1="937.0" x2="1373.5" y2="1115.0" stroke="#f5f5f5" stroke-width="1"/>
<line x1="1424.0" y1="937.0" x2="1424.0" y2="1115.0" stroke="#f5f5f5" stroke-width="1"/>
<line x1="1474.5" y1="937.0" x2="1474.5" y2="1115.0" stroke="#f5f5f5" stroke-width="1"/>
<line x1="1524.7" y1="937.0" x2="1524.7" y2="1115.0" stroke="#f5f5f5" stroke-width="1"/>
<line x1="1575.0" y1="937.0" x2="1575.0" y2="1115.0" stroke="#f5f5f5" stroke-width="1"/>
<line x1="1292.0" y1="1075.8" x2="1606.0" y2="1075.8" stroke="#999" stroke-width="1.1"/>
<text x="1286.8" y="974.0" font-size="15.6" text-anchor="end" fill="#4d4d4d">2</text>
<text x="1286.8" y="1026.8" font-size="15.6" text-anchor="end" fill="#4d4d4d">1</text>
<text x="1286.8" y="1080.3" font-size="15.6" text-anchor="end" fill="#4d4d4d">0</text>
<path d="M1322.0 1074.6 L1356.5 1074.8 M1372.5 1073.4 L1407.0 1066.7 M1423.0 1060.6 L1457.5 1041.0 M1473.5 1031.6 L1507.7 1010.8 M1523.7 1006.4 L1558.0 1008.4" stroke="#a8a8ec" stroke-width="1.1" stroke-dasharray="7 6" fill="none" opacity="0.6"/>
<path d="M1322.0 1075.7 L1356.5 1074.8 M1372.5 1076.3 L1407.0 1083.7 M1423.0 1083.0 L1457.5 1072.4 M1473.5 1059.0 L1507.7 1012.2 M1523.7 1000.2 L1558.0 995.5" stroke="#a8a8ec" stroke-width="1.1" stroke-dasharray="7 6" fill="none" opacity="0.6"/>
<path d="M1322.0 1075.9 L1356.5 1076.2 M1372.5 1067.8 L1407.0 1031.3 M1423.0 1025.7 L1457.5 1037.9 M1473.5 1038.3 L1507.7 1027.8 M1523.7 1020.8 L1558.0 1001.0" stroke="#a8a8ec" stroke-width="1.1" stroke-dasharray="7 6" fill="none" opacity="0.6"/>
<path d="M1322.0 1076.4 L1356.5 1075.8 M1372.5 1077.4 L1407.0 1085.4 M1423.0 1079.5 L1457.5 1046.3 M1473.5 1036.2 L1507.7 1026.1 M1523.7 1018.3 L1558.0 994.9" stroke="#a8a8ec" stroke-width="1.1" stroke-dasharray="7 6" fill="none" opacity="0.6"/>
<path d="M1322.0 1075.4 L1356.5 1076.2 M1372.5 1072.0 L1407.0 1053.1 M1423.0 1047.8 L1457.5 1044.1 M1473.5 1040.8 L1507.7 1030.5 M1523.7 1022.6 L1558.0 999.4" stroke="#a8a8ec" stroke-width="1.1" stroke-dasharray="7 6" fill="none" opacity="0.6"/>
<path d="M1340.0 1075.9 L1374.5 1076.5 M1390.5 1076.6 L1425.0 1076.2 M1441.0 1076.0 L1475.5 1075.5 M1491.5 1075.8 L1525.7 1077.2 M1541.7 1077.4 L1576.0 1076.9" stroke="#f2a898" stroke-width="1.1" stroke-dasharray="7 6" fill="none" opacity="0.6"/>
<path d="M1340.0 1076.2 L1374.5 1075.1 M1390.5 1075.1 L1425.0 1076.2 M1441.0 1076.2 L1475.5 1075.0 M1491.5 1074.5 L1525.7 1073.6 M1541.7 1074.3 L1576.0 1078.1" stroke="#f2a898" stroke-width="1.1" stroke-dasharray="7 6" fill="none" opacity="0.6"/>
<path d="M1340.0 1076.8 L1374.5 1076.5 M1390.5 1076.4 L1425.0 1076.7 M1441.0 1076.5 L1475.5 1075.4 M1491.5 1070.5 L1525.7 1050.7 M1541.7 1051.8 L1576.0 1076.3" stroke="#f2a898" stroke-width="1.1" stroke-dasharray="7 6" fill="none" opacity="0.6"/>
<path d="M1340.0 1075.5 L1374.5 1076.2 M1390.5 1076.2 L1425.0 1075.5 M1441.0 1075.6 L1475.5 1076.7 M1491.5 1073.6 L1525.7 1059.0 M1541.7 1058.8 L1576.0 1072.4" stroke="#f2a898" stroke-width="1.1" stroke-dasharray="7 6" fill="none" opacity="0.6"/>
<path d="M1340.0 1075.8 L1374.5 1075.0 M1390.5 1075.1 L1425.0 1076.3 M1441.0 1076.4 L1475.5 1075.3 M1491.5 1073.7 L1525.7 1067.9 M1541.7 1067.9 L1576.0 1073.6" stroke="#f2a898" stroke-width="1.1" stroke-dasharray="7 6" fill="none" opacity="0.6"/>
<rect x="1305.4" y="1074.5" width="17.2" height="2.5" fill="#6565cc" stroke="#6565cc" stroke-width="0.6"/>
<rect x="1323.6" y="1074.5" width="17.0" height="2.5" fill="#dc5035" stroke="#dc5035" stroke-width="0.6"/>
<rect x="1355.9" y="1074.5" width="17.2" height="2.5" fill="#6565cc" stroke="#6565cc" stroke-width="0.6"/>
<rect x="1374.1" y="1074.5" width="17.0" height="2.5" fill="#dc5035" stroke="#dc5035" stroke-width="0.6"/>
<line x1="1415.0" y1="1022.0" x2="1415.0" y2="1048.7" stroke="#8f8fd8" stroke-width="1"/>
<line x1="1415.0" y1="1090.8" x2="1415.0" y2="1098.0" stroke="#8f8fd8" stroke-width="1"/>
<rect x="1406.4" y="1048.7" width="17.2" height="42.1" fill="#6565cc" stroke="#6565cc" stroke-width="0.6"/>
<line x1="1406.4" y1="1070.0" x2="1423.6" y2="1070.0" stroke="#5050a0" stroke-width="1"/>
<circle cx="1415.0" cy="1022.0" r="3.3" fill="none" stroke="#8080d8" stroke-width="1.1" opacity="0.75"/>
<circle cx="1415.0" cy="1098.0" r="3.3" fill="none" stroke="#8080d8" stroke-width="1.1" opacity="0.75"/>
<rect x="1424.6" y="1074.5" width="17.0" height="2.5" fill="#dc5035" stroke="#dc5035" stroke-width="0.6"/>
<line x1="1465.5" y1="986.0" x2="1465.5" y2="1026.0" stroke="#8f8fd8" stroke-width="1"/>
<line x1="1465.5" y1="1056.9" x2="1465.5" y2="1077.0" stroke="#8f8fd8" stroke-width="1"/>
<rect x="1456.9" y="1026.0" width="17.2" height="30.9" fill="#6565cc" stroke="#6565cc" stroke-width="0.6"/>
<line x1="1456.9" y1="1040.0" x2="1474.1" y2="1040.0" stroke="#5050a0" stroke-width="1"/>
<circle cx="1465.5" cy="986.0" r="3.3" fill="none" stroke="#8080d8" stroke-width="1.1" opacity="0.75"/>
<circle cx="1465.5" cy="1077.0" r="3.3" fill="none" stroke="#8080d8" stroke-width="1.1" opacity="0.75"/>
<rect x="1475.1" y="1074.5" width="17.0" height="2.5" fill="#dc5035" stroke="#dc5035" stroke-width="0.6"/>
<line x1="1515.7" y1="966.0" x2="1515.7" y2="997.0" stroke="#8f8fd8" stroke-width="1"/>
<line x1="1515.7" y1="1029.3" x2="1515.7" y2="1063.0" stroke="#8f8fd8" stroke-width="1"/>
<rect x="1507.1" y="997.0" width="17.2" height="32.3" fill="#6565cc" stroke="#6565cc" stroke-width="0.6"/>
<line x1="1507.1" y1="1017.3" x2="1524.3" y2="1017.3" stroke="#5050a0" stroke-width="1"/>
<circle cx="1515.7" cy="966.0" r="3.3" fill="none" stroke="#8080d8" stroke-width="1.1" opacity="0.75"/>
<circle cx="1515.7" cy="1063.0" r="3.3" fill="none" stroke="#8080d8" stroke-width="1.1" opacity="0.75"/>
<line x1="1533.8" y1="1027.0" x2="1533.8" y2="1052.0" stroke="#e89a88" stroke-width="1"/>
<line x1="1533.8" y1="1076.0" x2="1533.8" y2="1084.0" stroke="#e89a88" stroke-width="1"/>
<rect x="1525.3" y="1052.0" width="17.0" height="24.0" fill="#dc5035" stroke="#dc5035" stroke-width="0.6"/>
<line x1="1525.3" y1="1060.0" x2="1542.3" y2="1060.0" stroke="#a04030" stroke-width="1"/>
<circle cx="1533.8" cy="1027.0" r="3.3" fill="none" stroke="#ee8a70" stroke-width="1.1" opacity="0.75"/>
<circle cx="1533.8" cy="1084.0" r="3.3" fill="none" stroke="#ee8a70" stroke-width="1.1" opacity="0.75"/>
<line x1="1566.0" y1="942.0" x2="1566.0" y2="984.2" stroke="#8f8fd8" stroke-width="1"/>
<line x1="1566.0" y1="1023.7" x2="1566.0" y2="1060.0" stroke="#8f8fd8" stroke-width="1"/>
<rect x="1557.4" y="984.2" width="17.2" height="39.5" fill="#6565cc" stroke="#6565cc" stroke-width="0.6"/>
<line x1="1557.4" y1="1003.3" x2="1574.6" y2="1003.3" stroke="#5050a0" stroke-width="1"/>
<circle cx="1566.0" cy="942.0" r="3.3" fill="none" stroke="#8080d8" stroke-width="1.1" opacity="0.75"/>
<circle cx="1566.0" cy="1060.0" r="3.3" fill="none" stroke="#8080d8" stroke-width="1.1" opacity="0.75"/>
<line x1="1584.1" y1="1062.0" x2="1584.1" y2="1069.1" stroke="#e89a88" stroke-width="1"/>
<line x1="1584.1" y1="1081.6" x2="1584.1" y2="1087.0" stroke="#e89a88" stroke-width="1"/>
<rect x="1575.6" y="1069.1" width="17.0" height="12.5" fill="#dc5035" stroke="#dc5035" stroke-width="0.6"/>
<line x1="1575.6" y1="1075.0" x2="1592.6" y2="1075.0" stroke="#a04030" stroke-width="1"/>
<circle cx="1584.1" cy="1062.0" r="3.3" fill="none" stroke="#ee8a70" stroke-width="1.1" opacity="0.75"/>
<circle cx="1584.1" cy="1087.0" r="3.3" fill="none" stroke="#ee8a70" stroke-width="1.1" opacity="0.75"/>
<text x="1324.3" y="1132.6" font-size="15.6" text-anchor="middle" fill="#4d4d4d">5</text>
<text x="1374.8" y="1132.6" font-size="15.6" text-anchor="middle" fill="#4d4d4d">10</text>
<text x="1425.8" y="1132.6" font-size="15.6" text-anchor="middle" fill="#4d4d4d">15</text>
<text x="1475.6" y="1132.6" font-size="15.6" text-anchor="middle" fill="#4d4d4d">20</text>
<text x="1526.6" y="1132.6" font-size="15.6" text-anchor="middle" fill="#4d4d4d">25</text>
<text x="1577.0" y="1132.6" font-size="15.6" text-anchor="middle" fill="#4d4d4d">50</text>
<text x="949.7" y="1173.0" font-size="22.3" text-anchor="start" fill="#000">Distance threshold (µm)</text>
<text x="834.2" y="1286.0" font-size="46.5" text-anchor="start" fill="#000">E</text>
<text x="968.8" y="1287.0" font-size="20.5" text-anchor="start" fill="#000">Responders</text>
<line x1="948.2" y1="1298.9" x2="1087.8" y2="1298.9" stroke="#222" stroke-width="1.6"/>
<line x1="948.2" y1="1294.9" x2="948.2" y2="1302.9" stroke="#222" stroke-width="1.6"/>
<line x1="1087.8" y1="1294.9" x2="1087.8" y2="1302.9" stroke="#222" stroke-width="1.6"/>
<line x1="978.0" y1="1336.5" x2="1092.0" y2="1336.5" stroke="#ededed" stroke-width="1"/>
<line x1="978.0" y1="1418.5" x2="1092.0" y2="1418.5" stroke="#ededed" stroke-width="1"/>
<line x1="978.0" y1="1500.0" x2="1092.0" y2="1500.0" stroke="#ededed" stroke-width="1"/>
<line x1="978.0" y1="1377.5" x2="1092.0" y2="1377.5" stroke="#f6f6f6" stroke-width="1"/>
<line x1="978.0" y1="1459.0" x2="1092.0" y2="1459.0" stroke="#f6f6f6" stroke-width="1"/>
<line x1="1000.8" y1="1322.0" x2="1000.8" y2="1515.0" stroke="#eeeeee" stroke-width="1"/>
<line x1="1035.8" y1="1322.0" x2="1035.8" y2="1515.0" stroke="#eeeeee" stroke-width="1"/>
<line x1="1070.6" y1="1322.0" x2="1070.6" y2="1515.0" stroke="#eeeeee" stroke-width="1"/>
<text x="970.2" y="1341.7" font-size="15.5" text-anchor="end" fill="#4d4d4d">100</text>
<text x="970.2" y="1423.9" font-size="15.5" text-anchor="end" fill="#4d4d4d">10</text>
<text x="970.2" y="1505.3" font-size="15.5" text-anchor="end" fill="#4d4d4d">1</text>
<line x1="1001.0" y1="1404.5" x2="1001.0" y2="1430.3" stroke="#444" stroke-width="1"/>
<line x1="1001.0" y1="1455.7" x2="1001.0" y2="1483.0" stroke="#444" stroke-width="1"/>
<rect x="992.2" y="1430.3" width="17.6" height="25.4" fill="#6565cc" stroke="#333" stroke-width="0.8"/>
<line x1="992.2" y1="1443.7" x2="1009.8" y2="1443.7" stroke="#222" stroke-width="1.6"/>
<line x1="1036.0" y1="1486.0" x2="1036.0" y2="1495.0" stroke="#444" stroke-width="1"/>
<rect x="1027.2" y="1466.3" width="17.6" height="19.7" fill="#6565cc" stroke="#333" stroke-width="0.8"/>
<line x1="1027.2" y1="1469.1" x2="1044.8" y2="1469.1" stroke="#222" stroke-width="1.6"/>
<line x1="1070.6" y1="1370.6" x2="1070.6" y2="1392.2" stroke="#444" stroke-width="1"/>
<line x1="1070.6" y1="1496.5" x2="1070.6" y2="1499.0" stroke="#444" stroke-width="1"/>
<rect x="1061.6" y="1392.2" width="18.0" height="104.3" fill="#6565cc" stroke="#333" stroke-width="0.8"/>
<line x1="1061.6" y1="1444.7" x2="1079.6" y2="1444.7" stroke="#222" stroke-width="1.6"/>
<circle cx="1001.0" cy="1404.5" r="6.2" fill="#888" fill-opacity="0.25" stroke="#888" stroke-width="2.4" opacity="0.45"/>
<circle cx="1001.0" cy="1427.0" r="6.2" fill="#888" fill-opacity="0.25" stroke="#888" stroke-width="2.4" opacity="0.45"/>
<circle cx="1001.0" cy="1451.0" r="6.2" fill="#888" fill-opacity="0.25" stroke="#888" stroke-width="2.4" opacity="0.45"/>
<circle cx="1001.0" cy="1483.0" r="6.2" fill="#888" fill-opacity="0.25" stroke="#888" stroke-width="2.4" opacity="0.45"/>
<circle cx="1036.0" cy="1414.0" r="6.2" fill="#888" fill-opacity="0.25" stroke="#888" stroke-width="2.4" opacity="0.45"/>
<circle cx="1036.0" cy="1466.0" r="6.2" fill="#888" fill-opacity="0.25" stroke="#888" stroke-width="2.4" opacity="0.45"/>
<circle cx="1036.0" cy="1469.0" r="6.2" fill="#888" fill-opacity="0.25" stroke="#888" stroke-width="2.4" opacity="0.45"/>
<circle cx="1036.0" cy="1493.0" r="6.2" fill="#888" fill-opacity="0.25" stroke="#888" stroke-width="2.4" opacity="0.45"/>
<circle cx="1070.6" cy="1370.6" r="6.2" fill="#888" fill-opacity="0.25" stroke="#888" stroke-width="2.4" opacity="0.45"/>
<circle cx="1070.6" cy="1389.0" r="6.2" fill="#888" fill-opacity="0.25" stroke="#888" stroke-width="2.4" opacity="0.45"/>
<circle cx="1070.6" cy="1396.0" r="6.2" fill="#888" fill-opacity="0.25" stroke="#888" stroke-width="2.4" opacity="0.45"/>
<circle cx="1070.6" cy="1491.0" r="6.2" fill="#888" fill-opacity="0.25" stroke="#888" stroke-width="2.4" opacity="0.45"/>
<circle cx="1070.6" cy="1499.0" r="6.2" fill="#888" fill-opacity="0.25" stroke="#888" stroke-width="2.4" opacity="0.45"/>
<text transform="translate(932.7 1519.0) rotate(-90)" font-size="21">Contact density <tspan font-size="13.5">(50 µm)</tspan></text>
<line x1="978.0" y1="1565.5" x2="1092.0" y2="1565.5" stroke="#ededed" stroke-width="1"/>
<line x1="978.0" y1="1666.5" x2="1092.0" y2="1666.5" stroke="#ededed" stroke-width="1"/>
<line x1="978.0" y1="1540.0" x2="1092.0" y2="1540.0" stroke="#f6f6f6" stroke-width="1"/>
<line x1="978.0" y1="1590.5" x2="1092.0" y2="1590.5" stroke="#f6f6f6" stroke-width="1"/>
<line x1="978.0" y1="1641.0" x2="1092.0" y2="1641.0" stroke="#f6f6f6" stroke-width="1"/>
<line x1="978.0" y1="1691.0" x2="1092.0" y2="1691.0" stroke="#f6f6f6" stroke-width="1"/>
<line x1="1000.8" y1="1535.0" x2="1000.8" y2="1708.0" stroke="#eeeeee" stroke-width="1"/>
<line x1="1035.8" y1="1535.0" x2="1035.8" y2="1708.0" stroke="#eeeeee" stroke-width="1"/>
<line x1="1070.6" y1="1535.0" x2="1070.6" y2="1708.0" stroke="#eeeeee" stroke-width="1"/>
<line x1="977.8" y1="1615.4" x2="1091.7" y2="1615.4" stroke="#999" stroke-width="1.2"/>
<text x="967.3" y="1570.5" font-size="15.5" text-anchor="end" fill="#4d4d4d">2.5</text>
<text x="967.3" y="1621.2" font-size="15.5" text-anchor="end" fill="#4d4d4d">0.0</text>
<text x="967.3" y="1671.9" font-size="15.5" text-anchor="end" fill="#4d4d4d">−2.5</text>
<line x1="999.3" y1="1570.0" x2="999.3" y2="1587.0" stroke="#444" stroke-width="1"/>
<line x1="999.3" y1="1610.6" x2="999.3" y2="1615.0" stroke="#444" stroke-width="1"/>
<rect x="990.3" y="1587.0" width="18.1" height="23.6" fill="#6565cc" stroke="#333" stroke-width="0.8"/>
<line x1="990.3" y1="1598.5" x2="1008.4" y2="1598.5" stroke="#222" stroke-width="1.6"/>
<line x1="1035.0" y1="1582.0" x2="1035.0" y2="1610.4" stroke="#444" stroke-width="1"/>
<line x1="1035.0" y1="1632.4" x2="1035.0" y2="1645.0" stroke="#444" stroke-width="1"/>
<rect x="1026.2" y="1610.4" width="17.6" height="22.0" fill="#6565cc" stroke="#333" stroke-width="0.8"/>
<line x1="1026.2" y1="1615.7" x2="1043.8" y2="1615.7" stroke="#222" stroke-width="1.6"/>
<line x1="1070.5" y1="1616.0" x2="1070.5" y2="1628.2" stroke="#444" stroke-width="1"/>
<line x1="1070.5" y1="1654.2" x2="1070.5" y2="1670.0" stroke="#444" stroke-width="1"/>
<rect x="1061.4" y="1628.2" width="18.2" height="26.0" fill="#6565cc" stroke="#333" stroke-width="0.8"/>
<line x1="1061.4" y1="1639.3" x2="1079.6" y2="1639.3" stroke="#222" stroke-width="1.6"/>
<circle cx="1000.0" cy="1570.0" r="6.2" fill="#888" fill-opacity="0.25" stroke="#888" stroke-width="2.4" opacity="0.45"/>
<circle cx="1000.0" cy="1584.0" r="6.2" fill="#888" fill-opacity="0.25" stroke="#888" stroke-width="2.4" opacity="0.45"/>
<circle cx="1000.0" cy="1611.0" r="6.2" fill="#888" fill-opacity="0.25" stroke="#888" stroke-width="2.4" opacity="0.45"/>
<circle cx="1000.0" cy="1615.0" r="6.2" fill="#888" fill-opacity="0.25" stroke="#888" stroke-width="2.4" opacity="0.45"/>
<circle cx="1035.0" cy="1582.0" r="6.2" fill="#888" fill-opacity="0.25" stroke="#888" stroke-width="2.4" opacity="0.45"/>
<circle cx="1035.0" cy="1608.0" r="6.2" fill="#888" fill-opacity="0.25" stroke="#888" stroke-width="2.4" opacity="0.45"/>
<circle cx="1035.0" cy="1640.0" r="6.2" fill="#888" fill-opacity="0.25" stroke="#888" stroke-width="2.4" opacity="0.45"/>
<circle cx="1035.0" cy="1645.0" r="6.2" fill="#888" fill-opacity="0.25" stroke="#888" stroke-width="2.4" opacity="0.45"/>
<circle cx="1070.0" cy="1616.0" r="6.2" fill="#888" fill-opacity="0.25" stroke="#888" stroke-width="2.4" opacity="0.45"/>
<circle cx="1070.0" cy="1623.0" r="6.2" fill="#888" fill-opacity="0.25" stroke="#888" stroke-width="2.4" opacity="0.45"/>
<circle cx="1070.0" cy="1656.0" r="6.2" fill="#888" fill-opacity="0.25" stroke="#888" stroke-width="2.4" opacity="0.45"/>
<circle cx="1070.0" cy="1670.0" r="6.2" fill="#888" fill-opacity="0.25" stroke="#888" stroke-width="2.4" opacity="0.45"/>
<text transform="translate(895.4 1624.0) rotate(-90)" font-size="21" text-anchor="middle" fill="#000">Proximity</text>
<text transform="translate(921.2 1624.0) rotate(-90)" font-size="21" text-anchor="middle" fill="#000">enrichment</text>
<text transform="translate(1001.0 1729.5) rotate(-30)" font-size="17.7" text-anchor="end" fill="#222">mregDC Triad</text>
<text transform="translate(1047.9 1729.5) rotate(-30)" font-size="17.7" text-anchor="end" fill="#222">DC1 Triad</text>
<text transform="translate(1092.9 1729.5) rotate(-30)" font-size="17.7" text-anchor="end" fill="#222">DC2 Triad</text>
<text x="1155.8" y="1276.2" font-size="46.5" text-anchor="start" fill="#000">F</text>
<line x1="1280.0" y1="1365.0" x2="1614.0" y2="1365.0" stroke="#ededed" stroke-width="1"/>
<line x1="1280.0" y1="1449.5" x2="1614.0" y2="1449.5" stroke="#ededed" stroke-width="1"/>
<line x1="1280.0" y1="1533.0" x2="1614.0" y2="1533.0" stroke="#ededed" stroke-width="1"/>
<line x1="1280.0" y1="1616.0" x2="1614.0" y2="1616.0" stroke="#ededed" stroke-width="1"/>
<line x1="1280.0" y1="1407.0" x2="1614.0" y2="1407.0" stroke="#f6f6f6" stroke-width="1"/>
<line x1="1280.0" y1="1491.0" x2="1614.0" y2="1491.0" stroke="#f6f6f6" stroke-width="1"/>
<line x1="1280.0" y1="1574.5" x2="1614.0" y2="1574.5" stroke="#f6f6f6" stroke-width="1"/>
<line x1="1303.0" y1="1335.0" x2="1303.0" y2="1632.0" stroke="#efefef" stroke-width="1"/>
<line x1="1341.0" y1="1335.0" x2="1341.0" y2="1632.0" stroke="#efefef" stroke-width="1"/>
<line x1="1379.0" y1="1335.0" x2="1379.0" y2="1632.0" stroke="#efefef" stroke-width="1"/>
<line x1="1417.0" y1="1335.0" x2="1417.0" y2="1632.0" stroke="#efefef" stroke-width="1"/>
<line x1="1475.0" y1="1335.0" x2="1475.0" y2="1632.0" stroke="#efefef" stroke-width="1"/>
<line x1="1513.0" y1="1335.0" x2="1513.0" y2="1632.0" stroke="#efefef" stroke-width="1"/>
<line x1="1551.0" y1="1335.0" x2="1551.0" y2="1632.0" stroke="#efefef" stroke-width="1"/>
<line x1="1589.0" y1="1335.0" x2="1589.0" y2="1632.0" stroke="#efefef" stroke-width="1"/>
<text x="1275.5" y="1370.1" font-size="15.5" text-anchor="end" fill="#4d4d4d">1000</text>
<text x="1275.5" y="1454.9" font-size="15.5" text-anchor="end" fill="#4d4d4d">100</text>
<text x="1275.5" y="1537.8" font-size="15.5" text-anchor="end" fill="#4d4d4d">10</text>
<text x="1275.5" y="1621.0" font-size="15.5" text-anchor="end" fill="#4d4d4d">1</text>
<g stroke="#bdbdbd" stroke-width="3" opacity="0.55" fill="none">
<polyline points="1303.0,1475.0 1341.0,1409.0"/>
<polyline points="1303.0,1502.0 1341.0,1470.0"/>
<polyline points="1303.0,1615.0 1341.0,1520.0"/>
<polyline points="1303.0,1580.0 1341.0,1530.0"/>
<polyline points="1379.0,1507.0 1417.0,1620.0"/>
<polyline points="1379.0,1600.0 1417.0,1431.0"/>
<polyline points="1379.0,1615.0 1417.0,1615.0"/>
<polyline points="1475.0,1404.0 1513.0,1530.0"/>
<polyline points="1475.0,1447.0 1513.0,1395.0"/>
<polyline points="1475.0,1615.0 1513.0,1420.0"/>
<polyline points="1551.0,1441.0 1589.0,1437.0"/>
<polyline points="1551.0,1552.0 1589.0,1460.0"/>
<polyline points="1551.0,1590.0 1589.0,1550.0"/>
<polyline points="1551.0,1453.0 1589.0,1520.0"/>
</g>
<line x1="1303.1" y1="1470.0" x2="1303.1" y2="1481.3" stroke="#222" stroke-width="1.3"/>
<line x1="1303.1" y1="1561.5" x2="1303.1" y2="1615.5" stroke="#222" stroke-width="1.3"/>
<rect x="1292.4" y="1481.3" width="21.4" height="80.2" fill="#6fa0dc" stroke="#222" stroke-width="1.1"/>
<line x1="1292.4" y1="1502.6" x2="1313.8" y2="1502.6" stroke="#222" stroke-width="2"/>
<line x1="1340.9" y1="1412.0" x2="1340.9" y2="1433.1" stroke="#222" stroke-width="1.3"/>
<line x1="1340.9" y1="1497.2" x2="1340.9" y2="1520.0" stroke="#222" stroke-width="1.3"/>
<rect x="1330.4" y="1433.1" width="21.0" height="64.1" fill="#6565cc" stroke="#222" stroke-width="1.1"/>
<line x1="1330.4" y1="1454.8" x2="1351.4" y2="1454.8" stroke="#222" stroke-width="2"/>
<line x1="1378.7" y1="1507.0" x2="1378.7" y2="1552.0" stroke="#222" stroke-width="1.3"/>
<rect x="1368.0" y="1552.0" width="21.4" height="63.5" fill="#f5825f" stroke="#222" stroke-width="1.1"/>
<line x1="1368.0" y1="1603.0" x2="1389.4" y2="1603.0" stroke="#222" stroke-width="2"/>
<line x1="1416.7" y1="1437.0" x2="1416.7" y2="1456.4" stroke="#222" stroke-width="1.3"/>
<line x1="1416.7" y1="1585.3" x2="1416.7" y2="1612.0" stroke="#222" stroke-width="1.3"/>
<rect x="1406.3" y="1456.4" width="20.7" height="128.9" fill="#dc5035" stroke="#222" stroke-width="1.1"/>
<line x1="1406.3" y1="1500.0" x2="1427.0" y2="1500.0" stroke="#222" stroke-width="2"/>
<line x1="1474.9" y1="1404.0" x2="1474.9" y2="1455.1" stroke="#222" stroke-width="1.3"/>
<line x1="1474.9" y1="1565.0" x2="1474.9" y2="1570.0" stroke="#222" stroke-width="1.3"/>
<rect x="1464.6" y="1455.1" width="20.7" height="109.9" fill="#6fa0dc" stroke="#222" stroke-width="1.1"/>
<line x1="1464.6" y1="1516.0" x2="1485.3" y2="1516.0" stroke="#222" stroke-width="2"/>
<line x1="1513.1" y1="1396.0" x2="1513.1" y2="1422.3" stroke="#222" stroke-width="1.3"/>
<line x1="1513.1" y1="1477.4" x2="1513.1" y2="1520.0" stroke="#222" stroke-width="1.3"/>
<rect x="1502.6" y="1422.3" width="21.0" height="55.1" fill="#6565cc" stroke="#222" stroke-width="1.1"/>
<line x1="1502.6" y1="1446.2" x2="1523.6" y2="1446.2" stroke="#222" stroke-width="2"/>
<line x1="1550.9" y1="1441.0" x2="1550.9" y2="1473.0" stroke="#222" stroke-width="1.3"/>
<line x1="1550.9" y1="1552.2" x2="1550.9" y2="1565.0" stroke="#222" stroke-width="1.3"/>
<rect x="1540.2" y="1473.0" width="21.4" height="79.2" fill="#f5825f" stroke="#222" stroke-width="1.1"/>
<line x1="1540.2" y1="1519.5" x2="1561.6" y2="1519.5" stroke="#222" stroke-width="2"/>
<line x1="1588.8" y1="1437.0" x2="1588.8" y2="1465.3" stroke="#222" stroke-width="1.3"/>
<line x1="1588.8" y1="1551.5" x2="1588.8" y2="1583.0" stroke="#222" stroke-width="1.3"/>
<rect x="1578.4" y="1465.3" width="20.8" height="86.2" fill="#dc5035" stroke="#222" stroke-width="1.1"/>
<line x1="1578.4" y1="1525.6" x2="1599.2" y2="1525.6" stroke="#222" stroke-width="2"/>
<circle cx="1303.0" cy="1470.0" r="7" fill="#777" fill-opacity="0.18" stroke="#777" stroke-opacity="0.4" stroke-width="2.2"/>
<circle cx="1303.0" cy="1475.0" r="7" fill="#777" fill-opacity="0.18" stroke="#777" stroke-opacity="0.4" stroke-width="2.2"/>
<circle cx="1303.0" cy="1502.0" r="7" fill="#777" fill-opacity="0.18" stroke="#777" stroke-opacity="0.4" stroke-width="2.2"/>
<circle cx="1303.0" cy="1580.0" r="7" fill="#777" fill-opacity="0.18" stroke="#777" stroke-opacity="0.4" stroke-width="2.2"/>
<circle cx="1303.0" cy="1615.5" r="7" fill="#777" fill-opacity="0.18" stroke="#777" stroke-opacity="0.4" stroke-width="2.2"/>
<circle cx="1341.0" cy="1409.0" r="7" fill="#777" fill-opacity="0.18" stroke="#777" stroke-opacity="0.4" stroke-width="2.2"/>
<circle cx="1341.0" cy="1431.0" r="7" fill="#777" fill-opacity="0.18" stroke="#777" stroke-opacity="0.4" stroke-width="2.2"/>
<circle cx="1341.0" cy="1470.0" r="7" fill="#777" fill-opacity="0.18" stroke="#777" stroke-opacity="0.4" stroke-width="2.2"/>
<circle cx="1341.0" cy="1504.0" r="7" fill="#777" fill-opacity="0.18" stroke="#777" stroke-opacity="0.4" stroke-width="2.2"/>
<circle cx="1341.0" cy="1518.0" r="7" fill="#777" fill-opacity="0.18" stroke="#777" stroke-opacity="0.4" stroke-width="2.2"/>
<circle cx="1379.0" cy="1507.0" r="7" fill="#777" fill-opacity="0.18" stroke="#777" stroke-opacity="0.4" stroke-width="2.2"/>
<circle cx="1379.0" cy="1595.0" r="7" fill="#777" fill-opacity="0.18" stroke="#777" stroke-opacity="0.4" stroke-width="2.2"/>
<circle cx="1379.0" cy="1600.0" r="7" fill="#777" fill-opacity="0.18" stroke="#777" stroke-opacity="0.4" stroke-width="2.2"/>
<circle cx="1379.0" cy="1615.5" r="7" fill="#777" fill-opacity="0.18" stroke="#777" stroke-opacity="0.4" stroke-width="2.2"/>
<circle cx="1417.0" cy="1437.0" r="7" fill="#777" fill-opacity="0.18" stroke="#777" stroke-opacity="0.4" stroke-width="2.2"/>
<circle cx="1417.0" cy="1447.0" r="7" fill="#777" fill-opacity="0.18" stroke="#777" stroke-opacity="0.4" stroke-width="2.2"/>
<circle cx="1417.0" cy="1467.0" r="7" fill="#777" fill-opacity="0.18" stroke="#777" stroke-opacity="0.4" stroke-width="2.2"/>
<circle cx="1417.0" cy="1500.0" r="7" fill="#777" fill-opacity="0.18" stroke="#777" stroke-opacity="0.4" stroke-width="2.2"/>
<circle cx="1417.0" cy="1580.0" r="7" fill="#777" fill-opacity="0.18" stroke="#777" stroke-opacity="0.4" stroke-width="2.2"/>
<circle cx="1417.0" cy="1612.0" r="7" fill="#777" fill-opacity="0.18" stroke="#777" stroke-opacity="0.4" stroke-width="2.2"/>
<circle cx="1475.0" cy="1404.0" r="7" fill="#777" fill-opacity="0.18" stroke="#777" stroke-opacity="0.4" stroke-width="2.2"/>
<circle cx="1475.0" cy="1447.0" r="7" fill="#777" fill-opacity="0.18" stroke="#777" stroke-opacity="0.4" stroke-width="2.2"/>
<circle cx="1475.0" cy="1467.0" r="7" fill="#777" fill-opacity="0.18" stroke="#777" stroke-opacity="0.4" stroke-width="2.2"/>
<circle cx="1475.0" cy="1565.0" r="7" fill="#777" fill-opacity="0.18" stroke="#777" stroke-opacity="0.4" stroke-width="2.2"/>
<circle cx="1475.0" cy="1569.0" r="7" fill="#777" fill-opacity="0.18" stroke="#777" stroke-opacity="0.4" stroke-width="2.2"/>
<circle cx="1513.0" cy="1396.0" r="7" fill="#777" fill-opacity="0.18" stroke="#777" stroke-opacity="0.4" stroke-width="2.2"/>
<circle cx="1513.0" cy="1420.0" r="7" fill="#777" fill-opacity="0.18" stroke="#777" stroke-opacity="0.4" stroke-width="2.2"/>
<circle cx="1513.0" cy="1465.0" r="7" fill="#777" fill-opacity="0.18" stroke="#777" stroke-opacity="0.4" stroke-width="2.2"/>
<circle cx="1513.0" cy="1482.0" r="7" fill="#777" fill-opacity="0.18" stroke="#777" stroke-opacity="0.4" stroke-width="2.2"/>
<circle cx="1513.0" cy="1518.0" r="7" fill="#777" fill-opacity="0.18" stroke="#777" stroke-opacity="0.4" stroke-width="2.2"/>
<circle cx="1551.0" cy="1441.0" r="7" fill="#777" fill-opacity="0.18" stroke="#777" stroke-opacity="0.4" stroke-width="2.2"/>
<circle cx="1551.0" cy="1453.0" r="7" fill="#777" fill-opacity="0.18" stroke="#777" stroke-opacity="0.4" stroke-width="2.2"/>
<circle cx="1551.0" cy="1491.0" r="7" fill="#777" fill-opacity="0.18" stroke="#777" stroke-opacity="0.4" stroke-width="2.2"/>
<circle cx="1551.0" cy="1522.0" r="7" fill="#777" fill-opacity="0.18" stroke="#777" stroke-opacity="0.4" stroke-width="2.2"/>
<circle cx="1551.0" cy="1552.0" r="7" fill="#777" fill-opacity="0.18" stroke="#777" stroke-opacity="0.4" stroke-width="2.2"/>
<circle cx="1551.0" cy="1562.0" r="7" fill="#777" fill-opacity="0.18" stroke="#777" stroke-opacity="0.4" stroke-width="2.2"/>
<circle cx="1589.0" cy="1437.0" r="7" fill="#777" fill-opacity="0.18" stroke="#777" stroke-opacity="0.4" stroke-width="2.2"/>
<circle cx="1589.0" cy="1460.0" r="7" fill="#777" fill-opacity="0.18" stroke="#777" stroke-opacity="0.4" stroke-width="2.2"/>
<circle cx="1589.0" cy="1490.0" r="7" fill="#777" fill-opacity="0.18" stroke="#777" stroke-opacity="0.4" stroke-width="2.2"/>
<circle cx="1589.0" cy="1522.0" r="7" fill="#777" fill-opacity="0.18" stroke="#777" stroke-opacity="0.4" stroke-width="2.2"/>
<circle cx="1589.0" cy="1550.0" r="7" fill="#777" fill-opacity="0.18" stroke="#777" stroke-opacity="0.4" stroke-width="2.2"/>
<circle cx="1589.0" cy="1583.0" r="7" fill="#777" fill-opacity="0.18" stroke="#777" stroke-opacity="0.4" stroke-width="2.2"/>
<text x="1340.6" y="1323.1" font-size="15" text-anchor="middle" fill="#222">p=0.07</text>
<line x1="1301.0" y1="1329.5" x2="1380.7" y2="1329.5" stroke="#222" stroke-width="1.2"/>
<line x1="1301.0" y1="1327.0" x2="1301.0" y2="1332.0" stroke="#222" stroke-width="1.2"/>
<line x1="1380.7" y1="1327.0" x2="1380.7" y2="1332.0" stroke="#222" stroke-width="1.2"/>
<text transform="translate(1239 1494) rotate(-90)" font-size="21.5" text-anchor="middle">Density (cells/mm<tspan dy="-7" font-size="14">2</tspan><tspan dy="7">)</tspan></text>
<text transform="translate(1395.3 1664) rotate(-20)" font-size="17" text-anchor="end" fill="#222">CXCL13<tspan dy="-6" font-size="11">+</tspan><tspan dy="6"> Th</tspan></text>
<text transform="translate(1565.3 1659.2) rotate(-20)" font-size="17" text-anchor="end" fill="#222">Progenitor CD8</text>
<line x1="1253.2" y1="1721.4" x2="1253.2" y2="1754.4" stroke="#555" stroke-width="1"/>
<rect x="1237.7" y="1727.4" width="31" height="20.8" fill="#6fa0dc" stroke="#333" stroke-width="0.8"/>
<line x1="1237.7" y1="1737.8" x2="1268.7" y2="1737.8" stroke="#222" stroke-width="1.2"/>
<circle cx="1253.2" cy="1737.8" r="7.0" fill="#555" stroke="none" stroke-width="1" opacity="0.25"/>
<text x="1284.0" y="1744.4" font-size="22.5" text-anchor="start" fill="#000">Responder Pre-treatment</text>
<line x1="1253.2" y1="1763.0" x2="1253.2" y2="1796.0" stroke="#555" stroke-width="1"/>
<rect x="1237.7" y="1769.0" width="31" height="20.8" fill="#6565cc" stroke="#333" stroke-width="0.8"/>
<line x1="1237.7" y1="1779.4" x2="1268.7" y2="1779.4" stroke="#222" stroke-width="1.2"/>
<circle cx="1253.2" cy="1779.4" r="7.0" fill="#555" stroke="none" stroke-width="1" opacity="0.25"/>
<text x="1284.0" y="1787.7" font-size="22.5" text-anchor="start" fill="#000">Responder Post-treatment</text>
<line x1="1253.2" y1="1803.0" x2="1253.2" y2="1836.0" stroke="#555" stroke-width="1"/>
<rect x="1237.7" y="1809.0" width="31" height="20.8" fill="#f5825f" stroke="#333" stroke-width="0.8"/>
<line x1="1237.7" y1="1819.4" x2="1268.7" y2="1819.4" stroke="#222" stroke-width="1.2"/>
<circle cx="1253.2" cy="1819.4" r="7.0" fill="#555" stroke="none" stroke-width="1" opacity="0.25"/>
<text x="1284.0" y="1828.6" font-size="22.5" text-anchor="start" fill="#000">Non–responder/T cell rich Pre-treatment</text>
<line x1="1253.2" y1="1844.0" x2="1253.2" y2="1877.0" stroke="#555" stroke-width="1"/>
<rect x="1237.7" y="1850.0" width="31" height="20.8" fill="#dc5035" stroke="#333" stroke-width="0.8"/>
<line x1="1237.7" y1="1860.4" x2="1268.7" y2="1860.4" stroke="#222" stroke-width="1.2"/>
<circle cx="1253.2" cy="1860.4" r="7.0" fill="#555" stroke="none" stroke-width="1" opacity="0.25"/>
<text x="1284.0" y="1867.7" font-size="22.5" text-anchor="start" fill="#000">Non–responder/T cell rich Post-treatment</text>
<text x="14.5" y="1921.0" font-size="46.5" text-anchor="start" fill="#000">G</text>
<line x1="152.0" y1="2009.0" x2="525.0" y2="2009.0" stroke="#ededed" stroke-width="1"/>
<line x1="152.0" y1="2093.0" x2="525.0" y2="2093.0" stroke="#ededed" stroke-width="1"/>
<line x1="152.0" y1="2176.5" x2="525.0" y2="2176.5" stroke="#ededed" stroke-width="1"/>
<line x1="152.0" y1="2260.0" x2="525.0" y2="2260.0" stroke="#ededed" stroke-width="1"/>
<line x1="152.0" y1="2051.0" x2="525.0" y2="2051.0" stroke="#f6f6f6" stroke-width="1"/>
<line x1="152.0" y1="2135.0" x2="525.0" y2="2135.0" stroke="#f6f6f6" stroke-width="1"/>
<line x1="152.0" y1="2218.0" x2="525.0" y2="2218.0" stroke="#f6f6f6" stroke-width="1"/>
<line x1="169.6" y1="1980.0" x2="169.6" y2="2275.0" stroke="#efefef" stroke-width="1"/>
<line x1="197.5" y1="1980.0" x2="197.5" y2="2275.0" stroke="#efefef" stroke-width="1"/>
<line x1="225.0" y1="1980.0" x2="225.0" y2="2275.0" stroke="#efefef" stroke-width="1"/>
<line x1="253.6" y1="1980.0" x2="253.6" y2="2275.0" stroke="#efefef" stroke-width="1"/>
<line x1="297.0" y1="1980.0" x2="297.0" y2="2275.0" stroke="#efefef" stroke-width="1"/>
<line x1="325.0" y1="1980.0" x2="325.0" y2="2275.0" stroke="#efefef" stroke-width="1"/>
<line x1="353.0" y1="1980.0" x2="353.0" y2="2275.0" stroke="#efefef" stroke-width="1"/>
<line x1="381.0" y1="1980.0" x2="381.0" y2="2275.0" stroke="#efefef" stroke-width="1"/>
<line x1="425.0" y1="1980.0" x2="425.0" y2="2275.0" stroke="#efefef" stroke-width="1"/>
<line x1="453.0" y1="1980.0" x2="453.0" y2="2275.0" stroke="#efefef" stroke-width="1"/>
<line x1="481.0" y1="1980.0" x2="481.0" y2="2275.0" stroke="#efefef" stroke-width="1"/>
<line x1="509.0" y1="1980.0" x2="509.0" y2="2275.0" stroke="#efefef" stroke-width="1"/>
<text x="148.2" y="2014.1" font-size="15.5" text-anchor="end" fill="#4d4d4d">1000</text>
<text x="148.2" y="2098.0" font-size="15.5" text-anchor="end" fill="#4d4d4d">100</text>
<text x="148.2" y="2181.9" font-size="15.5" text-anchor="end" fill="#4d4d4d">10</text>
<text x="148.2" y="2264.5" font-size="15.5" text-anchor="end" fill="#4d4d4d">1</text>
<g stroke="#bdbdbd" stroke-width="3" opacity="0.55" fill="none">
<polyline points="169.6,2120.0 197.5,2115.0"/>
<polyline points="169.6,2150.0 197.5,2135.0"/>
<polyline points="169.6,2190.0 197.5,2150.0"/>
<polyline points="225.0,2140.0 253.6,2105.0"/>
<polyline points="225.0,2195.0 253.6,2170.0"/>
<polyline points="225.0,2225.0 253.6,2195.0"/>
<polyline points="297.0,2114.0 325.0,2110.0"/>
<polyline points="297.0,2260.0 325.0,2140.0"/>
<polyline points="353.0,2068.0 381.0,2086.0"/>
<polyline points="353.0,2100.0 381.0,2120.0"/>
<polyline points="353.0,2190.0 381.0,2163.0"/>
<polyline points="425.0,2117.0 453.0,2030.0"/>
<polyline points="425.0,2150.0 453.0,2050.0"/>
<polyline points="425.0,2260.0 453.0,2170.0"/>
<polyline points="481.0,2140.0 509.0,2120.0"/>
<polyline points="481.0,2240.0 509.0,2180.0"/>
<polyline points="481.0,2165.0 509.0,2135.0"/>
</g>
<line x1="169.7" y1="2120.0" x2="169.7" y2="2131.0" stroke="#222" stroke-width="1.3"/>
<line x1="169.7" y1="2181.4" x2="169.7" y2="2210.0" stroke="#222" stroke-width="1.3"/>
<rect x="159.0" y="2131.0" width="21.4" height="50.4" fill="#6fa0dc" stroke="#222" stroke-width="1.1"/>
<line x1="159.0" y1="2144.3" x2="180.4" y2="2144.3" stroke="#222" stroke-width="2"/>
<line x1="197.4" y1="2112.0" x2="197.4" y2="2116.8" stroke="#222" stroke-width="1.3"/>
<line x1="197.4" y1="2133.6" x2="197.4" y2="2150.0" stroke="#222" stroke-width="1.3"/>
<rect x="186.8" y="2116.8" width="21.1" height="16.8" fill="#6565cc" stroke="#222" stroke-width="1.1"/>
<line x1="186.8" y1="2125.7" x2="207.9" y2="2125.7" stroke="#222" stroke-width="2"/>
<line x1="225.3" y1="2135.0" x2="225.3" y2="2154.3" stroke="#222" stroke-width="1.3"/>
<line x1="225.3" y1="2215.4" x2="225.3" y2="2230.0" stroke="#222" stroke-width="1.3"/>
<rect x="215.0" y="2154.3" width="20.7" height="61.1" fill="#f5825f" stroke="#222" stroke-width="1.1"/>
<line x1="215.0" y1="2175.0" x2="235.7" y2="2175.0" stroke="#222" stroke-width="2"/>
<line x1="253.6" y1="2103.0" x2="253.6" y2="2120.0" stroke="#222" stroke-width="1.3"/>
<line x1="253.6" y1="2194.3" x2="253.6" y2="2198.0" stroke="#222" stroke-width="1.3"/>
<rect x="242.9" y="2120.0" width="21.4" height="74.3" fill="#dc5035" stroke="#222" stroke-width="1.1"/>
<line x1="242.9" y1="2155.0" x2="264.3" y2="2155.0" stroke="#222" stroke-width="2"/>
<line x1="297.1" y1="2098.0" x2="297.1" y2="2119.3" stroke="#222" stroke-width="1.3"/>
<line x1="297.1" y1="2189.6" x2="297.1" y2="2259.0" stroke="#222" stroke-width="1.3"/>
<rect x="286.4" y="2119.3" width="21.5" height="70.3" fill="#6fa0dc" stroke="#222" stroke-width="1.1"/>
<line x1="286.4" y1="2149.6" x2="307.9" y2="2149.6" stroke="#222" stroke-width="2"/>
<line x1="325.0" y1="2108.0" x2="325.0" y2="2126.4" stroke="#222" stroke-width="1.3"/>
<line x1="325.0" y1="2145.4" x2="325.0" y2="2160.0" stroke="#222" stroke-width="1.3"/>
<rect x="314.3" y="2126.4" width="21.4" height="19.0" fill="#6565cc" stroke="#222" stroke-width="1.1"/>
<line x1="314.3" y1="2138.2" x2="335.7" y2="2138.2" stroke="#222" stroke-width="2"/>
<line x1="352.8" y1="2068.0" x2="352.8" y2="2121.0" stroke="#222" stroke-width="1.3"/>
<line x1="352.8" y1="2180.7" x2="352.8" y2="2205.0" stroke="#222" stroke-width="1.3"/>
<rect x="342.0" y="2121.0" width="21.6" height="59.7" fill="#f5825f" stroke="#222" stroke-width="1.1"/>
<line x1="342.0" y1="2145.4" x2="363.6" y2="2145.4" stroke="#222" stroke-width="2"/>
<line x1="381.1" y1="2085.0" x2="381.1" y2="2122.9" stroke="#222" stroke-width="1.3"/>
<line x1="381.1" y1="2156.0" x2="381.1" y2="2175.0" stroke="#222" stroke-width="1.3"/>
<rect x="370.4" y="2122.9" width="21.4" height="33.1" fill="#dc5035" stroke="#222" stroke-width="1.1"/>
<line x1="370.4" y1="2125.7" x2="391.8" y2="2125.7" stroke="#222" stroke-width="2"/>
<line x1="425.0" y1="2117.0" x2="425.0" y2="2124.6" stroke="#222" stroke-width="1.3"/>
<line x1="425.0" y1="2225.0" x2="425.0" y2="2258.0" stroke="#222" stroke-width="1.3"/>
<rect x="414.3" y="2124.6" width="21.4" height="100.4" fill="#6fa0dc" stroke="#222" stroke-width="1.1"/>
<line x1="414.3" y1="2143.2" x2="435.7" y2="2143.2" stroke="#222" stroke-width="2"/>
<line x1="452.9" y1="1997.0" x2="452.9" y2="2034.6" stroke="#222" stroke-width="1.3"/>
<line x1="452.9" y1="2144.3" x2="452.9" y2="2180.0" stroke="#222" stroke-width="1.3"/>
<rect x="442.1" y="2034.6" width="21.5" height="109.7" fill="#6565cc" stroke="#222" stroke-width="1.1"/>
<line x1="442.1" y1="2047.9" x2="463.6" y2="2047.9" stroke="#222" stroke-width="2"/>
<line x1="480.7" y1="2143.0" x2="480.7" y2="2170.0" stroke="#222" stroke-width="1.3"/>
<line x1="480.7" y1="2246.4" x2="480.7" y2="2260.0" stroke="#222" stroke-width="1.3"/>
<rect x="470.4" y="2170.0" width="20.6" height="76.4" fill="#f5825f" stroke="#222" stroke-width="1.1"/>
<line x1="470.4" y1="2227.5" x2="491.0" y2="2227.5" stroke="#222" stroke-width="2"/>
<line x1="508.9" y1="2110.0" x2="508.9" y2="2130.0" stroke="#222" stroke-width="1.3"/>
<line x1="508.9" y1="2162.1" x2="508.9" y2="2183.0" stroke="#222" stroke-width="1.3"/>
<rect x="498.2" y="2130.0" width="21.4" height="32.1" fill="#dc5035" stroke="#222" stroke-width="1.1"/>
<line x1="498.2" y1="2141.8" x2="519.6" y2="2141.8" stroke="#222" stroke-width="2"/>
<circle cx="169.6" cy="2120.0" r="7" fill="#777" fill-opacity="0.18" stroke="#777" stroke-opacity="0.4" stroke-width="2.2"/>
<circle cx="169.6" cy="2148.0" r="7" fill="#777" fill-opacity="0.18" stroke="#777" stroke-opacity="0.4" stroke-width="2.2"/>
<circle cx="169.6" cy="2190.0" r="7" fill="#777" fill-opacity="0.18" stroke="#777" stroke-opacity="0.4" stroke-width="2.2"/>
<circle cx="169.6" cy="2200.0" r="7" fill="#777" fill-opacity="0.18" stroke="#777" stroke-opacity="0.4" stroke-width="2.2"/>
<circle cx="197.5" cy="2112.0" r="7" fill="#777" fill-opacity="0.18" stroke="#777" stroke-opacity="0.4" stroke-width="2.2"/>
<circle cx="197.5" cy="2117.0" r="7" fill="#777" fill-opacity="0.18" stroke="#777" stroke-opacity="0.4" stroke-width="2.2"/>
<circle cx="197.5" cy="2130.0" r="7" fill="#777" fill-opacity="0.18" stroke="#777" stroke-opacity="0.4" stroke-width="2.2"/>
<circle cx="197.5" cy="2150.0" r="7" fill="#777" fill-opacity="0.18" stroke="#777" stroke-opacity="0.4" stroke-width="2.2"/>
<circle cx="225.0" cy="2135.0" r="7" fill="#777" fill-opacity="0.18" stroke="#777" stroke-opacity="0.4" stroke-width="2.2"/>
<circle cx="225.0" cy="2140.0" r="7" fill="#777" fill-opacity="0.18" stroke="#777" stroke-opacity="0.4" stroke-width="2.2"/>
<circle cx="225.0" cy="2167.0" r="7" fill="#777" fill-opacity="0.18" stroke="#777" stroke-opacity="0.4" stroke-width="2.2"/>
<circle cx="225.0" cy="2195.0" r="7" fill="#777" fill-opacity="0.18" stroke="#777" stroke-opacity="0.4" stroke-width="2.2"/>
<circle cx="225.0" cy="2215.0" r="7" fill="#777" fill-opacity="0.18" stroke="#777" stroke-opacity="0.4" stroke-width="2.2"/>
<circle cx="225.0" cy="2225.0" r="7" fill="#777" fill-opacity="0.18" stroke="#777" stroke-opacity="0.4" stroke-width="2.2"/>
<circle cx="253.6" cy="2103.0" r="7" fill="#777" fill-opacity="0.18" stroke="#777" stroke-opacity="0.4" stroke-width="2.2"/>
<circle cx="253.6" cy="2114.0" r="7" fill="#777" fill-opacity="0.18" stroke="#777" stroke-opacity="0.4" stroke-width="2.2"/>
<circle cx="253.6" cy="2150.0" r="7" fill="#777" fill-opacity="0.18" stroke="#777" stroke-opacity="0.4" stroke-width="2.2"/>
<circle cx="253.6" cy="2194.0" r="7" fill="#777" fill-opacity="0.18" stroke="#777" stroke-opacity="0.4" stroke-width="2.2"/>
<circle cx="297.0" cy="2098.0" r="7" fill="#777" fill-opacity="0.18" stroke="#777" stroke-opacity="0.4" stroke-width="2.2"/>
<circle cx="297.0" cy="2112.0" r="7" fill="#777" fill-opacity="0.18" stroke="#777" stroke-opacity="0.4" stroke-width="2.2"/>
<circle cx="297.0" cy="2140.0" r="7" fill="#777" fill-opacity="0.18" stroke="#777" stroke-opacity="0.4" stroke-width="2.2"/>
<circle cx="297.0" cy="2200.0" r="7" fill="#777" fill-opacity="0.18" stroke="#777" stroke-opacity="0.4" stroke-width="2.2"/>
<circle cx="297.0" cy="2259.0" r="7" fill="#777" fill-opacity="0.18" stroke="#777" stroke-opacity="0.4" stroke-width="2.2"/>
<circle cx="325.0" cy="2108.0" r="7" fill="#777" fill-opacity="0.18" stroke="#777" stroke-opacity="0.4" stroke-width="2.2"/>
<circle cx="325.0" cy="2120.0" r="7" fill="#777" fill-opacity="0.18" stroke="#777" stroke-opacity="0.4" stroke-width="2.2"/>
<circle cx="325.0" cy="2150.0" r="7" fill="#777" fill-opacity="0.18" stroke="#777" stroke-opacity="0.4" stroke-width="2.2"/>
<circle cx="325.0" cy="2160.0" r="7" fill="#777" fill-opacity="0.18" stroke="#777" stroke-opacity="0.4" stroke-width="2.2"/>
<circle cx="353.0" cy="2068.0" r="7" fill="#777" fill-opacity="0.18" stroke="#777" stroke-opacity="0.4" stroke-width="2.2"/>
<circle cx="353.0" cy="2100.0" r="7" fill="#777" fill-opacity="0.18" stroke="#777" stroke-opacity="0.4" stroke-width="2.2"/>
<circle cx="353.0" cy="2145.0" r="7" fill="#777" fill-opacity="0.18" stroke="#777" stroke-opacity="0.4" stroke-width="2.2"/>
<circle cx="353.0" cy="2187.0" r="7" fill="#777" fill-opacity="0.18" stroke="#777" stroke-opacity="0.4" stroke-width="2.2"/>
<circle cx="353.0" cy="2205.0" r="7" fill="#777" fill-opacity="0.18" stroke="#777" stroke-opacity="0.4" stroke-width="2.2"/>
<circle cx="381.0" cy="2085.0" r="7" fill="#777" fill-opacity="0.18" stroke="#777" stroke-opacity="0.4" stroke-width="2.2"/>
<circle cx="381.0" cy="2120.0" r="7" fill="#777" fill-opacity="0.18" stroke="#777" stroke-opacity="0.4" stroke-width="2.2"/>
<circle cx="381.0" cy="2163.0" r="7" fill="#777" fill-opacity="0.18" stroke="#777" stroke-opacity="0.4" stroke-width="2.2"/>
<circle cx="381.0" cy="2170.0" r="7" fill="#777" fill-opacity="0.18" stroke="#777" stroke-opacity="0.4" stroke-width="2.2"/>
<circle cx="425.0" cy="2117.0" r="7" fill="#777" fill-opacity="0.18" stroke="#777" stroke-opacity="0.4" stroke-width="2.2"/>
<circle cx="425.0" cy="2140.0" r="7" fill="#777" fill-opacity="0.18" stroke="#777" stroke-opacity="0.4" stroke-width="2.2"/>
<circle cx="425.0" cy="2250.0" r="7" fill="#777" fill-opacity="0.18" stroke="#777" stroke-opacity="0.4" stroke-width="2.2"/>
<circle cx="425.0" cy="2259.0" r="7" fill="#777" fill-opacity="0.18" stroke="#777" stroke-opacity="0.4" stroke-width="2.2"/>
<circle cx="453.0" cy="1997.0" r="7" fill="#777" fill-opacity="0.18" stroke="#777" stroke-opacity="0.4" stroke-width="2.2"/>
<circle cx="453.0" cy="2033.0" r="7" fill="#777" fill-opacity="0.18" stroke="#777" stroke-opacity="0.4" stroke-width="2.2"/>
<circle cx="453.0" cy="2062.0" r="7" fill="#777" fill-opacity="0.18" stroke="#777" stroke-opacity="0.4" stroke-width="2.2"/>
<circle cx="453.0" cy="2172.0" r="7" fill="#777" fill-opacity="0.18" stroke="#777" stroke-opacity="0.4" stroke-width="2.2"/>
<circle cx="453.0" cy="2183.0" r="7" fill="#777" fill-opacity="0.18" stroke="#777" stroke-opacity="0.4" stroke-width="2.2"/>
<circle cx="481.0" cy="2143.0" r="7" fill="#777" fill-opacity="0.18" stroke="#777" stroke-opacity="0.4" stroke-width="2.2"/>
<circle cx="481.0" cy="2158.0" r="7" fill="#777" fill-opacity="0.18" stroke="#777" stroke-opacity="0.4" stroke-width="2.2"/>
<circle cx="481.0" cy="2208.0" r="7" fill="#777" fill-opacity="0.18" stroke="#777" stroke-opacity="0.4" stroke-width="2.2"/>
<circle cx="481.0" cy="2228.0" r="7" fill="#777" fill-opacity="0.18" stroke="#777" stroke-opacity="0.4" stroke-width="2.2"/>
<circle cx="481.0" cy="2260.0" r="7" fill="#777" fill-opacity="0.18" stroke="#777" stroke-opacity="0.4" stroke-width="2.2"/>
<circle cx="509.0" cy="2110.0" r="7" fill="#777" fill-opacity="0.18" stroke="#777" stroke-opacity="0.4" stroke-width="2.2"/>
<circle cx="509.0" cy="2120.0" r="7" fill="#777" fill-opacity="0.18" stroke="#777" stroke-opacity="0.4" stroke-width="2.2"/>
<circle cx="509.0" cy="2142.0" r="7" fill="#777" fill-opacity="0.18" stroke="#777" stroke-opacity="0.4" stroke-width="2.2"/>
<circle cx="509.0" cy="2183.0" r="7" fill="#777" fill-opacity="0.18" stroke="#777" stroke-opacity="0.4" stroke-width="2.2"/>
<text x="224.5" y="2065.8" font-size="15" text-anchor="middle" fill="#222">p=0.36</text>
<line x1="197.5" y1="2071.8" x2="252.9" y2="2071.8" stroke="#222" stroke-width="1.2"/>
<line x1="197.5" y1="2069.3" x2="197.5" y2="2074.3" stroke="#222" stroke-width="1.2"/>
<line x1="252.9" y1="2069.3" x2="252.9" y2="2074.3" stroke="#222" stroke-width="1.2"/>
<text transform="translate(110 2130) rotate(-90)" font-size="21.5" text-anchor="middle">Density (cells/mm<tspan dy="-7" font-size="14">2</tspan><tspan dy="7">)</tspan></text>
<text transform="translate(225.6 2310) rotate(-20)" font-size="17" text-anchor="end" fill="#222">mregDC</text>
<text transform="translate(302.6 2306) rotate(-20)" font-size="17" text-anchor="end" fill="#222">DC1</text>
<text transform="translate(438.9 2304.2) rotate(-20)" font-size="17" text-anchor="end" fill="#222">DC2</text>
<line x1="83.4" y1="2367.2" x2="83.4" y2="2400.2" stroke="#555" stroke-width="1"/>
<rect x="67.9" y="2373.2" width="31" height="20.8" fill="#6fa0dc" stroke="#333" stroke-width="0.8"/>
<line x1="67.9" y1="2383.6" x2="98.9" y2="2383.6" stroke="#222" stroke-width="1.2"/>
<circle cx="83.4" cy="2383.6" r="7.0" fill="#555" stroke="none" stroke-width="1" opacity="0.25"/>
<text x="114.4" y="2388.6" font-size="22.5" text-anchor="start" fill="#000">Responder Pre-treatment</text>
<line x1="83.4" y1="2408.3" x2="83.4" y2="2441.3" stroke="#555" stroke-width="1"/>
<rect x="67.9" y="2414.3" width="31" height="20.8" fill="#6565cc" stroke="#333" stroke-width="0.8"/>
<line x1="67.9" y1="2424.7" x2="98.9" y2="2424.7" stroke="#222" stroke-width="1.2"/>
<circle cx="83.4" cy="2424.7" r="7.0" fill="#555" stroke="none" stroke-width="1" opacity="0.25"/>
<text x="114.4" y="2433.2" font-size="22.5" text-anchor="start" fill="#000">Responder Post-treatment</text>
<line x1="83.4" y1="2449.4" x2="83.4" y2="2482.4" stroke="#555" stroke-width="1"/>
<rect x="67.9" y="2455.4" width="31" height="20.8" fill="#f5825f" stroke="#333" stroke-width="0.8"/>
<line x1="67.9" y1="2465.8" x2="98.9" y2="2465.8" stroke="#222" stroke-width="1.2"/>
<circle cx="83.4" cy="2465.8" r="7.0" fill="#555" stroke="none" stroke-width="1" opacity="0.25"/>
<text x="114.4" y="2473.2" font-size="22.5" text-anchor="start" fill="#000">Non–responder/T cell rich Pre-treatment</text>
<line x1="83.4" y1="2489.7" x2="83.4" y2="2522.7" stroke="#555" stroke-width="1"/>
<rect x="67.9" y="2495.7" width="31" height="20.8" fill="#dc5035" stroke="#333" stroke-width="0.8"/>
<line x1="67.9" y1="2506.1" x2="98.9" y2="2506.1" stroke="#222" stroke-width="1.2"/>
<circle cx="83.4" cy="2506.1" r="7.0" fill="#555" stroke="none" stroke-width="1" opacity="0.25"/>
<text x="114.4" y="2513.2" font-size="22.5" text-anchor="start" fill="#000">Non–responder/T cell rich Post-treatment</text>
<text x="583.3" y="1920.8" font-size="46.5" text-anchor="start" fill="#000">H</text>
<text x="750.8" y="1948.4" font-size="20.5" text-anchor="start" fill="#000">Pre-treatment</text>
<line x1="707.2" y1="1959.8" x2="906.2" y2="1959.8" stroke="#222" stroke-width="1.6"/>
<line x1="707.2" y1="1955.8" x2="707.2" y2="1963.8" stroke="#222" stroke-width="1.6"/>
<line x1="906.2" y1="1955.8" x2="906.2" y2="1963.8" stroke="#222" stroke-width="1.6"/>
<line x1="682.0" y1="2021.5" x2="935.0" y2="2021.5" stroke="#ededed" stroke-width="1"/>
<line x1="682.0" y1="2094.5" x2="935.0" y2="2094.5" stroke="#ededed" stroke-width="1"/>
<line x1="682.0" y1="2161.5" x2="935.0" y2="2161.5" stroke="#ededed" stroke-width="1"/>
<line x1="682.0" y1="2057.0" x2="935.0" y2="2057.0" stroke="#f6f6f6" stroke-width="1"/>
<line x1="682.0" y1="2128.0" x2="935.0" y2="2128.0" stroke="#f6f6f6" stroke-width="1"/>
<line x1="751.5" y1="1995.0" x2="751.5" y2="2170.0" stroke="#efefef" stroke-width="1"/>
<line x1="866.0" y1="1995.0" x2="866.0" y2="2170.0" stroke="#efefef" stroke-width="1"/>
<text x="678.0" y="2027.1" font-size="15.5" text-anchor="end" fill="#4d4d4d">10</text>
<text x="678.0" y="2099.8" font-size="15.5" text-anchor="end" fill="#4d4d4d">3</text>
<text x="678.0" y="2166.9" font-size="15.5" text-anchor="end" fill="#4d4d4d">1</text>
<line x1="730.0" y1="2098.0" x2="730.0" y2="2131.3" stroke="#444" stroke-width="1"/>
<rect x="710.5" y="2131.3" width="39.0" height="30.1" fill="#6565cc" stroke="#333" stroke-width="0.8"/>
<line x1="710.5" y1="2158.0" x2="749.5" y2="2158.0" stroke="#222" stroke-width="1.6"/>
<line x1="773.3" y1="2121.0" x2="773.3" y2="2142.0" stroke="#444" stroke-width="1"/>
<rect x="753.9" y="2142.0" width="38.8" height="19.4" fill="#dc5035" stroke="#333" stroke-width="0.8"/>
<line x1="844.6" y1="2054.0" x2="844.6" y2="2102.7" stroke="#444" stroke-width="1"/>
<rect x="825.3" y="2102.7" width="38.7" height="57.9" fill="#6565cc" stroke="#333" stroke-width="0.8"/>
<line x1="825.3" y1="2134.6" x2="864.0" y2="2134.6" stroke="#222" stroke-width="1.6"/>
<line x1="887.9" y1="2005.0" x2="887.9" y2="2091.7" stroke="#444" stroke-width="1"/>
<rect x="868.7" y="2091.7" width="38.3" height="69.7" fill="#dc5035" stroke="#333" stroke-width="0.8"/>
<circle cx="728.0" cy="2098.0" r="5.5" fill="#888" fill-opacity="0.25" stroke="#888" stroke-width="2.2" opacity="0.45"/>
<circle cx="728.0" cy="2122.0" r="5.5" fill="#888" fill-opacity="0.25" stroke="#888" stroke-width="2.2" opacity="0.45"/>
<circle cx="728.0" cy="2155.0" r="5.5" fill="#888" fill-opacity="0.25" stroke="#888" stroke-width="2.2" opacity="0.45"/>
<circle cx="728.0" cy="2161.0" r="5.5" fill="#888" fill-opacity="0.25" stroke="#888" stroke-width="2.2" opacity="0.45"/>
<circle cx="773.0" cy="2092.0" r="5.5" fill="#888" fill-opacity="0.25" stroke="#888" stroke-width="2.2" opacity="0.45"/>
<circle cx="773.0" cy="2122.0" r="5.5" fill="#888" fill-opacity="0.25" stroke="#888" stroke-width="2.2" opacity="0.45"/>
<circle cx="773.0" cy="2161.0" r="5.5" fill="#888" fill-opacity="0.25" stroke="#888" stroke-width="2.2" opacity="0.45"/>
<circle cx="773.0" cy="2161.0" r="5.5" fill="#888" fill-opacity="0.25" stroke="#888" stroke-width="2.2" opacity="0.45"/>
<circle cx="842.0" cy="2054.0" r="5.5" fill="#888" fill-opacity="0.25" stroke="#888" stroke-width="2.2" opacity="0.45"/>
<circle cx="842.0" cy="2098.0" r="5.5" fill="#888" fill-opacity="0.25" stroke="#888" stroke-width="2.2" opacity="0.45"/>
<circle cx="842.0" cy="2112.0" r="5.5" fill="#888" fill-opacity="0.25" stroke="#888" stroke-width="2.2" opacity="0.45"/>
<circle cx="842.0" cy="2161.0" r="5.5" fill="#888" fill-opacity="0.25" stroke="#888" stroke-width="2.2" opacity="0.45"/>
<circle cx="886.0" cy="2005.0" r="5.5" fill="#888" fill-opacity="0.25" stroke="#888" stroke-width="2.2" opacity="0.45"/>
<circle cx="886.0" cy="2042.0" r="5.5" fill="#888" fill-opacity="0.25" stroke="#888" stroke-width="2.2" opacity="0.45"/>
<circle cx="886.0" cy="2141.0" r="5.5" fill="#888" fill-opacity="0.25" stroke="#888" stroke-width="2.2" opacity="0.45"/>
<circle cx="886.0" cy="2161.0" r="5.5" fill="#888" fill-opacity="0.25" stroke="#888" stroke-width="2.2" opacity="0.45"/>
<text x="872.0" y="2182.6" font-size="15" text-anchor="middle" fill="#222">0.006</text>
<line x1="842.7" y1="2188.7" x2="894.2" y2="2188.7" stroke="#222" stroke-width="1.2"/>
<line x1="842.7" y1="2186.2" x2="842.7" y2="2191.2" stroke="#222" stroke-width="1.2"/>
<line x1="894.2" y1="2186.2" x2="894.2" y2="2191.2" stroke="#222" stroke-width="1.2"/>
<text transform="translate(626.2 2200.0) rotate(-90)" font-size="21">Contact density <tspan font-size="13.5">(50 µm)</tspan></text>
<line x1="682.0" y1="2194.5" x2="935.0" y2="2194.5" stroke="#ededed" stroke-width="1"/>
<line x1="682.0" y1="2250.0" x2="935.0" y2="2250.0" stroke="#ededed" stroke-width="1"/>
<line x1="682.0" y1="2305.5" x2="935.0" y2="2305.5" stroke="#ededed" stroke-width="1"/>
<line x1="682.0" y1="2361.5" x2="935.0" y2="2361.5" stroke="#ededed" stroke-width="1"/>
<line x1="682.0" y1="2222.0" x2="935.0" y2="2222.0" stroke="#f6f6f6" stroke-width="1"/>
<line x1="682.0" y1="2278.0" x2="935.0" y2="2278.0" stroke="#f6f6f6" stroke-width="1"/>
<line x1="682.0" y1="2333.5" x2="935.0" y2="2333.5" stroke="#f6f6f6" stroke-width="1"/>
<line x1="751.5" y1="2190.0" x2="751.5" y2="2370.0" stroke="#efefef" stroke-width="1"/>
<line x1="866.0" y1="2190.0" x2="866.0" y2="2370.0" stroke="#efefef" stroke-width="1"/>
<line x1="682.4" y1="2250.3" x2="935.0" y2="2250.3" stroke="#999" stroke-width="1.2"/>
<text x="678.0" y="2200.1" font-size="15.5" text-anchor="end" fill="#4d4d4d">0.5</text>
<text x="678.0" y="2255.5" font-size="15.5" text-anchor="end" fill="#4d4d4d">0.0</text>
<text x="678.0" y="2311.1" font-size="15.5" text-anchor="end" fill="#4d4d4d">−0.5</text>
<text x="678.0" y="2367.2" font-size="15.5" text-anchor="end" fill="#4d4d4d">−1.0</text>
<line x1="730.0" y1="2240.0" x2="730.0" y2="2250.3" stroke="#444" stroke-width="1"/>
<line x1="730.0" y1="2259.7" x2="730.0" y2="2268.0" stroke="#444" stroke-width="1"/>
<rect x="710.5" y="2250.3" width="39.0" height="9.4" fill="#6565cc" stroke="#333" stroke-width="0.8"/>
<line x1="710.5" y1="2253.0" x2="749.5" y2="2253.0" stroke="#222" stroke-width="1.6"/>
<line x1="753.9" y1="2250.3" x2="792.7" y2="2250.3" stroke="#222" stroke-width="1.6"/>
<line x1="844.6" y1="2200.0" x2="844.6" y2="2217.9" stroke="#444" stroke-width="1"/>
<line x1="844.6" y1="2250.3" x2="844.6" y2="2280.0" stroke="#444" stroke-width="1"/>
<rect x="825.3" y="2217.9" width="38.7" height="32.4" fill="#6565cc" stroke="#333" stroke-width="0.8"/>
<line x1="825.3" y1="2243.9" x2="864.0" y2="2243.9" stroke="#222" stroke-width="1.6"/>
<line x1="887.9" y1="2245.0" x2="887.9" y2="2272.0" stroke="#444" stroke-width="1"/>
<line x1="887.9" y1="2292.9" x2="887.9" y2="2297.0" stroke="#444" stroke-width="1"/>
<rect x="868.7" y="2272.0" width="38.3" height="20.9" fill="#dc5035" stroke="#333" stroke-width="0.8"/>
<line x1="868.7" y1="2280.9" x2="907.0" y2="2280.9" stroke="#222" stroke-width="1.6"/>
<circle cx="728.0" cy="2239.0" r="5.5" fill="#888" fill-opacity="0.25" stroke="#888" stroke-width="2.2" opacity="0.45"/>
<circle cx="728.0" cy="2250.0" r="5.5" fill="#888" fill-opacity="0.25" stroke="#888" stroke-width="2.2" opacity="0.45"/>
<circle cx="728.0" cy="2258.0" r="5.5" fill="#888" fill-opacity="0.25" stroke="#888" stroke-width="2.2" opacity="0.45"/>
<circle cx="728.0" cy="2268.0" r="5.5" fill="#888" fill-opacity="0.25" stroke="#888" stroke-width="2.2" opacity="0.45"/>
<circle cx="773.0" cy="2203.0" r="5.5" fill="#888" fill-opacity="0.25" stroke="#888" stroke-width="2.2" opacity="0.45"/>
<circle cx="773.0" cy="2250.0" r="5.5" fill="#888" fill-opacity="0.25" stroke="#888" stroke-width="2.2" opacity="0.45"/>
<circle cx="773.0" cy="2250.0" r="5.5" fill="#888" fill-opacity="0.25" stroke="#888" stroke-width="2.2" opacity="0.45"/>
<circle cx="773.0" cy="2278.0" r="5.5" fill="#888" fill-opacity="0.25" stroke="#888" stroke-width="2.2" opacity="0.45"/>
<circle cx="844.0" cy="2200.0" r="5.5" fill="#888" fill-opacity="0.25" stroke="#888" stroke-width="2.2" opacity="0.45"/>
<circle cx="844.0" cy="2210.0" r="5.5" fill="#888" fill-opacity="0.25" stroke="#888" stroke-width="2.2" opacity="0.45"/>
<circle cx="844.0" cy="2238.0" r="5.5" fill="#888" fill-opacity="0.25" stroke="#888" stroke-width="2.2" opacity="0.45"/>
<circle cx="844.0" cy="2250.0" r="5.5" fill="#888" fill-opacity="0.25" stroke="#888" stroke-width="2.2" opacity="0.45"/>
<circle cx="844.0" cy="2280.0" r="5.5" fill="#888" fill-opacity="0.25" stroke="#888" stroke-width="2.2" opacity="0.45"/>
<circle cx="887.0" cy="2245.0" r="5.5" fill="#888" fill-opacity="0.25" stroke="#888" stroke-width="2.2" opacity="0.45"/>
<circle cx="887.0" cy="2268.0" r="5.5" fill="#888" fill-opacity="0.25" stroke="#888" stroke-width="2.2" opacity="0.45"/>
<circle cx="887.0" cy="2297.0" r="5.5" fill="#888" fill-opacity="0.25" stroke="#888" stroke-width="2.2" opacity="0.45"/>
<circle cx="887.0" cy="2356.0" r="5.5" fill="#888" fill-opacity="0.25" stroke="#888" stroke-width="2.2" opacity="0.45"/>
<text transform="translate(608.3 2286.0) rotate(-90)" font-size="21" text-anchor="middle" fill="#000">Proximity</text>
<text transform="translate(635.1 2286.0) rotate(-90)" font-size="21" text-anchor="middle" fill="#000">enrichment</text>
<text transform="translate(777 2384.5) rotate(-29)" font-size="19" text-anchor="end" fill="#222">Triad with CXCL13<tspan dy="-6" font-size="11">+</tspan><tspan dy="6"> Th</tspan></text>
<text transform="translate(929 2374.5) rotate(-29)" font-size="19" text-anchor="end" fill="#222">Triad with TCF1<tspan dy="-6" font-size="11">+</tspan><tspan dy="6"> CD4</tspan></text>
<line x1="884.0" y1="2433.5" x2="884.0" y2="2466.5" stroke="#555" stroke-width="1"/>
<rect x="868.2" y="2439.5" width="31.6" height="20.8" fill="#6565cc" stroke="#444" stroke-width="0.6"/>
<line x1="868.2" y1="2449.9" x2="899.8" y2="2449.9" stroke="#333" stroke-width="1"/>
<circle cx="884.0" cy="2449.9" r="6.5" fill="#555" stroke="none" stroke-width="1" opacity="0.25"/>
<text x="916.4" y="2454.8" font-size="22.5" text-anchor="start" fill="#000">Responder</text>
<line x1="884.0" y1="2475.6" x2="884.0" y2="2508.6" stroke="#555" stroke-width="1"/>
<rect x="868.2" y="2481.6" width="31.6" height="20.8" fill="#dc5035" stroke="#444" stroke-width="0.6"/>
<line x1="868.2" y1="2492.0" x2="899.8" y2="2492.0" stroke="#333" stroke-width="1"/>
<circle cx="884.0" cy="2492.0" r="6.5" fill="#555" stroke="none" stroke-width="1" opacity="0.25"/>
<text x="916.4" y="2500.0" font-size="22.5" text-anchor="start" fill="#000">Non–responder/T cell rich</text>
<text x="989.5" y="1920.7" font-size="46.5" text-anchor="start" fill="#000">I</text>
<text x="1068.5" y="1960.7" font-size="20.5" text-anchor="start" fill="#000">Treatment-naive</text>
<line x1="1084.7" y1="1972.8" x2="1214.8" y2="1972.8" stroke="#222" stroke-width="1.6"/>
<line x1="1084.7" y1="1968.8" x2="1084.7" y2="1976.8" stroke="#222" stroke-width="1.6"/>
<line x1="1214.8" y1="1968.8" x2="1214.8" y2="1976.8" stroke="#222" stroke-width="1.6"/>
<line x1="1048.0" y1="2080.5" x2="1258.0" y2="2080.5" stroke="#ededed" stroke-width="1"/>
<line x1="1048.0" y1="2186.5" x2="1258.0" y2="2186.5" stroke="#ededed" stroke-width="1"/>
<line x1="1048.0" y1="2293.5" x2="1258.0" y2="2293.5" stroke="#ededed" stroke-width="1"/>
<line x1="1048.0" y1="2133.5" x2="1258.0" y2="2133.5" stroke="#f6f6f6" stroke-width="1"/>
<line x1="1048.0" y1="2240.5" x2="1258.0" y2="2240.5" stroke="#f6f6f6" stroke-width="1"/>
<line x1="1086.3" y1="2035.0" x2="1086.3" y2="2310.0" stroke="#efefef" stroke-width="1"/>
<line x1="1150.0" y1="2035.0" x2="1150.0" y2="2310.0" stroke="#efefef" stroke-width="1"/>
<line x1="1215.0" y1="2035.0" x2="1215.0" y2="2310.0" stroke="#efefef" stroke-width="1"/>
<text x="1035.2" y="2086.0" font-size="15.5" text-anchor="end" fill="#4d4d4d">100</text>
<text x="1035.2" y="2194.5" font-size="15.5" text-anchor="end" fill="#4d4d4d">10</text>
<text x="1035.2" y="2301.5" font-size="15.5" text-anchor="end" fill="#4d4d4d">1</text>
<line x1="1087.1" y1="2198.8" x2="1087.1" y2="2239.3" stroke="#444" stroke-width="1"/>
<rect x="1062.7" y="2239.3" width="48.8" height="49.0" fill="#fff" stroke="#444" stroke-width="1.1"/>
<line x1="1062.7" y1="2271.1" x2="1111.5" y2="2271.1" stroke="#222" stroke-width="1.3"/>
<line x1="1151.3" y1="2048.0" x2="1151.3" y2="2112.4" stroke="#444" stroke-width="1"/>
<line x1="1151.3" y1="2217.9" x2="1151.3" y2="2277.2" stroke="#444" stroke-width="1"/>
<rect x="1127.0" y="2112.4" width="48.7" height="105.5" fill="#fff" stroke="#444" stroke-width="1.1"/>
<line x1="1127.0" y1="2160.3" x2="1175.7" y2="2160.3" stroke="#222" stroke-width="1.3"/>
<line x1="1215.6" y1="2229.4" x2="1215.6" y2="2243.4" stroke="#444" stroke-width="1"/>
<rect x="1191.5" y="2243.4" width="48.2" height="44.7" fill="#fff" stroke="#444" stroke-width="1.1"/>
<line x1="1191.5" y1="2271.1" x2="1239.7" y2="2271.1" stroke="#222" stroke-width="1.3"/>
<circle cx="1089.0" cy="2122.0" r="3.8" fill="#999" stroke="none" stroke-width="1" opacity="0.35"/>
<circle cx="1090.0" cy="2137.0" r="3.8" fill="#999" stroke="none" stroke-width="1" opacity="0.35"/>
<circle cx="1083.0" cy="2199.0" r="3.8" fill="#999" stroke="none" stroke-width="1" opacity="0.35"/>
<circle cx="1087.0" cy="2226.0" r="3.8" fill="#999" stroke="none" stroke-width="1" opacity="0.35"/>
<circle cx="1084.0" cy="2258.0" r="3.8" fill="#999" stroke="none" stroke-width="1" opacity="0.35"/>
<circle cx="1082.0" cy="2267.0" r="3.8" fill="#999" stroke="none" stroke-width="1" opacity="0.35"/>
<circle cx="1086.0" cy="2275.0" r="3.8" fill="#999" stroke="none" stroke-width="1" opacity="0.35"/>
<circle cx="1087.0" cy="2292.0" r="3.8" fill="#999" stroke="none" stroke-width="1" opacity="0.35"/>
<circle cx="1091.0" cy="2289.0" r="3.8" fill="#999" stroke="none" stroke-width="1" opacity="0.35"/>
<circle cx="1083.0" cy="2291.0" r="3.8" fill="#999" stroke="none" stroke-width="1" opacity="0.35"/>
<circle cx="1080.0" cy="2296.0" r="3.8" fill="#999" stroke="none" stroke-width="1" opacity="0.35"/>
<circle cx="1153.0" cy="2050.0" r="3.8" fill="#999" stroke="none" stroke-width="1" opacity="0.35"/>
<circle cx="1146.0" cy="2088.0" r="3.8" fill="#999" stroke="none" stroke-width="1" opacity="0.35"/>
<circle cx="1149.0" cy="2093.0" r="3.8" fill="#999" stroke="none" stroke-width="1" opacity="0.35"/>
<circle cx="1146.0" cy="2113.0" r="3.8" fill="#999" stroke="none" stroke-width="1" opacity="0.35"/>
<circle cx="1154.0" cy="2117.0" r="3.8" fill="#999" stroke="none" stroke-width="1" opacity="0.35"/>
<circle cx="1155.0" cy="2128.0" r="3.8" fill="#999" stroke="none" stroke-width="1" opacity="0.35"/>
<circle cx="1148.0" cy="2132.0" r="3.8" fill="#999" stroke="none" stroke-width="1" opacity="0.35"/>
<circle cx="1153.0" cy="2188.0" r="3.8" fill="#999" stroke="none" stroke-width="1" opacity="0.35"/>
<circle cx="1156.0" cy="2209.0" r="3.8" fill="#999" stroke="none" stroke-width="1" opacity="0.35"/>
<circle cx="1148.0" cy="2226.0" r="3.8" fill="#999" stroke="none" stroke-width="1" opacity="0.35"/>
<circle cx="1157.0" cy="2253.0" r="3.8" fill="#999" stroke="none" stroke-width="1" opacity="0.35"/>
<circle cx="1148.0" cy="2277.0" r="3.8" fill="#999" stroke="none" stroke-width="1" opacity="0.35"/>
<circle cx="1154.0" cy="2218.0" r="3.8" fill="#999" stroke="none" stroke-width="1" opacity="0.35"/>
<circle cx="1210.0" cy="2161.0" r="3.8" fill="#999" stroke="none" stroke-width="1" opacity="0.35"/>
<circle cx="1221.0" cy="2173.0" r="3.8" fill="#999" stroke="none" stroke-width="1" opacity="0.35"/>
<circle cx="1220.0" cy="2176.0" r="3.8" fill="#999" stroke="none" stroke-width="1" opacity="0.35"/>
<circle cx="1209.0" cy="2230.0" r="3.8" fill="#999" stroke="none" stroke-width="1" opacity="0.35"/>
<circle cx="1211.0" cy="2250.0" r="3.8" fill="#999" stroke="none" stroke-width="1" opacity="0.35"/>
<circle cx="1219.0" cy="2268.0" r="3.8" fill="#999" stroke="none" stroke-width="1" opacity="0.35"/>
<circle cx="1218.0" cy="2275.0" r="3.8" fill="#999" stroke="none" stroke-width="1" opacity="0.35"/>
<circle cx="1216.0" cy="2284.0" r="3.8" fill="#999" stroke="none" stroke-width="1" opacity="0.35"/>
<circle cx="1210.0" cy="2288.0" r="3.8" fill="#999" stroke="none" stroke-width="1" opacity="0.35"/>
<circle cx="1220.0" cy="2291.0" r="3.8" fill="#999" stroke="none" stroke-width="1" opacity="0.35"/>
<text transform="translate(991 2200) rotate(-90)" font-size="21.5" text-anchor="middle">Density (cells/mm<tspan dy="-7" font-size="14">2</tspan><tspan dy="7">)</tspan></text>
<text transform="translate(1107 2339) rotate(-36)" font-size="19" text-anchor="end" fill="#222">CXCL13<tspan dy="-6" font-size="11">+</tspan><tspan dy="6"> Th</tspan></text>
<text transform="translate(1163 2340) rotate(-36)" font-size="19" text-anchor="end" fill="#222">TCF1<tspan dy="-6" font-size="11">+</tspan><tspan dy="6"> CD4</tspan></text>
<text transform="translate(1226.5 2339) rotate(-36)" font-size="19" text-anchor="end" fill="#222">Progenitor CD8</text>
<text x="1274.2" y="1920.8" font-size="46.5" text-anchor="start" fill="#000">J</text>
<text x="1371.6" y="1959.6" font-size="20.5" text-anchor="start" fill="#000">Treatment-naive</text>
<line x1="1366.5" y1="1973.5" x2="1521.6" y2="1973.5" stroke="#222" stroke-width="1.6"/>
<line x1="1366.5" y1="1969.5" x2="1366.5" y2="1977.5" stroke="#222" stroke-width="1.6"/>
<line x1="1521.6" y1="1969.5" x2="1521.6" y2="1977.5" stroke="#222" stroke-width="1.6"/>
<line x1="1375.0" y1="2026.3" x2="1528.0" y2="2026.3" stroke="#ededed" stroke-width="1"/>
<line x1="1375.0" y1="2075.9" x2="1528.0" y2="2075.9" stroke="#ededed" stroke-width="1"/>
<line x1="1375.0" y1="2159.5" x2="1528.0" y2="2159.5" stroke="#ededed" stroke-width="1"/>
<line x1="1375.0" y1="2052.4" x2="1528.0" y2="2052.4" stroke="#f6f6f6" stroke-width="1"/>
<line x1="1375.0" y1="2118.4" x2="1528.0" y2="2118.4" stroke="#f6f6f6" stroke-width="1"/>
<line x1="1403.3" y1="2020.0" x2="1403.3" y2="2170.0" stroke="#efefef" stroke-width="1"/>
<line x1="1488.6" y1="2020.0" x2="1488.6" y2="2170.0" stroke="#efefef" stroke-width="1"/>
<text x="1367.6" y="2031.8" font-size="15.5" text-anchor="end" fill="#4d4d4d">3</text>
<text x="1367.6" y="2081.4" font-size="15.5" text-anchor="end" fill="#4d4d4d">2</text>
<text x="1367.6" y="2164.7" font-size="15.5" text-anchor="end" fill="#4d4d4d">1</text>
<circle cx="1385.0" cy="2157.0" r="5.0" fill="none" stroke="#777" stroke-width="2" opacity="0.55"/>
<circle cx="1389.0" cy="2161.0" r="5.0" fill="none" stroke="#777" stroke-width="2" opacity="0.55"/>
<circle cx="1405.0" cy="2150.0" r="5.0" fill="none" stroke="#777" stroke-width="2" opacity="0.55"/>
<circle cx="1410.0" cy="2161.0" r="5.0" fill="none" stroke="#777" stroke-width="2" opacity="0.55"/>
<circle cx="1414.0" cy="2161.0" r="5.0" fill="none" stroke="#777" stroke-width="2" opacity="0.55"/>
<circle cx="1418.0" cy="2161.0" r="5.0" fill="none" stroke="#777" stroke-width="2" opacity="0.55"/>
<circle cx="1422.0" cy="2161.0" r="5.0" fill="none" stroke="#777" stroke-width="2" opacity="0.55"/>
<circle cx="1415.0" cy="2155.0" r="5.0" fill="none" stroke="#777" stroke-width="2" opacity="0.55"/>
<circle cx="1399.0" cy="2161.0" r="5.0" fill="none" stroke="#777" stroke-width="2" opacity="0.55"/>
<circle cx="1394.0" cy="2161.0" r="5.0" fill="none" stroke="#777" stroke-width="2" opacity="0.55"/>
<circle cx="1514.0" cy="2031.0" r="5.0" fill="none" stroke="#777" stroke-width="2" opacity="0.55"/>
<circle cx="1483.0" cy="2053.0" r="5.0" fill="none" stroke="#777" stroke-width="2" opacity="0.55"/>
<circle cx="1495.0" cy="2122.0" r="5.0" fill="none" stroke="#777" stroke-width="2" opacity="0.55"/>
<circle cx="1490.0" cy="2141.0" r="5.0" fill="none" stroke="#777" stroke-width="2" opacity="0.55"/>
<circle cx="1503.0" cy="2141.0" r="5.0" fill="none" stroke="#777" stroke-width="2" opacity="0.55"/>
<circle cx="1501.0" cy="2147.0" r="5.0" fill="none" stroke="#777" stroke-width="2" opacity="0.55"/>
<circle cx="1475.0" cy="2157.0" r="5.0" fill="none" stroke="#777" stroke-width="2" opacity="0.55"/>
<circle cx="1482.0" cy="2161.0" r="5.0" fill="none" stroke="#777" stroke-width="2" opacity="0.55"/>
<circle cx="1486.0" cy="2161.0" r="5.0" fill="none" stroke="#777" stroke-width="2" opacity="0.55"/>
<circle cx="1490.0" cy="2161.0" r="5.0" fill="none" stroke="#777" stroke-width="2" opacity="0.55"/>
<circle cx="1494.0" cy="2161.0" r="5.0" fill="none" stroke="#777" stroke-width="2" opacity="0.55"/>
<circle cx="1498.0" cy="2161.0" r="5.0" fill="none" stroke="#777" stroke-width="2" opacity="0.55"/>
<circle cx="1502.0" cy="2161.0" r="5.0" fill="none" stroke="#777" stroke-width="2" opacity="0.55"/>
<text transform="translate(1319.9 2179.0) rotate(-90)" font-size="21">Contact density <tspan font-size="13.5">(50 µm)</tspan></text>
<line x1="1375.0" y1="2192.3" x2="1528.0" y2="2192.3" stroke="#ededed" stroke-width="1"/>
<line x1="1375.0" y1="2227.6" x2="1528.0" y2="2227.6" stroke="#ededed" stroke-width="1"/>
<line x1="1375.0" y1="2262.1" x2="1528.0" y2="2262.1" stroke="#ededed" stroke-width="1"/>
<line x1="1375.0" y1="2210.0" x2="1528.0" y2="2210.0" stroke="#f6f6f6" stroke-width="1"/>
<line x1="1375.0" y1="2245.0" x2="1528.0" y2="2245.0" stroke="#f6f6f6" stroke-width="1"/>
<line x1="1375.0" y1="2280.0" x2="1528.0" y2="2280.0" stroke="#f6f6f6" stroke-width="1"/>
<line x1="1375.0" y1="2315.0" x2="1528.0" y2="2315.0" stroke="#f6f6f6" stroke-width="1"/>
<line x1="1403.3" y1="2185.0" x2="1403.3" y2="2330.0" stroke="#efefef" stroke-width="1"/>
<line x1="1488.6" y1="2185.0" x2="1488.6" y2="2330.0" stroke="#efefef" stroke-width="1"/>
<line x1="1375.0" y1="2297.4" x2="1521.4" y2="2297.4" stroke="#888" stroke-width="1.2"/>
<text x="1367.6" y="2197.8" font-size="15.5" text-anchor="end" fill="#4d4d4d">3</text>
<text x="1367.6" y="2233.1" font-size="15.5" text-anchor="end" fill="#4d4d4d">2</text>
<text x="1367.6" y="2267.6" font-size="15.5" text-anchor="end" fill="#4d4d4d">1</text>
<text x="1367.6" y="2302.5" font-size="15.5" text-anchor="end" fill="#4d4d4d">0</text>
<circle cx="1388.0" cy="2265.0" r="5.0" fill="none" stroke="#777" stroke-width="2" opacity="0.55"/>
<circle cx="1405.0" cy="2262.0" r="5.0" fill="none" stroke="#777" stroke-width="2" opacity="0.55"/>
<circle cx="1398.0" cy="2224.0" r="5.0" fill="none" stroke="#777" stroke-width="2" opacity="0.55"/>
<circle cx="1398.0" cy="2283.0" r="5.0" fill="none" stroke="#777" stroke-width="2" opacity="0.55"/>
<circle cx="1418.0" cy="2297.0" r="5.0" fill="none" stroke="#777" stroke-width="2" opacity="0.55"/>
<circle cx="1386.0" cy="2297.0" r="5.0" fill="none" stroke="#777" stroke-width="2" opacity="0.55"/>
<circle cx="1390.0" cy="2297.0" r="5.0" fill="none" stroke="#777" stroke-width="2" opacity="0.55"/>
<circle cx="1394.0" cy="2297.0" r="5.0" fill="none" stroke="#777" stroke-width="2" opacity="0.55"/>
<circle cx="1398.0" cy="2297.0" r="5.0" fill="none" stroke="#777" stroke-width="2" opacity="0.55"/>
<circle cx="1402.0" cy="2297.0" r="5.0" fill="none" stroke="#777" stroke-width="2" opacity="0.55"/>
<circle cx="1406.0" cy="2297.0" r="5.0" fill="none" stroke="#777" stroke-width="2" opacity="0.55"/>
<circle cx="1410.0" cy="2297.0" r="5.0" fill="none" stroke="#777" stroke-width="2" opacity="0.55"/>
<circle cx="1484.0" cy="2192.0" r="5.0" fill="none" stroke="#777" stroke-width="2" opacity="0.55"/>
<circle cx="1499.0" cy="2195.0" r="5.0" fill="none" stroke="#777" stroke-width="2" opacity="0.55"/>
<circle cx="1490.0" cy="2218.0" r="5.0" fill="none" stroke="#777" stroke-width="2" opacity="0.55"/>
<circle cx="1502.0" cy="2238.0" r="5.0" fill="none" stroke="#777" stroke-width="2" opacity="0.55"/>
<circle cx="1479.0" cy="2263.0" r="5.0" fill="none" stroke="#777" stroke-width="2" opacity="0.55"/>
<circle cx="1482.0" cy="2288.0" r="5.0" fill="none" stroke="#777" stroke-width="2" opacity="0.55"/>
<circle cx="1480.0" cy="2297.0" r="5.0" fill="none" stroke="#777" stroke-width="2" opacity="0.55"/>
<circle cx="1486.0" cy="2297.0" r="5.0" fill="none" stroke="#777" stroke-width="2" opacity="0.55"/>
<circle cx="1492.0" cy="2297.0" r="5.0" fill="none" stroke="#777" stroke-width="2" opacity="0.55"/>
<circle cx="1496.0" cy="2297.0" r="5.0" fill="none" stroke="#777" stroke-width="2" opacity="0.55"/>
<circle cx="1500.0" cy="2297.0" r="5.0" fill="none" stroke="#777" stroke-width="2" opacity="0.55"/>
<circle cx="1518.0" cy="2297.0" r="5.0" fill="none" stroke="#777" stroke-width="2" opacity="0.55"/>
<circle cx="1498.0" cy="2312.0" r="5.0" fill="none" stroke="#777" stroke-width="2" opacity="0.55"/>
<circle cx="1501.0" cy="2316.0" r="5.0" fill="none" stroke="#777" stroke-width="2" opacity="0.55"/>
<circle cx="1482.0" cy="2322.0" r="5.0" fill="none" stroke="#777" stroke-width="2" opacity="0.55"/>
<text transform="translate(1301.2 2258.0) rotate(-90)" font-size="21" text-anchor="middle" fill="#000">Proximity</text>
<text transform="translate(1330.5 2258.0) rotate(-90)" font-size="21" text-anchor="middle" fill="#000">enrichment</text>
<text transform="translate(1406 2349.5) rotate(-29)" font-size="19" text-anchor="end" fill="#222">Triad with CXCL13<tspan dy="-6" font-size="11">+</tspan><tspan dy="6"> Th</tspan></text>
<text transform="translate(1511 2347.5) rotate(-29)" font-size="19" text-anchor="end" fill="#222">Triad with TCF1<tspan dy="-6" font-size="11">+</tspan><tspan dy="6"> CD4</tspan></text>
<text x="7.2" y="1287.0" font-size="46.5" text-anchor="start" fill="#000">D</text>
<text x="349.0" y="1273.3" font-size="23.6" text-anchor="start" fill="#4a4a4a">Responder</text>
<svg x="79.0" y="1287.5" width="175.0" height="246.0" overflow="hidden">
<rect width="175.0" height="246.0" fill="#18286a"/>
<rect x="-63.4" y="-27.9" width="301.9" height="301.9" filter="url(#f34)" transform="rotate(35 87.5 123.0)"/>
<rect x="-63.4" y="-27.9" width="301.9" height="301.9" filter="url(#f35)" transform="rotate(35 87.5 123.0)"/>
<ellipse cx="21.0" cy="17.2" rx="21.0" ry="12.3" fill="#05030f" opacity="0.85" filter="url(#blur6)"/>
<ellipse cx="126.0" cy="49.2" rx="17.5" ry="14.8" fill="#05030f" opacity="0.75" filter="url(#blur6)"/>
<ellipse cx="161.0" cy="68.9" rx="14.0" ry="12.3" fill="#05030f" opacity="0.7" filter="url(#blur6)"/>
<ellipse cx="105.0" cy="164.8" rx="8.8" ry="8.6" fill="#05030f" opacity="0.85" filter="url(#blur6)"/>
<ellipse cx="17.5" cy="135.3" rx="8.8" ry="9.8" fill="#05030f" opacity="0.4" filter="url(#blur6)"/>
<ellipse cx="78.8" cy="61.5" rx="8.8" ry="9.8" fill="#05030f" opacity="0.5" filter="url(#blur6)"/>
<text x="7" y="18" font-size="17" fill="#fff" font-family='"DejaVu Sans", sans-serif' letter-spacing="-0.45">CD3</text>
<rect x="0" y="224.0" width="52" height="22" fill="#000"/>
<text x="26.0" y="233.5" font-size="9.5" fill="#fff" text-anchor="middle" font-family='"DejaVu Sans", sans-serif'>50 µm</text>
<path d="M7 237.5 H45 M7 234.0 V241.0 M45 234.0 V241.0" stroke="#fff" stroke-width="2" fill="none"/>
</svg>
<svg x="256.0" y="1287.5" width="175.0" height="246.0" overflow="hidden">
<rect width="175.0" height="246.0" fill="#161450"/>
<rect x="-63.4" y="-27.9" width="301.9" height="301.9" filter="url(#f36)" transform="rotate(35 87.5 123.0)"/>
<rect x="-63.4" y="-27.9" width="301.9" height="301.9" filter="url(#f37)" transform="rotate(35 87.5 123.0)"/>
<ellipse cx="21.0" cy="17.2" rx="21.0" ry="12.3" fill="#05030f" opacity="0.85" filter="url(#blur6)"/>
<ellipse cx="126.0" cy="49.2" rx="17.5" ry="14.8" fill="#05030f" opacity="0.75" filter="url(#blur6)"/>
<ellipse cx="161.0" cy="68.9" rx="14.0" ry="12.3" fill="#05030f" opacity="0.7" filter="url(#blur6)"/>
<ellipse cx="105.0" cy="164.8" rx="8.8" ry="8.6" fill="#05030f" opacity="0.85" filter="url(#blur6)"/>
<ellipse cx="17.5" cy="135.3" rx="8.8" ry="9.8" fill="#05030f" opacity="0.4" filter="url(#blur6)"/>
<ellipse cx="78.8" cy="61.5" rx="8.8" ry="9.8" fill="#05030f" opacity="0.5" filter="url(#blur6)"/>
<g fill="#ee2e78" filter="url(#blur1)"><circle cx="161.2" cy="58.8" r="2.2"/><circle cx="45.3" cy="124.9" r="2.1"/><circle cx="65.0" cy="134.7" r="1.2"/><circle cx="166.7" cy="242.7" r="1.2"/><circle cx="25.9" cy="126.6" r="1.6"/><circle cx="135.5" cy="97.3" r="1.7"/><circle cx="32.2" cy="67.8" r="1.1"/><circle cx="96.9" cy="147.0" r="1.7"/><circle cx="162.4" cy="89.0" r="1.4"/><circle cx="83.0" cy="233.8" r="1.4"/><circle cx="54.0" cy="116.3" r="1.8"/><circle cx="52.2" cy="58.8" r="1.9"/><circle cx="101.9" cy="150.7" r="1.0"/><circle cx="47.1" cy="42.7" r="1.4"/><circle cx="157.4" cy="243.5" r="2.0"/><circle cx="67.3" cy="147.7" r="2.1"/><circle cx="62.9" cy="110.0" r="1.9"/><circle cx="62.8" cy="126.9" r="1.4"/><circle cx="143.6" cy="137.0" r="1.1"/><circle cx="7.9" cy="165.1" r="1.1"/><circle cx="117.7" cy="70.0" r="1.6"/><circle cx="62.9" cy="167.8" r="1.2"/><circle cx="73.9" cy="168.4" r="1.3"/><circle cx="171.8" cy="244.0" r="2.2"/><circle cx="161.7" cy="232.7" r="1.7"/><circle cx="146.0" cy="111.6" r="1.1"/><circle cx="160.7" cy="227.7" r="1.3"/><circle cx="68.3" cy="72.7" r="1.9"/><circle cx="33.6" cy="203.8" r="1.0"/><circle cx="73.0" cy="196.7" r="1.6"/><circle cx="28.4" cy="26.4" r="1.8"/><circle cx="18.0" cy="83.5" r="1.7"/><circle cx="57.2" cy="28.0" r="2.0"/><circle cx="126.7" cy="158.2" r="1.1"/><circle cx="86.7" cy="237.9" r="1.6"/><circle cx="48.0" cy="231.7" r="1.4"/><circle cx="93.1" cy="56.8" r="2.0"/><circle cx="120.0" cy="139.8" r="1.6"/><circle cx="62.4" cy="123.7" r="1.6"/><circle cx="8.5" cy="181.0" r="1.9"/><circle cx="10.0" cy="50.3" r="1.9"/><circle cx="63.4" cy="51.7" r="1.8"/><circle cx="170.4" cy="99.7" r="1.7"/><circle cx="97.6" cy="145.6" r="1.7"/><circle cx="158.8" cy="214.7" r="2.1"/><circle cx="120.9" cy="192.1" r="1.9"/><circle cx="129.9" cy="174.8" r="1.9"/><circle cx="15.1" cy="58.0" r="1.8"/><circle cx="76.3" cy="71.6" r="1.8"/><circle cx="39.2" cy="191.0" r="1.4"/><circle cx="159.2" cy="91.1" r="2.2"/><circle cx="60.3" cy="196.8" r="1.2"/><circle cx="89.8" cy="100.5" r="2.0"/><circle cx="124.9" cy="148.8" r="1.1"/><circle cx="93.1" cy="73.7" r="1.1"/><circle cx="123.4" cy="143.2" r="2.2"/><circle cx="146.8" cy="29.5" r="2.1"/><circle cx="94.3" cy="244.0" r="1.4"/><circle cx="83.9" cy="176.9" r="1.3"/><circle cx="73.5" cy="95.8" r="1.4"/><circle cx="96.1" cy="133.0" r="2.1"/><circle cx="46.7" cy="74.3" r="1.3"/><circle cx="6.0" cy="94.2" r="1.4"/><circle cx="21.0" cy="136.9" r="1.1"/><circle cx="138.8" cy="232.9" r="1.7"/><circle cx="39.0" cy="54.2" r="1.1"/><circle cx="36.1" cy="211.8" r="1.9"/><circle cx="149.9" cy="102.6" r="1.7"/><circle cx="125.2" cy="169.0" r="1.8"/><circle cx="10.3" cy="245.0" r="1.7"/><circle cx="52.6" cy="93.5" r="1.9"/><circle cx="160.7" cy="28.2" r="1.3"/><circle cx="13.7" cy="165.9" r="1.7"/><circle cx="109.4" cy="62.7" r="1.5"/><circle cx="153.0" cy="93.2" r="1.2"/><circle cx="40.9" cy="200.7" r="1.3"/><circle cx="124.1" cy="158.3" r="2.0"/><circle cx="15.5" cy="87.6" r="2.1"/><circle cx="88.9" cy="39.1" r="1.1"/><circle cx="36.5" cy="169.1" r="1.4"/><circle cx="21.6" cy="79.1" r="2.0"/><circle cx="126.2" cy="128.3" r="1.3"/><circle cx="21.6" cy="44.9" r="2.1"/><circle cx="108.2" cy="22.2" r="1.9"/><circle cx="163.9" cy="109.5" r="2.1"/><circle cx="60.6" cy="97.9" r="1.5"/><circle cx="91.3" cy="105.3" r="1.3"/><circle cx="19.1" cy="86.8" r="1.7"/><circle cx="150.6" cy="178.5" r="1.6"/><circle cx="73.6" cy="55.7" r="1.8"/><circle cx="138.9" cy="99.3" r="1.9"/><circle cx="146.6" cy="99.5" r="1.0"/><circle cx="145.4" cy="135.6" r="1.1"/><circle cx="107.2" cy="162.1" r="1.7"/><circle cx="114.5" cy="143.1" r="1.1"/><circle cx="155.4" cy="169.0" r="2.0"/><circle cx="92.1" cy="173.8" r="1.6"/><circle cx="130.9" cy="40.1" r="1.4"/><circle cx="135.1" cy="100.0" r="1.6"/><circle cx="64.5" cy="194.2" r="1.1"/><circle cx="54.8" cy="34.1" r="1.1"/><circle cx="71.8" cy="233.1" r="1.2"/><circle cx="108.9" cy="188.1" r="1.8"/><circle cx="12.0" cy="25.6" r="1.9"/><circle cx="43.0" cy="196.1" r="1.8"/><circle cx="168.4" cy="108.7" r="2.0"/><circle cx="31.3" cy="80.0" r="1.5"/><circle cx="67.2" cy="142.4" r="1.3"/><circle cx="25.8" cy="126.9" r="1.6"/><circle cx="142.6" cy="149.1" r="1.6"/><circle cx="42.5" cy="184.3" r="2.1"/><circle cx="15.9" cy="83.5" r="1.9"/><circle cx="46.5" cy="35.5" r="1.3"/><circle cx="169.8" cy="53.3" r="1.1"/><circle cx="119.7" cy="53.6" r="2.0"/><circle cx="51.5" cy="127.2" r="1.6"/><circle cx="156.4" cy="230.4" r="1.3"/><circle cx="54.6" cy="41.0" r="1.2"/><circle cx="148.9" cy="75.4" r="1.6"/><circle cx="98.4" cy="85.7" r="1.1"/><circle cx="5.9" cy="76.5" r="2.0"/><circle cx="43.4" cy="83.9" r="2.1"/><circle cx="158.5" cy="36.2" r="1.9"/><circle cx="78.1" cy="118.2" r="2.0"/><circle cx="6.6" cy="139.7" r="2.1"/><circle cx="167.6" cy="199.0" r="1.6"/><circle cx="52.1" cy="237.7" r="1.0"/><circle cx="23.7" cy="84.2" r="2.2"/><circle cx="71.7" cy="219.0" r="1.1"/><circle cx="52.9" cy="81.6" r="1.0"/><circle cx="136.2" cy="197.7" r="1.7"/><circle cx="60.7" cy="167.2" r="1.9"/><circle cx="54.9" cy="121.0" r="1.0"/><circle cx="158.9" cy="26.7" r="1.2"/><circle cx="155.0" cy="29.7" r="1.2"/><circle cx="77.1" cy="245.8" r="2.1"/><circle cx="40.8" cy="171.3" r="1.3"/><circle cx="72.6" cy="214.9" r="1.2"/><circle cx="48.7" cy="224.6" r="1.3"/><circle cx="19.8" cy="139.1" r="1.4"/><circle cx="65.7" cy="72.7" r="1.8"/><circle cx="167.0" cy="60.4" r="1.2"/><circle cx="17.3" cy="142.9" r="1.1"/><circle cx="32.7" cy="201.1" r="2.1"/><circle cx="89.3" cy="226.6" r="1.3"/><circle cx="119.5" cy="181.9" r="1.7"/><circle cx="62.5" cy="57.3" r="1.2"/><circle cx="136.8" cy="179.4" r="1.7"/><circle cx="134.6" cy="32.0" r="2.0"/><circle cx="113.0" cy="174.6" r="1.3"/><circle cx="163.1" cy="86.2" r="1.4"/><circle cx="173.1" cy="142.7" r="1.8"/><circle cx="140.9" cy="211.7" r="1.6"/><circle cx="35.2" cy="145.0" r="1.2"/><circle cx="90.8" cy="48.4" r="2.2"/><circle cx="74.0" cy="184.2" r="1.8"/><circle cx="73.3" cy="103.7" r="1.0"/><circle cx="149.0" cy="32.8" r="1.3"/><circle cx="91.7" cy="75.8" r="1.9"/><circle cx="152.0" cy="131.7" r="2.2"/><circle cx="38.9" cy="169.4" r="2.2"/><circle cx="17.0" cy="178.0" r="1.8"/><circle cx="136.2" cy="166.0" r="2.0"/><circle cx="54.7" cy="150.2" r="1.0"/><circle cx="8.1" cy="189.0" r="1.4"/><circle cx="125.2" cy="46.6" r="1.8"/><circle cx="170.8" cy="230.2" r="1.8"/><circle cx="10.3" cy="124.4" r="1.8"/><circle cx="91.3" cy="195.1" r="1.4"/><circle cx="138.4" cy="185.9" r="1.8"/><circle cx="61.1" cy="141.6" r="1.6"/><circle cx="28.4" cy="67.3" r="1.8"/><circle cx="45.4" cy="240.3" r="1.1"/><circle cx="29.0" cy="81.6" r="1.1"/><circle cx="28.5" cy="84.1" r="2.1"/><circle cx="66.7" cy="141.0" r="1.1"/><circle cx="66.5" cy="224.1" r="2.1"/><circle cx="83.5" cy="192.5" r="2.0"/><circle cx="70.3" cy="93.5" r="2.1"/><circle cx="46.5" cy="197.2" r="1.3"/><circle cx="171.8" cy="241.4" r="1.4"/><circle cx="23.0" cy="245.4" r="1.7"/><circle cx="148.6" cy="101.5" r="1.8"/><circle cx="34.0" cy="71.8" r="1.9"/><circle cx="39.4" cy="73.2" r="1.8"/><circle cx="44.0" cy="227.3" r="2.1"/><circle cx="108.3" cy="205.0" r="2.0"/><circle cx="25.2" cy="105.2" r="1.6"/><circle cx="146.0" cy="44.3" r="2.1"/><circle cx="81.1" cy="199.4" r="1.3"/></g>
<text x="7" y="18" font-size="17" fill="#fff" font-family='"DejaVu Sans", sans-serif' letter-spacing="-0.45">TCF1</text>
<rect x="0" y="224.0" width="52" height="22" fill="#000"/>
<text x="26.0" y="233.5" font-size="9.5" fill="#fff" text-anchor="middle" font-family='"DejaVu Sans", sans-serif'>50 µm</text>
<path d="M7 237.5 H45 M7 234.0 V241.0 M45 234.0 V241.0" stroke="#fff" stroke-width="2" fill="none"/>
</svg>
<svg x="433.0" y="1287.5" width="175.0" height="246.0" overflow="hidden">
<rect width="175.0" height="246.0" fill="#161450"/>
<rect x="-63.4" y="-27.9" width="301.9" height="301.9" filter="url(#f38)" transform="rotate(35 87.5 123.0)"/>
<rect x="-63.4" y="-27.9" width="301.9" height="301.9" filter="url(#f39)" transform="rotate(35 87.5 123.0)"/>
<ellipse cx="21.0" cy="17.2" rx="21.0" ry="12.3" fill="#05030f" opacity="0.85" filter="url(#blur6)"/>
<ellipse cx="126.0" cy="49.2" rx="17.5" ry="14.8" fill="#05030f" opacity="0.75" filter="url(#blur6)"/>
<ellipse cx="161.0" cy="68.9" rx="14.0" ry="12.3" fill="#05030f" opacity="0.7" filter="url(#blur6)"/>
<ellipse cx="105.0" cy="164.8" rx="8.8" ry="8.6" fill="#05030f" opacity="0.85" filter="url(#blur6)"/>
<ellipse cx="17.5" cy="135.3" rx="8.8" ry="9.8" fill="#05030f" opacity="0.4" filter="url(#blur6)"/>
<ellipse cx="78.8" cy="61.5" rx="8.8" ry="9.8" fill="#05030f" opacity="0.5" filter="url(#blur6)"/>
<g fill="#40d890" filter="url(#blur1)"><circle cx="71.0" cy="191.7" r="4.8"/><circle cx="73.4" cy="186.6" r="4.5"/><circle cx="48.4" cy="189.5" r="3.1"/></g>
<g fill="#40d890" filter="url(#blur1)"><circle cx="69.0" cy="57.6" r="3.9"/><circle cx="58.3" cy="57.7" r="4.3"/></g>
<g fill="#40d890" filter="url(#blur1)"><circle cx="125.1" cy="217.9" r="3.5"/><circle cx="164.6" cy="238.3" r="3.8"/><circle cx="148.8" cy="216.4" r="3.4"/><circle cx="131.2" cy="229.5" r="3.2"/></g>
<text x="7" y="18" font-size="17" fill="#fff" font-family='"DejaVu Sans", sans-serif' letter-spacing="-0.45">CLEC9A</text>
<rect x="0" y="224.0" width="52" height="22" fill="#000"/>
<text x="26.0" y="233.5" font-size="9.5" fill="#fff" text-anchor="middle" font-family='"DejaVu Sans", sans-serif'>50 µm</text>
<path d="M7 237.5 H45 M7 234.0 V241.0 M45 234.0 V241.0" stroke="#fff" stroke-width="2" fill="none"/>
</svg>
<svg x="611.4" y="1287.5" width="175.0" height="246.0" overflow="hidden">
<rect width="175.0" height="246.0" fill="#2a2060"/>
<rect x="-63.4" y="-27.9" width="301.9" height="301.9" filter="url(#f40)" transform="rotate(35 87.5 123.0)"/>
<rect x="-63.4" y="-27.9" width="301.9" height="301.9" filter="url(#f41)" transform="rotate(35 87.5 123.0)"/>
<rect x="-63.4" y="-27.9" width="301.9" height="301.9" filter="url(#f42)" transform="rotate(35 87.5 123.0)"/>
<ellipse cx="21.0" cy="17.2" rx="21.0" ry="12.3" fill="#05030f" opacity="0.85" filter="url(#blur6)"/>
<ellipse cx="126.0" cy="49.2" rx="17.5" ry="14.8" fill="#05030f" opacity="0.75" filter="url(#blur6)"/>
<ellipse cx="161.0" cy="68.9" rx="14.0" ry="12.3" fill="#05030f" opacity="0.7" filter="url(#blur6)"/>
<ellipse cx="105.0" cy="164.8" rx="8.8" ry="8.6" fill="#05030f" opacity="0.85" filter="url(#blur6)"/>
<ellipse cx="17.5" cy="135.3" rx="8.8" ry="9.8" fill="#05030f" opacity="0.4" filter="url(#blur6)"/>
<ellipse cx="78.8" cy="61.5" rx="8.8" ry="9.8" fill="#05030f" opacity="0.5" filter="url(#blur6)"/>
<g fill="#ffb040" filter="url(#blur1)"><circle cx="88.3" cy="170.0" r="2.7"/><circle cx="154.4" cy="64.4" r="4.5"/><circle cx="122.2" cy="199.9" r="3.9"/><circle cx="47.5" cy="202.6" r="3.5"/><circle cx="39.4" cy="209.8" r="2.8"/><circle cx="124.8" cy="75.9" r="3.5"/><circle cx="18.3" cy="72.5" r="1.8"/><circle cx="24.3" cy="162.9" r="2.2"/><circle cx="46.8" cy="201.8" r="3.8"/><circle cx="76.6" cy="98.3" r="3.7"/><circle cx="99.3" cy="123.3" r="2.4"/><circle cx="71.7" cy="145.3" r="2.0"/><circle cx="17.7" cy="141.6" r="2.1"/><circle cx="25.8" cy="109.8" r="3.5"/><circle cx="140.9" cy="66.6" r="3.9"/><circle cx="62.6" cy="209.1" r="4.2"/><circle cx="61.9" cy="172.0" r="3.2"/><circle cx="52.8" cy="227.2" r="3.5"/><circle cx="158.6" cy="87.1" r="2.3"/><circle cx="154.5" cy="113.3" r="2.6"/><circle cx="58.2" cy="203.9" r="2.4"/><circle cx="36.4" cy="80.6" r="4.3"/><circle cx="25.9" cy="90.6" r="2.5"/><circle cx="101.1" cy="205.0" r="4.4"/><circle cx="87.9" cy="177.5" r="2.5"/><circle cx="94.1" cy="67.9" r="3.7"/><circle cx="97.1" cy="177.2" r="4.0"/><circle cx="139.9" cy="230.5" r="3.7"/><circle cx="33.8" cy="118.0" r="3.4"/><circle cx="36.6" cy="128.8" r="2.7"/><circle cx="37.8" cy="133.4" r="3.5"/><circle cx="155.8" cy="175.0" r="3.3"/><circle cx="43.0" cy="230.8" r="3.8"/><circle cx="120.5" cy="143.5" r="3.2"/><circle cx="29.8" cy="112.6" r="1.6"/><circle cx="164.6" cy="123.8" r="3.5"/><circle cx="129.6" cy="142.5" r="4.4"/><circle cx="163.4" cy="145.6" r="1.6"/><circle cx="134.0" cy="149.8" r="1.6"/><circle cx="125.5" cy="165.7" r="4.4"/><circle cx="106.5" cy="131.7" r="1.8"/><circle cx="41.6" cy="188.3" r="4.0"/><circle cx="69.6" cy="158.7" r="2.1"/><circle cx="17.7" cy="100.3" r="1.9"/><circle cx="139.7" cy="76.2" r="2.1"/></g>
<g fill="#ffe080" filter="url(#blur1)"><circle cx="89.4" cy="187.3" r="2.1"/><circle cx="79.8" cy="169.9" r="2.4"/><circle cx="132.4" cy="143.0" r="2.1"/><circle cx="130.9" cy="153.9" r="2.4"/><circle cx="125.1" cy="122.7" r="1.9"/><circle cx="70.7" cy="114.8" r="3.1"/><circle cx="123.6" cy="105.1" r="1.6"/><circle cx="68.8" cy="87.1" r="2.7"/><circle cx="81.5" cy="156.6" r="1.8"/><circle cx="109.9" cy="169.5" r="2.1"/><circle cx="137.7" cy="117.1" r="3.5"/><circle cx="138.4" cy="186.3" r="2.3"/><circle cx="123.3" cy="189.1" r="2.2"/><circle cx="119.5" cy="124.9" r="2.0"/><circle cx="130.5" cy="165.2" r="3.0"/><circle cx="58.9" cy="132.2" r="1.6"/><circle cx="97.1" cy="147.6" r="2.3"/><circle cx="93.1" cy="135.5" r="1.6"/><circle cx="86.6" cy="167.7" r="2.5"/><circle cx="53.3" cy="108.9" r="1.9"/></g>
<text x="7" y="18" font-size="17" fill="#fff" font-family='"DejaVu Sans", sans-serif' letter-spacing="-0.45">Merge</text>
<rect x="0" y="224.0" width="52" height="22" fill="#000"/>
<text x="26.0" y="233.5" font-size="9.5" fill="#fff" text-anchor="middle" font-family='"DejaVu Sans", sans-serif'>50 µm</text>
<path d="M7 237.5 H45 M7 234.0 V241.0 M45 234.0 V241.0" stroke="#fff" stroke-width="2" fill="none"/>
</svg>
<svg x="79.0" y="1536.7" width="175.0" height="246.0" overflow="hidden">
<rect width="175.0" height="246.0" fill="#1c1250"/>
<rect x="-63.4" y="-27.9" width="301.9" height="301.9" filter="url(#f43)" transform="rotate(35 87.5 123.0)"/>
<rect x="-63.4" y="-27.9" width="301.9" height="301.9" filter="url(#f44)" transform="rotate(35 87.5 123.0)"/>
<ellipse cx="21.0" cy="17.2" rx="21.0" ry="12.3" fill="#05030f" opacity="0.85" filter="url(#blur6)"/>
<ellipse cx="126.0" cy="49.2" rx="17.5" ry="14.8" fill="#05030f" opacity="0.75" filter="url(#blur6)"/>
<ellipse cx="161.0" cy="68.9" rx="14.0" ry="12.3" fill="#05030f" opacity="0.7" filter="url(#blur6)"/>
<ellipse cx="105.0" cy="164.8" rx="8.8" ry="8.6" fill="#05030f" opacity="0.85" filter="url(#blur6)"/>
<ellipse cx="17.5" cy="135.3" rx="8.8" ry="9.8" fill="#05030f" opacity="0.4" filter="url(#blur6)"/>
<ellipse cx="78.8" cy="61.5" rx="8.8" ry="9.8" fill="#05030f" opacity="0.5" filter="url(#blur6)"/>
<text x="7" y="18" font-size="17" fill="#fff" font-family='"DejaVu Sans", sans-serif' letter-spacing="-0.45">CD8</text>
<rect x="0" y="224.0" width="52" height="22" fill="#000"/>
<text x="26.0" y="233.5" font-size="9.5" fill="#fff" text-anchor="middle" font-family='"DejaVu Sans", sans-serif'>50 µm</text>
<path d="M7 237.5 H45 M7 234.0 V241.0 M45 234.0 V241.0" stroke="#fff" stroke-width="2" fill="none"/>
</svg>
<svg x="257.0" y="1536.7" width="175.0" height="246.0" overflow="hidden">
<rect width="175.0" height="246.0" fill="#161450"/>
<rect x="-63.4" y="-27.9" width="301.9" height="301.9" filter="url(#f45)" transform="rotate(35 87.5 123.0)"/>
<rect x="-63.4" y="-27.9" width="301.9" height="301.9" filter="url(#f46)" transform="rotate(35 87.5 123.0)"/>
<ellipse cx="21.0" cy="17.2" rx="21.0" ry="12.3" fill="#05030f" opacity="0.85" filter="url(#blur6)"/>
<ellipse cx="126.0" cy="49.2" rx="17.5" ry="14.8" fill="#05030f" opacity="0.75" filter="url(#blur6)"/>
<ellipse cx="161.0" cy="68.9" rx="14.0" ry="12.3" fill="#05030f" opacity="0.7" filter="url(#blur6)"/>
<ellipse cx="105.0" cy="164.8" rx="8.8" ry="8.6" fill="#05030f" opacity="0.85" filter="url(#blur6)"/>
<ellipse cx="17.5" cy="135.3" rx="8.8" ry="9.8" fill="#05030f" opacity="0.4" filter="url(#blur6)"/>
<ellipse cx="78.8" cy="61.5" rx="8.8" ry="9.8" fill="#05030f" opacity="0.5" filter="url(#blur6)"/>
<g fill="#fff07a" filter="url(#blur1)"><circle cx="36.2" cy="122.4" r="2.1"/><circle cx="88.6" cy="87.3" r="3.5"/><circle cx="104.7" cy="183.4" r="3.6"/><circle cx="95.5" cy="129.1" r="1.8"/><circle cx="136.0" cy="50.6" r="2.3"/><circle cx="49.7" cy="180.2" r="2.6"/><circle cx="96.9" cy="140.9" r="3.4"/><circle cx="163.4" cy="109.8" r="3.5"/><circle cx="125.6" cy="174.1" r="3.7"/><circle cx="55.0" cy="99.6" r="2.6"/><circle cx="69.1" cy="94.2" r="2.0"/><circle cx="155.2" cy="227.9" r="3.5"/><circle cx="137.4" cy="116.8" r="2.2"/><circle cx="82.7" cy="40.3" r="1.8"/><circle cx="92.6" cy="118.6" r="3.0"/><circle cx="104.8" cy="56.5" r="3.5"/><circle cx="85.9" cy="131.0" r="2.4"/><circle cx="77.6" cy="217.9" r="3.7"/><circle cx="52.0" cy="217.5" r="3.4"/><circle cx="141.5" cy="92.6" r="3.6"/><circle cx="107.7" cy="127.1" r="1.6"/><circle cx="98.6" cy="71.3" r="2.2"/><circle cx="147.5" cy="104.5" r="3.4"/><circle cx="77.6" cy="59.5" r="2.4"/><circle cx="49.7" cy="67.2" r="3.1"/><circle cx="123.8" cy="72.8" r="3.2"/><circle cx="101.2" cy="56.6" r="1.7"/><circle cx="124.5" cy="216.4" r="3.4"/><circle cx="110.3" cy="50.0" r="3.2"/><circle cx="35.0" cy="190.3" r="1.7"/><circle cx="162.4" cy="131.6" r="2.0"/><circle cx="40.1" cy="88.8" r="3.1"/><circle cx="63.9" cy="52.4" r="3.2"/><circle cx="49.8" cy="70.0" r="2.0"/><circle cx="46.5" cy="85.1" r="1.7"/><circle cx="28.1" cy="60.6" r="2.4"/><circle cx="155.3" cy="201.5" r="2.8"/><circle cx="49.1" cy="219.9" r="2.1"/><circle cx="99.2" cy="147.3" r="2.5"/><circle cx="58.2" cy="213.6" r="1.7"/></g>
<g fill="#ffe040" filter="url(#blur1)"><circle cx="73.2" cy="214.6" r="1.9"/><circle cx="62.0" cy="177.3" r="2.6"/><circle cx="79.5" cy="194.5" r="2.8"/><circle cx="83.9" cy="184.4" r="1.8"/><circle cx="92.4" cy="197.2" r="2.3"/><circle cx="73.9" cy="230.1" r="2.4"/><circle cx="90.1" cy="197.2" r="2.5"/><circle cx="63.9" cy="179.8" r="2.0"/><circle cx="71.4" cy="230.9" r="1.8"/><circle cx="80.7" cy="225.8" r="2.3"/><circle cx="92.7" cy="215.8" r="2.6"/><circle cx="66.3" cy="190.9" r="2.8"/><circle cx="74.6" cy="219.1" r="2.5"/><circle cx="95.7" cy="205.7" r="2.9"/><circle cx="90.2" cy="215.5" r="2.9"/><circle cx="84.9" cy="199.8" r="2.7"/><circle cx="86.0" cy="206.8" r="2.6"/><circle cx="80.1" cy="227.2" r="2.3"/><circle cx="92.7" cy="199.8" r="2.7"/><circle cx="62.4" cy="230.5" r="1.7"/><circle cx="75.3" cy="188.8" r="2.7"/><circle cx="84.9" cy="198.5" r="1.6"/><circle cx="78.0" cy="225.7" r="2.8"/><circle cx="72.4" cy="232.7" r="1.9"/><circle cx="94.3" cy="178.9" r="1.6"/></g>
<text x="7" y="18" font-size="17" fill="#fff" font-family='"DejaVu Sans", sans-serif' letter-spacing="-0.45">CD1c</text>
<rect x="0" y="224.0" width="52" height="22" fill="#000"/>
<text x="26.0" y="233.5" font-size="9.5" fill="#fff" text-anchor="middle" font-family='"DejaVu Sans", sans-serif'>50 µm</text>
<path d="M7 237.5 H45 M7 234.0 V241.0 M45 234.0 V241.0" stroke="#fff" stroke-width="2" fill="none"/>
</svg>
<svg x="434.4" y="1536.7" width="175.5" height="246.0" overflow="hidden">
<rect width="175.5" height="246.0" fill="#161450"/>
<rect x="-63.3" y="-28.1" width="302.2" height="302.2" filter="url(#f47)" transform="rotate(35 87.8 123.0)"/>
<rect x="-63.3" y="-28.1" width="302.2" height="302.2" filter="url(#f48)" transform="rotate(35 87.8 123.0)"/>
<ellipse cx="21.1" cy="17.2" rx="21.1" ry="12.3" fill="#05030f" opacity="0.85" filter="url(#blur6)"/>
<ellipse cx="126.4" cy="49.2" rx="17.6" ry="14.8" fill="#05030f" opacity="0.75" filter="url(#blur6)"/>
<ellipse cx="161.5" cy="68.9" rx="14.0" ry="12.3" fill="#05030f" opacity="0.7" filter="url(#blur6)"/>
<ellipse cx="105.3" cy="164.8" rx="8.8" ry="8.6" fill="#05030f" opacity="0.85" filter="url(#blur6)"/>
<ellipse cx="17.6" cy="135.3" rx="8.8" ry="9.8" fill="#05030f" opacity="0.4" filter="url(#blur6)"/>
<ellipse cx="79.0" cy="61.5" rx="8.8" ry="9.8" fill="#05030f" opacity="0.5" filter="url(#blur6)"/>
<g fill="#ff9a30" filter="url(#blur1)"><circle cx="20.6" cy="171.7" r="4.1"/><circle cx="74.4" cy="200.3" r="2.7"/><circle cx="107.0" cy="196.2" r="2.1"/><circle cx="15.1" cy="77.5" r="1.6"/><circle cx="78.2" cy="68.9" r="1.8"/><circle cx="57.5" cy="113.3" r="3.9"/><circle cx="10.8" cy="153.1" r="3.9"/><circle cx="124.6" cy="74.9" r="1.9"/><circle cx="67.4" cy="50.2" r="4.1"/><circle cx="129.5" cy="178.5" r="3.3"/><circle cx="164.6" cy="111.4" r="1.6"/><circle cx="65.3" cy="118.8" r="3.7"/><circle cx="9.2" cy="186.1" r="2.4"/><circle cx="12.9" cy="146.0" r="3.9"/><circle cx="104.8" cy="166.8" r="2.7"/><circle cx="71.3" cy="53.1" r="3.9"/><circle cx="99.6" cy="70.6" r="2.0"/><circle cx="93.7" cy="159.9" r="4.1"/><circle cx="76.2" cy="136.7" r="3.4"/><circle cx="18.7" cy="202.9" r="2.5"/><circle cx="164.4" cy="189.1" r="3.8"/><circle cx="31.2" cy="122.0" r="2.8"/><circle cx="58.4" cy="126.2" r="2.3"/><circle cx="101.4" cy="163.6" r="3.3"/><circle cx="136.2" cy="176.1" r="2.5"/><circle cx="111.3" cy="172.5" r="1.7"/><circle cx="115.2" cy="122.9" r="1.9"/><circle cx="54.7" cy="172.3" r="3.3"/><circle cx="93.8" cy="193.5" r="3.1"/><circle cx="11.4" cy="152.2" r="2.9"/><circle cx="133.0" cy="148.7" r="3.6"/><circle cx="18.0" cy="159.5" r="2.1"/><circle cx="32.7" cy="170.3" r="3.7"/><circle cx="160.1" cy="104.6" r="4.1"/><circle cx="113.3" cy="158.9" r="3.7"/><circle cx="141.0" cy="59.3" r="3.2"/><circle cx="103.4" cy="154.0" r="2.5"/><circle cx="160.5" cy="81.0" r="3.7"/><circle cx="40.3" cy="65.2" r="1.8"/><circle cx="150.4" cy="54.2" r="2.3"/><circle cx="126.3" cy="98.5" r="4.0"/><circle cx="140.7" cy="121.4" r="3.4"/><circle cx="140.2" cy="158.6" r="4.0"/><circle cx="57.7" cy="140.2" r="2.1"/><circle cx="13.4" cy="167.2" r="2.4"/></g>
<g fill="#ff9a30" filter="url(#blur1)"><circle cx="1.4" cy="164.3" r="2.9"/><circle cx="7.5" cy="146.1" r="3.3"/><circle cx="61.5" cy="128.0" r="3.0"/><circle cx="26.0" cy="152.4" r="3.5"/><circle cx="102.9" cy="127.2" r="1.6"/><circle cx="72.2" cy="153.1" r="1.9"/><circle cx="35.0" cy="191.8" r="1.9"/><circle cx="65.6" cy="161.7" r="2.2"/><circle cx="48.3" cy="170.1" r="1.7"/><circle cx="65.4" cy="125.7" r="1.5"/><circle cx="16.5" cy="148.3" r="2.3"/><circle cx="56.7" cy="133.6" r="3.1"/><circle cx="55.5" cy="187.9" r="2.6"/><circle cx="24.3" cy="193.7" r="2.7"/><circle cx="36.7" cy="166.9" r="2.6"/></g>
<text x="7" y="18" font-size="17" fill="#fff" font-family='"DejaVu Sans", sans-serif' letter-spacing="-0.45">DCLAMP</text>
<rect x="0" y="224.0" width="52" height="22" fill="#000"/>
<text x="26.0" y="233.5" font-size="9.5" fill="#fff" text-anchor="middle" font-family='"DejaVu Sans", sans-serif'>50 µm</text>
<path d="M7 237.5 H45 M7 234.0 V241.0 M45 234.0 V241.0" stroke="#fff" stroke-width="2" fill="none"/>
</svg></svg></body></html>
